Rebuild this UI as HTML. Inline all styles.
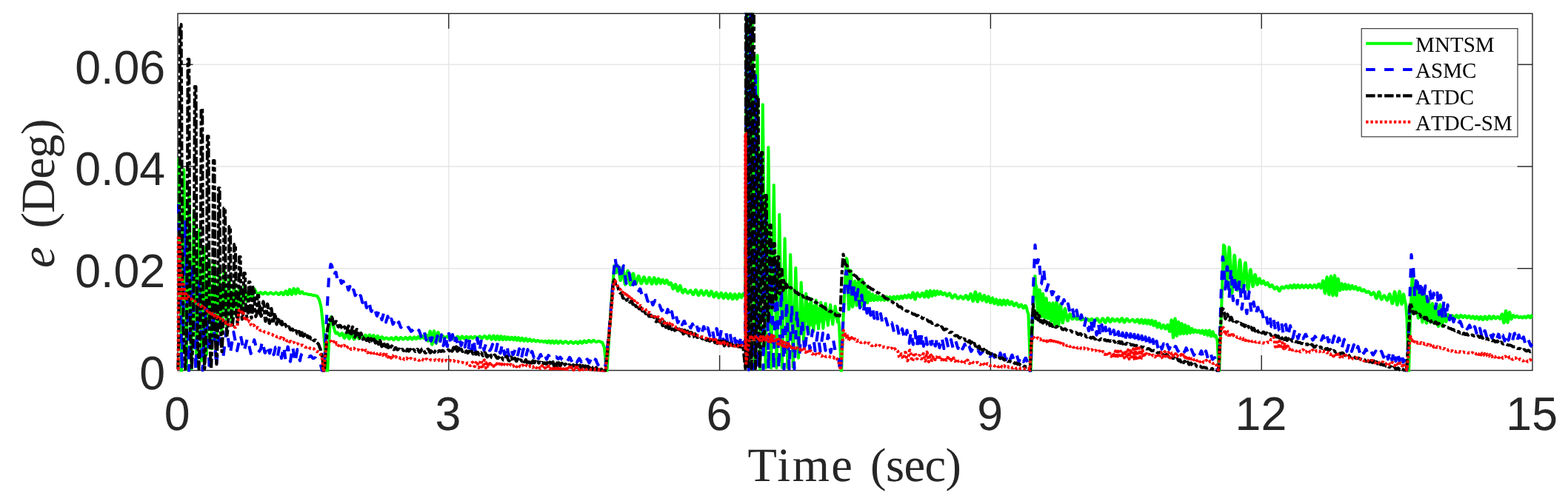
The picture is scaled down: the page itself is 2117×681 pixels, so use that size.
<!DOCTYPE html>
<html lang="en">
<head>
<meta charset="utf-8">
<title>Tracking error e (Deg) versus Time (sec)</title>
<style>
html,body{margin:0;padding:0;background:#fff;}
body{width:2117px;height:681px;overflow:hidden;}
svg{display:block;}
text{text-rendering:geometricPrecision;}
.tick{font-family:"Liberation Sans",sans-serif;font-size:63.6px;fill:#262626;}
.lab{font-family:"Liberation Serif",serif;font-size:64.5px;fill:#262626;}
.leg{font-family:"Liberation Serif",serif;font-size:29.05px;fill:#000;font-kerning:none;}
.curves path{fill:none;stroke-width:4.1;stroke-linejoin:round;stroke-linecap:butt;}
</style>
</head>
<body>
<svg width="2117" height="681" viewBox="0 0 2117 681">
<defs><clipPath id="box"><rect x="238.0" y="17.6" width="1831.7" height="485.0"/></clipPath></defs>
<rect x="0" y="0" width="2117" height="681" fill="#ffffff"/>
<g stroke="#e6e6e6" stroke-width="1.4" fill="none">
<line x1="605.80" y1="500.5" x2="605.80" y2="18.3"/>
<line x1="971.60" y1="500.5" x2="971.60" y2="18.3"/>
<line x1="1337.40" y1="500.5" x2="1337.40" y2="18.3"/>
<line x1="1703.20" y1="500.5" x2="1703.20" y2="18.3"/>
<line x1="240.0" y1="362.73" x2="2069.0" y2="362.73"/>
<line x1="240.0" y1="224.96" x2="2069.0" y2="224.96"/>
<line x1="240.0" y1="87.19" x2="2069.0" y2="87.19"/>
</g>
<g stroke="#262626" stroke-width="1.4" fill="none">
<rect x="240.0" y="18.3" width="1829.0" height="482.2"/>
<line x1="605.80" y1="500.5" x2="605.80" y2="480.0"/>
<line x1="605.80" y1="18.3" x2="605.80" y2="38.8"/>
<line x1="971.60" y1="500.5" x2="971.60" y2="480.0"/>
<line x1="971.60" y1="18.3" x2="971.60" y2="38.8"/>
<line x1="1337.40" y1="500.5" x2="1337.40" y2="480.0"/>
<line x1="1337.40" y1="18.3" x2="1337.40" y2="38.8"/>
<line x1="1703.20" y1="500.5" x2="1703.20" y2="480.0"/>
<line x1="1703.20" y1="18.3" x2="1703.20" y2="38.8"/>
<line x1="240.0" y1="362.73" x2="260.5" y2="362.73"/>
<line x1="2069.0" y1="362.73" x2="2048.5" y2="362.73"/>
<line x1="240.0" y1="224.96" x2="260.5" y2="224.96"/>
<line x1="2069.0" y1="224.96" x2="2048.5" y2="224.96"/>
<line x1="240.0" y1="87.19" x2="260.5" y2="87.19"/>
<line x1="2069.0" y1="87.19" x2="2048.5" y2="87.19"/>
</g>
<g class="curves" clip-path="url(#box)">
<path d="M1091.6 409.2L1094.9 438.9L1098.3 413.7L1101.7 436.5L1105.0 417.0L1108.2 434.1L1111.4 419.0L1114.6 431.0L1117.8 419.1L1121.1 427.7L1124.3 421.2L1127.6 427.3L1130.8 423.4L1134.1 425.3" stroke="#00ff00"/>
<path d="M241.5 212.9L244.9 501.8L248.3 229.3L251.7 499.3L255.1 255.3L258.5 498.1L261.9 284.1L265.3 495.2L268.7 310.4L272.1 487.4L275.5 334.2L278.9 479.2L282.3 350.5L285.7 471.3L289.1 355.2L292.5 461.0L295.9 359.8L299.3 451.3L302.7 364.1L306.1 440.6L309.5 377.6L312.9 436.7L316.3 380.3L319.7 426.5L323.1 389.0L326.5 420.0L329.9 387.4L333.3 407.2L336.7 389.5L340.1 406.1L343.5 390.2L346.0 395.2L346.5 395.5L347.0 396.0L347.5 396.4L348.0 396.8L348.5 397.0L349.0 396.9L349.5 396.6L350.0 396.2L350.5 395.7L351.0 395.3L351.5 395.1L352.0 395.1L352.5 395.4L353.0 395.9L353.5 396.5L354.0 397.0L354.5 397.3L355.0 397.4L355.5 397.2L356.0 396.7L356.5 396.2L357.0 395.6L357.5 395.2L358.0 395.0L358.5 395.0L359.0 395.4L359.5 395.9L360.0 396.4L360.5 397.0L361.0 397.3L361.5 397.5L362.0 397.4L362.5 397.2L363.0 396.8L363.5 396.3L364.0 395.9L364.5 395.5L365.0 395.4L365.5 395.4L366.0 395.6L366.5 395.9L367.0 396.3L367.5 396.7L368.0 397.0L368.5 397.3L369.0 397.4L369.5 397.4L370.0 397.3L370.5 396.9L371.0 396.5L371.5 396.1L372.0 395.7L372.5 395.4L373.0 395.4L373.5 395.6L374.0 396.0L374.5 396.5L375.0 397.1L375.5 397.6L376.0 397.9L376.5 398.0L377.0 397.7L377.5 397.2L378.0 396.5L378.5 395.8L379.0 395.3L379.5 395.1L380.0 395.2L380.5 395.6L381.0 396.4L381.5 397.2L382.0 397.9L382.5 398.3L383.0 398.1L383.5 397.4L384.0 396.2L384.5 394.9L385.0 393.8L385.5 393.2L386.0 393.3L386.5 394.1L387.0 395.5L387.5 396.9L388.0 398.0L388.5 398.2L389.0 397.5L389.5 396.0L390.0 394.0L390.5 392.2L391.0 391.2L391.5 391.4L392.0 392.6L392.5 394.5L393.0 396.4L393.5 397.7L394.0 398.0L394.5 397.0L395.0 395.1L395.5 392.8L396.0 390.9L396.5 389.9L397.0 390.1L397.5 391.4L398.0 393.4L398.5 395.4L399.0 396.9L399.5 397.2L400.0 396.3L400.5 394.5L401.0 392.2L401.5 390.7L402.0 390.1L402.5 390.5L403.0 391.8L403.5 393.4L404.0 395.0L404.5 396.1L405.0 396.5L405.5 396.3L406.0 395.7L406.5 394.9L407.0 394.4L407.5 394.2L408.0 394.3L408.5 394.8L409.0 395.5L409.5 396.1L410.0 396.6L410.5 396.9L411.0 397.0L411.5 397.0L412.0 396.9L412.5 396.8L413.0 396.7L413.5 396.8L414.0 396.9L414.5 397.1L415.0 397.3L415.5 397.6L416.0 397.8L416.5 398.0L417.0 398.1L417.5 398.1L418.0 398.0L418.5 398.0L419.0 398.0L419.5 398.0L420.0 398.1L420.5 398.3L421.0 398.6L421.5 398.8L422.0 399.0L422.5 399.1L423.0 399.1L423.5 399.1L424.0 399.1L424.5 399.2L425.0 399.2L425.5 399.3L426.0 399.4L426.5 399.6L427.0 399.8L427.5 399.9L428.0 400.0L428.3 400.1L428.5 400.4L429.0 401.3L429.5 402.2L430.0 403.1L430.5 404.1L431.0 405.0L431.5 406.9L432.0 408.8L432.5 410.8L433.0 412.7L433.5 414.6L434.0 419.2L434.5 423.8L435.0 428.4L435.5 433.0L436.0 437.6L436.5 442.2L436.7 444.0L437.0 448.1L437.5 454.8L438.0 461.6L438.5 468.4L439.0 475.2L439.5 481.9L439.8 486.0L440.0 487.7L440.5 492.0L441.0 496.4L441.5 500.7L442.0 505.0L442.5 495.0L443.0 485.0L443.5 475.0L444.0 465.0L444.5 456.5L445.0 448.0L445.5 439.5L446.0 431.0L446.5 430.0L447.0 429.0L447.5 428.0L448.0 430.3L448.5 432.5L449.0 434.5L449.5 436.7L450.0 439.1L450.5 441.1L451.0 443.2L451.5 445.2L452.0 447.1L452.5 448.6L453.0 449.7L453.5 450.6L454.0 450.0L454.5 449.5L455.0 449.3L455.5 449.4L456.0 449.8L456.5 450.4L457.0 451.2L457.5 452.1L458.0 452.9L458.5 453.4L459.0 453.5L459.5 453.2L460.0 452.5L460.5 451.5L461.0 450.7L461.5 450.2L462.0 450.3L462.5 451.0L463.0 452.3L463.5 453.8L464.0 455.4L464.5 456.5L465.0 456.9L465.5 456.5L466.0 455.4L466.5 453.9L467.0 452.2L467.5 450.8L468.0 450.1L468.5 450.2L469.0 451.1L469.5 452.7L470.0 454.5L470.5 456.2L471.0 457.4L471.5 457.9L472.0 457.4L472.5 456.3L473.0 454.6L473.5 452.8L474.0 451.3L474.5 450.4L475.0 450.2L475.5 451.0L476.0 452.4L476.5 454.2L477.0 456.1L477.5 457.6L478.0 458.4L478.5 458.2L479.0 457.3L479.5 455.8L480.0 454.1L480.5 452.5L481.0 451.5L481.5 451.2L482.0 451.7L482.5 452.8L483.0 454.3L483.5 455.9L484.0 457.0L484.5 457.6L485.0 457.5L485.5 456.7L486.0 455.5L486.5 454.2L487.0 453.2L487.5 452.7L488.0 452.8L488.5 453.5L489.0 454.6L489.5 455.8L490.0 456.8L490.5 457.4L491.0 457.4L491.5 456.8L492.0 455.6L492.5 454.2L493.0 453.1L493.5 452.7L494.0 453.0L494.5 454.2L495.0 455.8L495.5 457.4L496.0 458.4L496.5 458.5L497.0 457.7L497.5 456.1L498.0 454.3L498.5 452.9L499.0 452.4L499.5 453.1L500.0 454.8L500.5 456.8L501.0 458.5L501.5 459.2L502.0 458.8L502.5 457.4L503.0 455.6L503.5 454.0L504.0 453.1L504.5 453.1L505.0 454.1L505.5 455.8L506.0 457.5L506.5 458.7L507.0 459.2L507.5 458.7L508.0 457.6L508.5 456.0L509.0 454.7L509.5 453.8L510.0 453.8L510.5 454.5L511.0 455.8L511.5 457.3L512.0 458.4L512.5 459.0L513.0 458.8L513.5 458.1L514.0 457.1L514.5 456.1L515.0 455.3L515.5 455.1L516.0 455.3L516.5 455.9L517.0 456.7L517.5 457.5L518.0 458.0L518.5 458.3L519.0 458.2L519.5 457.8L520.0 457.4L520.5 456.9L521.0 456.6L521.5 456.5L522.0 456.6L522.5 456.7L523.0 457.0L523.5 457.4L524.0 457.9L524.5 458.3L525.0 458.5L525.5 458.5L526.0 458.2L526.5 457.7L527.0 457.1L527.5 456.6L528.0 456.2L528.5 456.2L529.0 456.5L529.5 457.1L530.0 457.8L530.5 458.6L531.0 459.1L531.5 459.3L532.0 459.1L532.5 458.5L533.0 457.6L533.5 456.6L534.0 455.9L534.5 455.6L535.0 455.7L535.5 456.2L536.0 457.0L536.5 457.8L537.0 458.6L537.5 459.0L538.0 459.1L538.5 458.7L539.0 458.1L539.5 457.4L540.0 456.6L540.5 456.1L541.0 455.9L541.5 456.0L542.0 456.4L542.5 457.0L543.0 457.6L543.5 458.1L544.0 458.4L544.5 458.5L545.0 458.3L545.5 457.8L546.0 457.2L546.5 456.6L547.0 456.1L547.5 455.8L548.0 455.9L548.5 456.4L549.0 457.0L549.5 457.8L550.0 458.3L550.5 458.6L551.0 458.5L551.5 458.1L552.0 457.3L552.5 456.5L553.0 455.8L553.5 455.5L554.0 455.6L554.5 456.2L555.0 457.0L555.5 457.8L556.0 458.4L556.5 458.6L557.0 458.4L557.5 457.7L558.0 456.8L558.4 456.2L558.5 456.0L559.0 455.5L559.5 455.4L560.0 455.8L560.5 456.5L561.0 457.2L561.5 457.8L562.0 458.0L562.5 457.7L563.0 457.0L563.5 456.2L564.0 455.4L564.5 454.9L565.0 455.0L565.5 455.4L566.0 456.1L566.5 456.8L567.0 457.3L567.5 457.3L568.0 456.9L568.5 456.0L569.0 455.0L569.5 454.2L570.0 453.9L570.5 454.2L571.0 454.9L571.5 455.9L572.0 456.8L572.5 457.2L573.0 457.0L573.5 456.1L574.0 454.9L574.5 453.7L575.0 452.9L575.5 452.5L576.0 453.1L576.5 454.8L577.0 457.3L577.5 459.6L578.0 460.8L578.5 460.2L579.0 457.5L579.5 453.7L580.0 449.8L580.5 447.5L581.0 448.0L581.5 451.1L582.0 456.1L582.5 461.4L583.0 465.1L583.5 465.5L584.0 462.8L584.5 458.1L585.0 452.9L585.5 448.8L586.0 447.1L586.5 448.3L587.0 451.9L587.5 456.6L588.0 461.0L588.5 463.6L589.0 463.8L589.5 461.7L590.0 457.9L590.5 453.7L591.0 450.4L591.5 448.9L592.0 449.5L592.5 452.1L593.0 455.2L593.5 458.0L594.0 459.7L594.5 459.8L595.0 458.7L595.5 457.1L596.0 455.5L596.5 454.3L597.0 453.7L597.5 453.7L598.0 454.1L598.5 454.5L599.0 455.0L599.5 455.5L600.0 456.0L600.5 456.3L601.0 456.4L601.5 456.2L602.0 455.8L602.5 455.4L603.0 454.9L603.5 454.6L604.0 454.5L604.5 454.7L605.0 455.2L605.5 455.8L606.0 456.4L606.5 457.0L607.0 457.4L607.5 457.5L608.0 457.4L608.5 457.0L609.0 456.5L609.5 455.9L610.0 455.5L610.5 455.2L611.0 455.2L611.5 455.4L612.0 455.8L612.5 456.4L613.0 457.0L613.5 457.6L614.0 458.0L614.5 458.1L615.0 457.8L615.5 457.3L616.0 456.5L616.5 455.7L617.0 455.0L617.5 454.7L618.0 454.7L618.5 455.1L619.0 455.9L619.5 456.8L620.0 457.6L620.5 458.2L621.0 458.3L621.5 457.9L622.0 457.1L622.5 456.1L623.0 455.2L623.5 454.6L624.0 454.5L624.5 454.8L625.0 455.5L625.5 456.4L626.0 457.1L626.5 457.6L627.0 457.7L627.5 457.4L628.0 456.7L628.5 455.9L629.0 455.2L629.5 454.8L630.0 454.8L630.5 455.2L631.0 455.8L631.5 456.5L632.0 457.0L632.5 457.2L633.0 457.0L633.5 456.6L634.0 456.0L634.5 455.4L635.0 455.0L635.5 454.8L636.0 455.1L636.5 455.5L637.0 456.1L637.5 456.6L638.0 456.9L638.5 457.0L639.0 456.7L639.5 456.2L640.0 455.6L640.5 455.1L641.0 454.8L641.5 454.8L642.0 455.0L642.5 455.4L643.0 455.9L643.5 456.4L644.0 456.8L644.5 456.8L645.0 456.6L645.5 456.2L646.0 455.6L646.5 455.1L647.0 454.6L647.5 454.4L648.0 454.5L648.5 454.8L649.0 455.4L649.5 456.0L650.0 456.5L650.5 456.9L651.0 457.0L651.5 456.7L652.0 456.2L652.5 455.6L653.0 454.9L653.5 454.3L654.0 454.0L654.5 454.0L655.0 454.3L655.5 454.9L656.0 455.7L656.5 456.6L657.0 457.3L657.5 457.7L658.0 457.6L658.5 457.0L659.0 456.1L659.5 455.1L660.0 454.1L660.5 453.6L661.0 453.7L661.5 454.3L662.0 455.5L662.5 456.8L663.0 458.0L663.5 458.6L664.0 458.5L664.5 457.6L665.0 456.3L665.5 454.8L666.0 453.8L666.5 453.5L667.0 454.0L667.5 455.3L668.0 456.8L668.5 458.2L669.0 458.9L669.5 458.8L670.0 457.7L670.5 456.2L671.0 454.7L671.5 453.9L672.0 454.0L672.5 455.0L673.0 456.6L673.5 458.1L674.0 459.1L674.5 459.0L675.0 458.0L675.5 456.4L676.0 454.9L676.5 454.2L677.0 454.5L677.5 455.7L678.0 457.3L678.5 458.6L679.0 459.1L679.5 458.6L680.0 457.4L680.5 456.0L681.0 455.0L681.5 454.8L682.0 455.5L682.5 456.8L683.0 458.1L683.5 458.9L684.0 458.9L684.5 458.1L685.0 456.9L685.5 455.8L686.0 455.4L686.5 455.7L687.0 456.6L687.5 457.8L688.0 458.7L688.5 459.0L689.0 458.6L689.5 457.6L690.0 456.5L690.5 455.7L691.0 455.7L691.5 456.4L692.0 457.6L692.5 458.7L693.0 459.3L693.5 459.2L694.0 458.2L694.5 457.0L695.0 456.0L695.5 455.7L696.0 456.3L696.5 457.5L697.0 458.8L697.5 459.7L698.0 459.8L698.5 459.0L699.0 457.8L699.5 456.6L700.0 456.1L700.5 456.5L701.0 457.5L701.5 458.9L702.0 459.9L702.5 460.3L703.0 459.9L703.5 458.9L704.0 457.7L704.5 456.8L705.0 456.7L705.5 457.3L706.0 458.4L706.5 459.7L707.0 460.5L707.5 460.8L708.0 460.2L708.5 459.2L709.0 458.1L709.5 457.4L710.0 457.3L710.5 457.8L711.0 458.8L711.5 459.9L712.0 460.7L712.5 461.0L713.0 460.7L713.5 460.0L714.0 459.1L714.5 458.5L715.0 458.2L715.5 458.4L716.0 459.0L716.5 459.8L717.0 460.5L717.5 461.0L718.0 461.1L718.5 460.8L719.0 460.3L719.5 459.7L720.0 459.3L720.5 459.1L721.0 459.3L721.5 459.7L722.0 460.3L722.5 460.8L723.0 461.2L723.5 461.4L724.0 461.2L724.5 460.8L725.0 460.4L725.5 460.0L726.0 459.9L726.5 460.1L727.0 460.5L727.5 460.9L728.0 461.4L728.5 461.6L729.0 461.6L729.5 461.4L730.0 461.1L730.5 460.8L731.0 460.7L731.5 460.7L732.0 460.9L732.5 461.3L733.0 461.8L733.5 462.2L734.0 462.3L734.5 462.1L735.0 461.6L735.5 461.1L736.0 460.7L736.5 460.8L737.0 461.2L737.5 461.9L738.0 462.7L738.5 463.1L739.0 463.0L739.5 462.4L740.0 461.5L740.5 460.7L741.0 460.4L741.5 460.7L742.0 461.7L742.5 462.7L743.0 463.5L743.5 463.6L744.0 463.0L744.5 462.0L745.0 461.0L745.5 460.5L746.0 460.5L746.5 461.1L747.0 462.1L747.5 463.0L748.0 463.6L748.5 463.7L749.0 463.2L749.5 462.3L750.0 461.4L750.5 460.8L751.0 460.5L751.5 460.8L752.0 461.5L752.5 462.4L753.0 463.3L753.5 463.8L754.0 463.8L754.5 463.4L755.0 462.8L755.5 462.0L756.0 461.3L756.5 460.9L757.0 460.8L757.5 461.1L758.0 461.7L758.5 462.4L759.0 463.1L759.5 463.6L760.0 463.8L760.5 463.8L761.0 463.4L761.5 462.9L762.0 462.3L762.5 461.7L763.0 461.3L763.5 461.2L764.0 461.2L764.5 461.5L765.0 462.0L765.5 462.5L766.0 463.1L766.5 463.5L767.0 463.8L767.5 463.9L768.0 463.6L768.5 463.2L769.0 462.7L769.5 462.2L770.0 461.7L770.5 461.5L771.0 461.5L771.5 461.8L772.0 462.2L772.5 462.8L773.0 463.3L773.5 463.7L774.0 463.9L774.5 463.8L775.0 463.5L775.5 463.0L776.0 462.4L776.5 462.0L777.0 461.7L777.5 461.7L778.0 462.0L778.5 462.5L779.0 463.2L779.5 463.8L780.0 464.1L780.5 464.1L781.0 463.7L781.5 463.0L782.0 462.2L782.5 461.5L783.0 461.1L783.5 461.1L784.0 461.5L784.5 462.2L785.0 462.9L785.5 463.5L786.0 463.7L786.5 463.4L787.0 462.8L787.5 462.0L788.0 461.2L788.5 460.6L789.0 460.5L789.5 460.7L790.0 461.3L790.5 462.0L791.0 462.6L791.5 463.0L792.0 463.0L792.5 462.6L793.0 462.0L793.5 461.2L794.0 460.6L794.5 460.1L795.0 460.0L795.5 460.2L796.0 460.6L796.5 461.2L797.0 461.7L797.5 462.1L798.0 462.2L798.5 462.1L799.0 461.7L799.5 461.1L800.0 460.5L800.5 460.1L801.0 459.9L801.5 459.9L802.0 460.1L802.5 460.5L803.0 460.9L803.5 461.4L804.0 461.7L804.5 462.0L805.0 462.1L805.5 462.0L806.0 461.8L806.5 461.6L807.0 461.3L807.5 461.1L808.0 461.0L808.5 460.9L809.0 461.0L809.5 461.2L810.0 461.4L810.5 461.7L811.0 462.0L811.5 462.3L812.0 462.4L812.5 462.5L813.0 462.5L813.5 463.6L814.0 464.7L814.5 465.9L815.0 467.2L815.5 468.6L816.0 470.0L816.5 475.5L817.0 480.9L817.5 486.4L818.0 491.9L818.5 497.3L819.0 502.8L819.2 505.0L819.5 500.2L820.0 492.1L820.5 484.1L821.0 476.1L821.5 468.0L822.0 460.0L822.5 452.5L823.0 445.0L823.5 437.5L824.0 430.0L824.5 422.5L825.0 415.0L825.5 407.5L825.6 406.0L826.0 401.1L826.5 394.9L827.0 388.7L827.5 382.5L828.0 376.3L828.5 370.1L829.0 363.9L829.4 359.0L829.5 359.1L830.0 360.1L830.5 361.8L831.0 364.2L831.5 366.7L832.0 368.5L832.5 367.2L833.0 365.0L833.5 362.4L834.0 360.4L834.5 359.6L835.0 360.6L835.5 363.4L836.0 367.5L836.5 372.2L837.0 376.2L837.5 378.8L838.0 379.0L838.5 377.0L839.0 373.2L839.5 368.6L840.0 364.3L840.5 361.5L841.0 361.0L841.5 363.5L842.0 367.9L842.5 373.3L843.0 378.5L843.5 382.5L844.0 384.6L844.5 384.3L845.0 381.9L845.5 378.1L846.0 373.7L846.5 369.7L847.0 366.9L847.5 365.8L848.0 366.7L848.4 368.6L848.5 369.2L849.0 372.9L849.5 377.0L850.0 380.8L850.5 383.6L851.0 385.0L851.5 384.8L852.0 383.2L852.5 380.4L853.0 377.1L853.5 373.8L854.0 371.2L854.5 369.7L855.0 369.5L855.5 370.6L856.0 372.9L856.5 375.7L857.0 378.7L857.5 381.3L858.0 383.1L858.5 383.8L859.0 383.3L859.5 381.8L860.0 379.7L860.5 377.3L861.0 375.1L861.5 373.5L862.0 372.8L862.5 373.0L863.0 374.1L863.5 375.9L864.0 378.0L864.5 380.1L865.0 381.9L865.5 383.0L866.0 383.3L866.5 382.7L867.0 381.3L867.5 379.4L868.0 377.4L868.5 375.7L869.0 374.5L869.5 374.2L870.0 374.6L870.5 375.9L871.0 377.6L871.5 379.5L872.0 381.3L872.5 382.5L873.0 383.1L873.5 382.9L874.0 382.0L874.5 380.5L875.0 378.7L875.5 377.0L876.0 375.6L876.5 374.9L877.0 375.1L877.5 376.1L878.0 377.8L878.5 379.8L879.0 381.7L879.5 383.1L880.0 383.7L880.5 383.3L881.0 381.9L881.5 380.0L882.0 377.9L882.5 376.1L883.0 375.1L883.5 375.3L884.0 376.4L884.5 378.4L885.0 380.7L885.5 382.7L886.0 383.7L886.5 383.7L887.0 382.6L887.5 380.8L888.0 378.8L888.5 377.2L889.0 376.4L889.5 376.7L890.0 377.8L890.5 379.5L891.0 381.2L891.5 382.5L891.6 382.7L892.0 383.0L892.5 382.5L893.0 381.3L893.5 379.8L894.0 378.5L894.5 377.8L895.0 377.9L895.5 378.8L896.0 380.2L896.5 381.6L897.0 382.7L897.5 383.0L898.0 382.5L898.5 381.4L899.0 380.1L899.5 379.0L900.0 378.4L900.5 378.7L901.0 379.6L901.5 380.9L902.0 382.2L902.5 383.7L903.0 384.5L903.5 384.5L904.0 384.0L904.5 383.1L905.0 382.3L905.5 382.0L906.0 382.3L906.5 383.4L907.0 385.1L907.5 387.1L908.0 389.1L908.5 390.2L909.0 390.5L909.5 389.9L910.0 388.6L910.5 387.0L911.0 385.4L911.5 384.3L912.0 384.1L912.5 384.9L913.0 386.5L913.5 388.6L914.0 390.7L914.5 392.5L915.0 393.4L915.5 393.3L916.0 392.2L916.5 390.5L917.0 388.5L917.5 386.8L918.0 385.8L918.5 386.0L919.0 387.1L919.5 388.9L920.0 391.1L920.5 393.1L921.0 394.7L921.5 395.5L922.0 395.6L922.5 395.0L923.0 393.9L923.5 392.7L924.0 391.7L924.5 391.0L925.0 390.9L925.5 391.4L926.0 392.3L926.5 393.3L927.0 394.3L927.5 395.2L928.0 395.9L928.5 396.1L929.0 396.0L929.5 395.7L930.0 395.1L930.5 394.3L931.0 393.5L931.5 392.8L932.0 392.4L932.5 392.4L933.0 392.9L933.5 393.8L934.0 395.0L934.5 396.3L935.0 397.4L935.5 398.1L936.0 398.2L936.5 397.8L937.0 396.8L937.5 395.4L937.6 395.1L938.0 394.0L938.5 392.7L939.0 391.8L939.5 391.6L940.0 392.1L940.5 393.2L941.0 394.8L941.5 396.4L942.0 397.8L942.5 398.8L943.0 399.1L943.5 398.7L944.0 397.8L944.5 396.5L945.0 395.1L945.5 393.8L946.0 392.8L946.5 392.5L947.0 392.7L947.5 393.5L948.0 394.7L948.5 396.1L949.0 397.3L949.5 398.2L950.0 398.7L950.5 398.5L951.0 397.9L951.5 396.9L952.0 395.6L952.5 394.4L953.0 393.4L953.5 392.9L954.0 393.0L954.5 393.7L955.0 394.9L955.5 396.5L956.0 398.0L956.5 399.2L957.0 399.8L957.5 399.7L958.0 398.9L958.5 397.6L959.0 396.1L959.5 394.8L960.0 393.8L960.5 393.5L961.0 394.0L961.5 395.2L962.0 396.8L962.5 398.6L963.0 400.2L963.5 401.1L964.0 401.4L964.5 400.8L965.0 399.7L965.5 398.2L966.0 396.7L966.5 395.6L967.0 395.1L967.5 395.4L967.8 395.9L968.0 396.3L968.5 397.7L969.0 399.4L969.5 400.9L970.0 401.9L970.5 402.3L971.0 401.8L971.5 400.7L972.0 399.1L972.5 397.5L973.0 396.3L973.5 395.7L974.0 395.9L974.5 396.9L975.0 398.4L975.5 400.2L976.0 401.8L976.5 402.8L977.0 402.9L977.5 402.3L978.0 401.0L978.5 399.3L979.0 397.7L979.5 396.6L980.0 396.3L980.5 396.8L981.0 398.1L981.5 399.8L982.0 401.6L982.5 402.9L983.0 403.5L983.5 403.3L984.0 402.2L984.5 400.6L985.0 398.9L985.5 397.5L986.0 396.8L986.5 397.1L987.0 398.2L987.5 399.9L988.0 401.7L988.5 403.3L989.0 404.2L989.5 404.1L990.0 403.1L990.5 401.5L991.0 399.6L991.5 398.1L992.0 397.3L992.5 397.5L993.0 398.6L993.5 400.2L994.0 402.0L994.5 403.5L995.0 404.1L995.5 403.8L996.0 402.6L996.5 400.8L997.0 399.0L997.5 397.6L998.0 396.9L998.5 397.2L999.0 398.2L999.5 399.6L1000.0 401.0L1000.5 401.9L1001.0 402.2L1001.5 401.6L1002.0 400.5L1002.5 399.1L1003.0 397.8L1003.5 396.9L1004.0 397.2L1004.5 397.9L1005.0 398.6L1005.5 399.1L1006.0 399.3L1006.3 399.3L1008.3 -59.9L1011.8 498.2L1015.2 -60.4L1018.9 497.8L1022.5 74.8L1026.2 498.4L1029.8 141.3L1033.6 496.9L1037.4 199.1L1041.1 497.3L1044.8 250.1L1048.5 497.2L1052.3 289.8L1055.9 496.8L1059.6 322.4L1063.4 497.3L1067.2 344.0L1070.8 495.9L1074.3 362.0L1078.0 483.6L1081.7 381.6L1085.0 459.2L1088.2 396.9L1091.6 451.1L1094.9 403.6L1098.3 447.0L1101.7 405.6L1105.0 444.3L1108.2 408.8L1111.4 443.6L1114.6 410.0L1117.8 439.6L1121.1 411.8L1124.3 438.2L1127.6 413.8L1130.8 435.2L1131.5 427.8L1132.0 432.8L1132.5 436.4L1133.0 440.2L1133.5 450.3L1134.0 461.0L1134.5 472.0L1135.0 483.2L1135.5 494.2L1136.0 505.0L1136.5 490.0L1137.0 475.0L1137.5 460.0L1138.0 445.0L1138.5 430.0L1139.0 420.6L1139.5 411.2L1140.0 401.7L1140.5 392.3L1141.0 382.9L1141.5 373.5L1142.0 364.1L1142.5 354.7L1142.8 349.0L1143.0 351.0L1143.5 350.6L1144.0 353.6L1144.5 366.7L1145.0 390.5L1145.5 408.3L1146.0 418.1L1146.5 416.5L1147.0 404.7L1147.5 387.7L1148.0 372.5L1148.5 365.4L1149.0 369.0L1149.5 380.7L1150.0 395.5L1150.5 408.1L1151.0 414.7L1151.5 414.0L1152.0 407.3L1152.5 397.6L1153.0 388.5L1153.5 382.7L1154.0 379.8L1154.5 382.1L1155.0 389.1L1155.5 398.7L1156.0 407.7L1156.5 412.8L1157.0 411.9L1157.5 405.0L1158.0 394.4L1158.5 383.9L1159.0 377.4L1159.5 377.5L1160.0 384.4L1160.5 395.8L1161.0 407.3L1161.5 414.5L1162.0 414.5L1162.5 407.3L1163.0 395.6L1163.5 384.3L1164.0 377.6L1164.5 378.6L1165.0 387.4L1165.5 399.3L1166.0 409.3L1166.5 413.7L1167.0 411.2L1167.5 403.4L1168.0 394.1L1168.5 387.5L1169.0 386.1L1169.5 390.3L1170.0 397.8L1170.5 405.1L1171.0 409.2L1171.5 408.6L1172.0 404.2L1172.5 398.7L1173.0 394.8L1173.5 394.3L1174.0 396.7L1174.5 400.5L1175.0 404.2L1175.5 406.1L1176.0 405.7L1176.5 403.2L1177.0 400.0L1177.5 397.7L1178.0 397.4L1178.5 399.2L1179.0 402.1L1179.5 404.7L1180.0 406.0L1180.5 405.4L1181.0 403.3L1181.5 401.0L1182.0 399.4L1182.5 399.3L1183.0 400.7L1183.5 402.8L1184.0 404.7L1184.5 405.7L1185.0 405.4L1185.5 404.0L1186.0 402.2L1186.5 400.8L1187.0 400.4L1187.5 401.1L1188.0 402.7L1188.5 404.4L1189.0 405.5L1189.5 405.6L1190.0 404.7L1190.5 403.0L1191.0 401.4L1191.5 400.6L1192.0 400.8L1192.5 401.9L1193.0 403.6L1193.5 405.0L1194.0 405.7L1194.5 405.4L1195.0 404.2L1195.5 402.6L1196.0 401.3L1196.5 400.7L1197.0 401.2L1197.5 402.4L1198.0 403.9L1198.5 405.2L1199.0 405.6L1199.5 405.1L1200.0 404.0L1200.5 402.6L1200.6 402.4L1201.0 401.5L1201.5 401.1L1202.0 401.4L1202.5 402.5L1203.0 403.8L1203.5 404.7L1204.0 405.1L1204.5 404.6L1205.0 403.5L1205.5 402.1L1206.0 401.1L1206.5 400.7L1207.0 401.1L1207.5 402.1L1208.0 403.3L1208.5 404.2L1209.0 404.5L1209.5 404.0L1210.0 402.9L1210.5 401.6L1211.0 400.7L1211.5 400.3L1212.0 400.7L1212.5 401.7L1213.0 402.8L1213.5 403.6L1214.0 403.9L1214.5 403.4L1215.0 402.3L1215.5 401.1L1216.0 400.2L1216.5 399.8L1217.0 400.2L1217.5 401.0L1218.0 402.1L1218.5 402.9L1219.0 403.1L1219.5 402.6L1220.0 401.6L1220.5 400.4L1221.0 399.5L1221.5 399.1L1222.0 399.4L1222.5 400.2L1223.0 401.2L1223.5 402.0L1224.0 402.4L1224.5 402.1L1225.0 401.3L1225.5 400.2L1226.0 399.2L1226.5 398.5L1227.0 398.3L1227.5 398.8L1228.0 399.6L1228.5 400.7L1229.0 401.8L1229.5 402.5L1230.0 402.5L1230.5 401.5L1231.0 399.9L1231.5 397.9L1232.0 396.2L1232.5 395.3L1233.0 395.6L1233.5 397.2L1234.0 399.6L1234.5 402.1L1235.0 404.1L1235.5 404.6L1236.0 403.8L1236.5 402.0L1237.0 399.8L1237.5 397.7L1238.0 396.3L1238.5 395.8L1239.0 396.1L1239.5 397.1L1240.0 398.3L1240.5 399.5L1241.0 400.4L1241.5 400.8L1242.0 400.9L1242.5 400.8L1243.0 400.1L1243.5 399.1L1244.0 397.8L1244.5 396.6L1245.0 395.8L1245.5 395.7L1246.0 396.3L1246.5 397.6L1247.0 399.2L1247.5 400.6L1248.0 401.5L1248.5 401.4L1249.0 400.2L1249.5 398.2L1250.0 395.9L1250.5 394.0L1251.0 393.3L1251.5 393.9L1252.0 395.8L1252.5 398.4L1253.0 400.7L1253.5 401.7L1254.0 401.1L1254.4 399.5L1254.5 399.0L1255.0 396.3L1255.5 393.9L1256.0 392.7L1256.5 393.2L1257.0 395.0L1257.5 397.4L1258.0 399.5L1258.5 400.2L1259.0 399.4L1259.5 397.4L1260.0 395.0L1260.5 393.3L1261.0 393.1L1261.5 394.3L1262.0 396.3L1262.5 398.2L1263.0 399.0L1263.5 398.3L1264.0 396.6L1264.5 394.6L1265.0 393.4L1265.5 393.3L1266.0 394.3L1266.5 395.8L1267.0 397.2L1267.5 397.8L1267.8 397.7L1268.0 397.5L1268.5 396.6L1269.0 395.3L1269.5 394.4L1270.0 394.0L1270.5 394.5L1271.0 395.4L1271.5 396.6L1272.0 397.6L1272.5 398.2L1273.0 398.2L1273.5 397.7L1274.0 397.0L1274.5 396.4L1275.0 395.8L1275.5 395.7L1276.0 395.9L1276.5 396.6L1277.0 397.6L1277.5 398.7L1278.0 399.5L1278.5 399.9L1279.0 399.9L1279.5 399.4L1280.0 398.6L1280.5 397.7L1281.0 396.9L1281.5 396.4L1282.0 396.3L1282.5 396.7L1283.0 397.5L1283.5 398.7L1284.0 399.9L1284.5 401.1L1285.0 402.1L1285.5 402.7L1286.0 402.6L1286.5 402.2L1287.0 401.4L1287.5 400.4L1288.0 399.5L1288.5 398.7L1289.0 398.2L1289.5 398.2L1290.0 398.5L1290.5 399.3L1291.0 400.2L1291.5 401.3L1292.0 402.3L1292.5 403.1L1293.0 403.5L1293.5 403.6L1294.0 403.4L1294.5 402.9L1294.7 402.6L1295.0 402.2L1295.5 401.4L1296.0 400.8L1296.5 400.4L1297.0 400.2L1297.5 400.3L1298.0 400.8L1298.5 401.5L1299.0 402.3L1299.5 403.1L1300.0 403.7L1300.5 403.9L1301.0 403.7L1301.5 403.1L1302.0 402.1L1302.5 401.0L1303.0 400.0L1303.5 399.3L1304.0 399.0L1304.5 399.3L1305.0 400.2L1305.5 401.4L1306.0 402.8L1306.5 403.9L1307.0 404.6L1307.5 404.6L1308.0 403.9L1308.5 402.6L1309.0 400.9L1309.5 399.1L1310.0 397.7L1310.5 397.0L1311.0 397.4L1311.5 398.7L1312.0 400.9L1312.5 403.4L1313.0 405.6L1313.5 406.9L1314.0 406.8L1314.5 405.4L1315.0 402.7L1315.5 399.5L1316.0 396.6L1316.5 394.6L1317.0 394.3L1317.5 395.6L1318.0 398.4L1318.5 402.0L1319.0 405.2L1319.5 407.3L1320.0 407.7L1320.5 406.5L1321.0 404.0L1321.5 401.1L1322.0 398.5L1322.5 397.0L1323.0 396.9L1323.5 398.0L1324.0 400.0L1324.5 402.2L1325.0 404.0L1325.5 405.5L1326.0 406.0L1326.5 405.5L1327.0 404.2L1327.5 402.3L1328.0 400.4L1328.5 399.2L1329.0 399.0L1329.5 399.9L1330.0 401.9L1330.5 404.3L1331.0 406.5L1331.5 407.8L1332.0 407.9L1332.5 406.8L1333.0 404.9L1333.5 402.8L1334.0 401.1L1334.5 400.5L1335.0 401.1L1335.5 402.9L1336.0 405.3L1336.5 407.6L1337.0 409.0L1337.5 409.2L1338.0 408.2L1338.5 406.3L1339.0 404.3L1339.5 402.9L1340.0 402.5L1340.5 403.4L1341.0 405.3L1341.5 407.6L1342.0 409.5L1342.5 410.4L1343.0 410.1L1343.5 408.7L1344.0 406.8L1344.5 405.1L1345.0 404.4L1345.5 404.9L1346.0 406.5L1346.5 408.6L1347.0 410.6L1347.5 411.6L1348.0 411.4L1348.4 410.4L1348.5 410.1L1349.0 408.1L1349.5 406.3L1350.0 405.4L1350.5 405.9L1351.0 407.6L1351.5 409.7L1352.0 411.4L1352.5 412.0L1353.0 411.3L1353.5 409.5L1354.0 407.5L1354.5 406.0L1355.0 405.5L1355.5 406.2L1356.0 407.8L1356.5 409.7L1357.0 411.2L1357.5 411.7L1358.0 411.2L1358.5 409.9L1359.0 408.2L1359.5 406.7L1360.0 405.9L1360.5 406.0L1361.0 407.0L1361.5 408.4L1361.9 409.6L1362.0 409.9L1362.5 411.1L1363.0 411.6L1363.5 411.4L1364.0 410.5L1364.5 409.3L1365.0 408.2L1365.5 407.5L1366.0 407.5L1366.5 408.1L1367.0 409.2L1367.5 410.5L1368.0 411.8L1368.5 412.8L1369.0 413.2L1369.5 413.0L1370.0 412.4L1370.5 411.5L1371.0 410.6L1371.5 409.8L1372.0 409.5L1372.5 409.7L1373.0 410.3L1373.5 411.3L1374.0 412.4L1374.5 413.5L1375.0 414.4L1375.3 414.7L1375.5 414.8L1376.0 414.8L1376.5 414.3L1377.0 413.5L1377.5 412.6L1378.0 411.9L1378.5 411.5L1379.0 411.7L1379.5 412.3L1380.0 413.4L1380.5 414.6L1381.0 415.6L1381.5 416.2L1382.0 416.3L1382.5 415.8L1383.0 414.9L1383.5 414.0L1384.0 413.2L1384.5 413.0L1385.0 413.5L1385.5 414.4L1386.0 415.7L1386.5 418.3L1387.0 420.3L1387.5 421.8L1388.0 423.2L1388.5 425.0L1389.0 438.8L1389.5 452.6L1390.0 466.4L1390.5 480.2L1391.0 494.0L1391.4 505.0L1391.5 502.5L1392.0 490.0L1392.5 477.5L1393.0 465.0L1393.5 452.5L1394.0 440.0L1394.5 430.4L1395.0 420.9L1395.5 411.3L1396.0 401.7L1396.5 392.1L1397.0 382.6L1397.5 373.0L1398.0 383.7L1398.5 386.2L1399.0 386.2L1399.5 388.6L1400.0 398.6L1400.5 411.9L1401.0 422.4L1401.5 425.6L1402.0 420.3L1402.5 409.2L1403.0 397.8L1403.5 391.5L1404.0 393.5L1404.5 402.8L1405.0 415.2L1405.5 425.1L1406.0 428.0L1406.5 423.0L1407.0 412.7L1407.5 402.1L1408.0 396.7L1408.5 399.1L1409.0 408.2L1409.5 419.5L1410.0 428.0L1410.5 429.7L1411.0 424.4L1411.5 415.0L1412.0 406.3L1412.5 402.8L1413.0 406.1L1413.5 414.5L1414.0 424.1L1414.5 430.3L1415.0 430.4L1415.5 424.9L1416.0 416.9L1416.5 410.6L1417.0 409.3L1417.5 413.5L1418.0 421.0L1418.5 429.2L1419.0 434.1L1419.5 433.4L1420.0 427.5L1420.5 418.9L1421.0 411.7L1421.5 409.3L1422.0 413.1L1422.5 421.4L1423.0 430.9L1423.5 437.6L1424.0 438.7L1424.5 433.7L1425.0 424.8L1425.5 415.2L1426.0 408.8L1426.5 407.9L1427.0 412.7L1427.5 421.6L1428.0 431.3L1428.5 438.6L1429.0 440.6L1429.5 437.4L1430.0 430.4L1430.5 422.1L1431.0 415.0L1431.5 411.2L1432.0 411.5L1432.5 415.4L1433.0 421.5L1433.5 428.1L1433.7 430.4L1434.0 433.4L1434.5 436.3L1435.0 436.3L1435.5 433.7L1436.0 429.4L1436.5 424.6L1437.0 420.3L1437.5 417.7L1438.0 417.0L1438.5 418.2L1439.0 421.0L1439.5 424.7L1440.0 428.5L1440.5 431.5L1441.0 433.3L1441.5 433.6L1442.0 432.7L1442.5 430.8L1443.0 428.4L1443.5 426.3L1444.0 424.8L1444.5 424.2L1445.0 424.6L1445.5 425.7L1446.0 427.3L1446.5 428.9L1447.0 430.3L1447.5 431.1L1448.0 431.3L1448.5 431.0L1449.0 430.2L1449.5 429.3L1450.0 428.5L1450.5 428.1L1451.0 428.0L1451.5 428.3L1452.0 429.0L1452.5 429.9L1453.0 430.7L1453.5 431.3L1454.0 431.6L1454.5 431.4L1455.0 430.9L1455.5 430.3L1456.0 429.8L1456.5 429.6L1457.0 429.7L1457.5 430.1L1458.0 430.8L1458.5 431.5L1459.0 432.0L1459.5 432.3L1460.0 432.2L1460.5 431.9L1460.6 431.8L1461.0 431.4L1461.5 430.9L1462.0 430.7L1462.5 430.7L1463.0 431.1L1463.5 431.6L1464.0 432.2L1464.5 432.6L1465.0 432.8L1465.5 432.6L1466.0 432.2L1466.5 431.6L1467.0 431.1L1467.5 430.8L1468.0 430.8L1468.5 431.1L1469.0 431.6L1469.5 432.3L1470.0 432.9L1470.5 433.3L1471.0 433.3L1471.5 433.1L1472.0 432.6L1472.5 432.0L1473.0 431.4L1473.5 430.9L1474.0 430.7L1474.5 430.9L1475.0 431.4L1475.5 432.1L1476.0 432.9L1476.5 433.6L1477.0 434.2L1477.5 434.3L1478.0 434.2L1478.5 433.6L1479.0 432.8L1479.5 431.9L1480.0 431.1L1480.5 430.6L1481.0 430.3L1481.5 430.5L1482.0 431.0L1482.5 431.8L1483.0 432.9L1483.5 433.9L1484.0 434.7L1484.5 435.3L1485.0 435.5L1485.5 435.2L1486.0 434.6L1486.5 433.6L1487.0 432.6L1487.5 431.6L1488.0 430.7L1488.5 430.2L1489.0 430.3L1489.5 430.8L1490.0 431.7L1490.5 432.9L1491.0 434.1L1491.5 435.2L1492.0 435.8L1492.5 435.9L1493.0 435.3L1493.5 434.2L1494.0 432.8L1494.5 431.3L1495.0 430.2L1495.5 429.6L1496.0 429.7L1496.5 430.5L1497.0 431.6L1497.5 433.0L1498.0 434.2L1498.5 435.0L1499.0 435.2L1499.5 434.8L1500.0 433.9L1500.5 432.7L1501.0 431.6L1501.5 430.8L1502.0 430.5L1502.5 430.7L1503.0 431.3L1503.5 432.2L1504.0 433.0L1504.5 433.6L1505.0 433.9L1505.5 433.7L1506.0 433.5L1506.5 432.9L1507.0 432.2L1507.5 431.5L1508.0 431.1L1508.5 431.0L1509.0 431.3L1509.5 432.0L1510.0 433.0L1510.5 433.9L1511.0 434.7L1511.5 434.9L1512.0 434.7L1512.5 433.9L1513.0 432.8L1513.5 431.6L1514.0 430.6L1514.5 430.0L1515.0 430.1L1515.5 430.7L1516.0 431.8L1516.5 433.2L1517.0 434.5L1517.5 435.3L1518.0 435.6L1518.5 435.4L1519.0 434.6L1519.5 433.5L1520.0 432.4L1520.5 431.5L1521.0 430.9L1521.5 430.7L1522.0 430.9L1522.5 431.5L1523.0 432.3L1523.5 433.1L1524.0 433.8L1524.5 434.3L1525.0 434.5L1525.5 434.4L1526.0 434.1L1526.5 433.7L1527.0 433.1L1527.5 432.7L1527.8 432.4L1528.0 432.2L1528.5 431.9L1529.0 431.8L1529.5 431.8L1530.0 432.2L1530.5 432.8L1531.0 433.6L1531.5 434.4L1532.0 435.0L1532.5 435.3L1533.0 435.1L1533.5 434.6L1534.0 433.7L1534.5 432.7L1535.0 431.9L1535.5 431.5L1536.0 431.7L1536.5 432.5L1537.0 433.7L1537.5 435.0L1538.0 436.1L1538.5 436.6L1539.0 436.2L1539.5 435.1L1540.0 433.7L1540.5 432.4L1541.0 431.7L1541.5 431.9L1542.0 432.9L1542.5 434.5L1543.0 436.0L1543.5 437.0L1544.0 436.9L1544.5 435.9L1545.0 434.4L1545.5 432.9L1546.0 432.1L1546.5 432.5L1547.0 433.8L1547.5 435.6L1548.0 437.1L1548.5 437.5L1549.0 436.7L1549.5 435.0L1550.0 433.4L1550.5 432.5L1551.0 432.9L1551.5 434.3L1552.0 436.2L1552.5 437.7L1553.0 438.1L1553.5 437.2L1554.0 435.6L1554.5 433.8L1554.7 433.3L1555.0 432.8L1555.5 433.1L1556.0 434.6L1556.5 436.7L1557.0 438.8L1557.5 439.9L1558.0 439.8L1558.5 438.4L1559.0 436.4L1559.5 434.7L1560.0 434.0L1560.5 434.7L1561.0 436.7L1561.5 439.2L1562.0 441.3L1562.5 442.3L1563.0 442.0L1563.5 440.7L1564.0 438.9L1564.5 437.3L1565.0 436.6L1565.5 437.0L1566.0 438.3L1566.5 440.2L1567.0 442.0L1567.5 443.3L1568.0 443.8L1568.5 443.3L1569.0 442.1L1569.5 440.8L1570.0 439.6L1570.5 439.1L1571.0 439.2L1571.5 440.0L1572.0 441.1L1572.5 442.4L1573.0 443.7L1573.5 444.5L1574.0 444.5L1574.5 443.7L1575.0 442.2L1575.5 440.5L1576.0 439.2L1576.5 438.8L1577.0 439.5L1577.5 441.3L1578.0 443.7L1578.5 446.2L1579.0 447.9L1579.5 447.9L1580.0 445.5L1580.5 441.1L1581.0 436.0L1581.5 432.4L1582.0 432.6L1582.5 436.9L1583.0 444.3L1583.5 451.8L1584.0 456.3L1584.5 454.6L1585.0 448.3L1585.5 440.0L1586.0 433.1L1586.5 430.4L1587.0 432.9L1587.5 439.5L1588.0 447.2L1588.5 452.7L1589.0 453.8L1589.5 450.1L1590.0 443.8L1590.5 437.8L1591.0 434.8L1591.5 435.9L1592.0 440.3L1592.5 445.8L1593.0 450.2L1593.5 451.3L1594.0 448.8L1594.5 444.1L1595.0 439.4L1595.5 437.1L1596.0 438.2L1596.5 442.1L1597.0 446.9L1597.5 450.4L1598.0 451.0L1598.5 448.7L1599.0 444.6L1599.5 440.8L1600.0 439.0L1600.5 440.0L1601.0 443.3L1601.5 447.3L1602.0 450.3L1602.5 450.9L1603.0 449.1L1603.5 445.8L1604.0 442.5L1604.5 440.9L1605.0 441.7L1605.5 444.2L1606.0 447.2L1606.5 449.4L1607.0 450.0L1607.5 449.0L1608.0 447.1L1608.5 445.1L1609.0 443.9L1609.5 444.0L1610.0 445.2L1610.5 447.0L1611.0 448.5L1611.5 449.3L1612.0 449.0L1612.5 448.0L1613.0 446.8L1613.5 446.0L1614.0 445.8L1614.5 446.3L1615.0 447.2L1615.5 448.0L1616.0 448.7L1616.5 449.0L1617.0 448.8L1617.5 448.1L1618.0 447.2L1618.5 446.6L1619.0 446.6L1619.5 447.2L1620.0 448.4L1620.5 449.6L1621.0 450.3L1621.5 450.3L1622.0 449.4L1622.5 448.1L1623.0 447.0L1623.5 446.5L1624.0 447.0L1624.5 448.4L1625.0 450.1L1625.5 451.4L1626.0 451.8L1626.5 451.0L1627.0 449.4L1627.5 447.7L1628.0 446.6L1628.5 446.8L1629.0 448.2L1629.5 450.3L1630.0 452.3L1630.5 453.2L1631.0 452.6L1631.5 450.8L1632.0 448.5L1632.5 446.8L1633.0 446.5L1633.5 447.9L1634.0 450.4L1634.5 453.0L1635.0 454.5L1635.5 454.2L1636.0 452.4L1636.5 450.1L1637.0 448.4L1637.5 448.1L1638.0 449.4L1638.5 451.5L1639.0 453.6L1639.5 454.7L1640.0 454.8L1640.5 454.1L1641.0 453.0L1641.5 453.5L1642.0 454.8L1642.5 456.6L1643.0 458.4L1643.5 460.0L1644.0 469.0L1644.5 478.0L1645.0 487.0L1645.5 496.0L1646.0 505.0L1646.5 490.8L1647.0 476.7L1647.5 462.5L1648.0 448.3L1648.5 434.2L1649.0 420.0L1649.5 405.2L1650.0 390.3L1650.5 375.5L1651.0 360.7L1651.5 345.8L1652.0 331.0L1652.5 333.5L1653.0 332.2L1653.5 333.0L1654.0 338.2L1654.5 347.1L1655.0 357.9L1655.5 368.5L1656.0 376.4L1656.5 379.7L1657.0 377.8L1657.5 370.8L1658.0 360.5L1658.5 349.1L1659.0 339.4L1659.5 333.9L1660.0 335.2L1660.5 342.4L1661.0 354.1L1661.5 367.8L1662.0 380.9L1662.5 390.9L1663.0 396.1L1663.5 395.6L1664.0 389.9L1664.5 380.3L1665.0 368.7L1665.5 357.6L1666.0 349.1L1666.5 344.7L1667.0 345.2L1667.5 350.3L1668.0 358.8L1668.5 369.1L1669.0 379.1L1669.5 387.0L1670.0 391.6L1670.5 392.2L1671.0 389.4L1671.5 383.2L1672.0 374.9L1672.5 366.0L1673.0 358.2L1673.5 352.9L1674.0 351.1L1674.5 353.1L1675.0 358.6L1675.5 366.5L1676.0 375.5L1676.5 383.9L1677.0 390.3L1677.5 393.6L1678.0 393.2L1678.5 389.4L1679.0 382.9L1679.5 374.9L1680.0 366.7L1680.5 360.0L1681.0 355.8L1681.5 354.8L1682.0 357.6L1682.5 363.3L1683.0 370.7L1683.5 378.4L1684.0 385.2L1684.5 389.7L1685.0 391.3L1685.5 389.7L1686.0 385.5L1686.5 379.5L1687.0 373.2L1687.5 367.9L1688.0 364.6L1688.5 364.1L1689.0 366.2L1689.5 370.6L1690.0 376.1L1690.5 381.3L1691.0 385.3L1691.5 387.1L1692.0 386.4L1692.5 383.7L1693.0 379.6L1693.5 375.6L1693.7 374.2L1694.0 372.5L1694.5 371.0L1695.0 371.6L1695.5 373.9L1696.0 377.3L1696.5 380.8L1697.0 383.5L1697.5 384.7L1698.0 384.2L1698.5 382.3L1699.0 379.9L1699.5 377.6L1700.0 376.3L1700.5 376.2L1701.0 377.3L1701.5 379.2L1702.0 381.2L1702.5 382.7L1703.0 383.4L1703.5 383.2L1704.0 382.3L1704.5 381.1L1705.0 380.1L1705.5 379.5L1706.0 379.6L1706.5 380.4L1707.0 381.6L1707.5 383.0L1708.0 384.1L1708.5 384.8L1709.0 384.8L1709.5 384.3L1710.0 383.4L1710.5 382.6L1711.0 382.1L1711.5 382.1L1712.0 382.7L1712.5 383.8L1713.0 385.1L1713.5 386.3L1714.0 387.2L1714.5 387.6L1715.0 387.5L1715.5 386.9L1716.0 386.1L1716.5 385.4L1717.0 385.0L1717.5 385.0L1718.0 385.6L1718.5 386.5L1719.0 387.6L1719.5 388.8L1720.0 389.7L1720.5 390.3L1720.6 390.4L1721.0 390.5L1721.5 390.2L1722.0 389.6L1722.5 388.9L1723.0 388.2L1723.5 387.7L1724.0 387.6L1724.5 388.0L1725.0 388.8L1725.5 389.9L1726.0 391.1L1726.5 392.4L1727.0 393.3L1727.5 393.2L1728.0 392.6L1728.5 391.6L1729.0 390.4L1729.5 389.1L1730.0 388.1L1730.5 387.6L1731.0 387.5L1731.5 387.8L1732.0 388.4L1732.5 389.0L1733.0 389.5L1733.5 389.6L1734.0 389.4L1734.5 389.0L1735.0 388.3L1735.5 387.6L1736.0 386.9L1736.5 386.5L1737.0 386.4L1737.5 386.8L1738.0 387.5L1738.5 388.3L1739.0 389.0L1739.5 389.3L1740.0 389.0L1740.5 388.3L1741.0 387.2L1741.5 386.2L1742.0 385.6L1742.5 385.5L1743.0 386.2L1743.5 387.2L1744.0 388.4L1744.5 389.2L1745.0 389.2L1745.5 388.5L1746.0 387.3L1746.5 385.9L1747.0 385.0L1747.5 384.8L1748.0 385.6L1748.5 386.9L1749.0 388.2L1749.5 389.0L1750.0 389.0L1750.5 388.3L1751.0 387.1L1751.5 385.9L1752.0 385.1L1752.5 385.1L1753.0 385.7L1753.5 386.8L1754.0 387.9L1754.5 388.7L1755.0 388.8L1755.5 388.4L1756.0 387.4L1756.5 386.4L1757.0 385.6L1757.5 385.3L1758.0 385.6L1758.5 386.3L1759.0 387.2L1759.5 388.1L1760.0 388.6L1760.5 388.6L1761.0 388.1L1761.5 387.2L1762.0 386.2L1762.5 385.5L1763.0 385.2L1763.5 385.5L1764.0 386.2L1764.5 387.2L1765.0 388.1L1765.5 388.7L1766.0 388.9L1766.5 388.4L1767.0 387.6L1767.5 386.5L1768.0 385.6L1768.5 385.1L1769.0 385.1L1769.5 385.6L1770.0 386.5L1770.5 387.6L1771.0 388.4L1771.5 388.9L1772.0 388.8L1772.5 388.2L1773.0 387.3L1773.5 386.3L1774.0 385.6L1774.5 385.1L1775.0 385.1L1775.5 385.7L1776.0 386.6L1776.5 387.7L1777.0 388.5L1777.5 388.9L1778.0 388.5L1778.5 387.6L1779.0 386.3L1779.5 385.0L1780.0 384.0L1780.5 383.7L1781.0 384.1L1781.5 385.3L1782.0 386.7L1782.5 388.2L1783.0 389.0L1783.5 389.4L1784.0 388.7L1784.5 386.7L1785.0 383.8L1785.5 381.0L1786.0 379.3L1786.5 379.5L1787.0 382.2L1787.5 386.7L1788.0 391.7L1788.5 395.4L1789.0 396.4L1789.5 394.0L1790.0 388.7L1790.5 382.1L1791.0 376.8L1791.5 374.3L1792.0 375.4L1792.5 380.1L1793.0 386.8L1793.5 393.3L1794.0 397.6L1794.5 398.0L1795.0 394.3L1795.5 387.7L1796.0 380.3L1796.5 374.8L1797.0 373.2L1797.5 376.2L1798.0 382.8L1798.5 390.7L1799.0 397.0L1799.5 399.3L1800.0 396.7L1800.5 389.8L1801.0 381.4L1801.5 374.6L1802.0 372.2L1802.5 375.2L1803.0 382.6L1803.5 391.4L1804.0 398.2L1804.5 399.4L1805.0 395.2L1805.5 387.8L1806.0 380.5L1806.5 376.6L1807.0 377.4L1807.5 381.7L1808.0 387.2L1808.5 391.2L1809.0 392.5L1809.5 391.2L1810.0 388.4L1810.5 385.7L1811.0 383.6L1811.5 383.2L1812.0 384.6L1812.5 387.2L1813.0 389.7L1813.5 391.1L1814.0 390.6L1814.5 388.6L1815.0 386.1L1815.5 384.3L1816.0 384.0L1816.5 385.3L1817.0 387.5L1817.5 389.7L1818.0 390.9L1818.5 390.6L1819.0 389.1L1819.5 387.1L1820.0 385.5L1820.5 384.9L1821.0 385.6L1821.5 387.2L1822.0 389.1L1822.5 390.4L1823.0 390.7L1823.5 390.0L1824.0 388.6L1824.5 387.1L1825.0 386.1L1825.5 385.9L1826.0 386.7L1826.5 388.0L1827.0 389.4L1827.5 390.4L1828.0 390.6L1828.5 390.2L1829.0 389.2L1829.5 388.2L1830.0 387.4L1830.5 387.2L1831.0 387.7L1831.5 388.8L1832.0 390.2L1832.5 391.4L1833.0 392.0L1833.5 392.0L1834.0 391.4L1834.5 390.5L1835.0 389.5L1835.5 388.9L1836.0 389.0L1836.5 389.6L1837.0 390.6L1837.5 391.8L1838.0 392.7L1838.5 393.3L1839.0 393.3L1839.5 393.0L1840.0 392.4L1840.5 391.8L1841.0 391.3L1841.5 391.3L1841.6 391.3L1842.0 391.6L1842.5 392.2L1843.0 393.0L1843.5 393.8L1844.0 394.6L1844.5 395.0L1845.0 395.1L1845.5 395.0L1846.0 394.6L1846.5 394.3L1847.0 394.0L1847.5 393.8L1848.0 393.9L1848.5 394.3L1849.0 395.0L1849.5 395.9L1850.0 396.8L1850.5 397.7L1851.0 398.3L1851.5 398.4L1852.0 398.2L1852.5 397.6L1853.0 396.8L1853.5 395.9L1854.0 395.3L1854.5 395.1L1855.0 395.5L1855.5 396.1L1856.0 397.4L1856.5 399.0L1857.0 400.7L1857.5 402.3L1858.0 403.1L1858.5 403.2L1859.0 402.5L1859.5 401.0L1860.0 399.1L1860.5 397.0L1861.0 395.3L1861.5 394.4L1862.0 394.4L1862.5 395.4L1863.0 397.3L1863.5 399.7L1864.0 402.0L1864.5 403.7L1865.0 404.6L1865.5 404.7L1866.0 404.1L1866.5 403.0L1867.0 401.7L1867.5 400.5L1868.0 399.7L1868.5 399.4L1869.0 399.3L1869.5 399.7L1870.0 400.5L1870.5 401.4L1871.0 402.6L1871.5 403.9L1872.0 405.0L1872.5 405.6L1873.0 405.7L1873.5 405.0L1874.0 403.6L1874.5 401.8L1875.0 399.9L1875.5 398.2L1876.0 397.3L1876.5 397.3L1877.0 398.4L1877.5 400.5L1878.0 403.3L1878.5 406.2L1879.0 408.7L1879.5 410.2L1880.0 410.2L1880.5 408.6L1881.0 405.7L1881.5 402.1L1882.0 398.3L1882.5 395.4L1883.0 394.2L1883.5 394.8L1884.0 397.2L1884.5 401.0L1885.0 405.3L1885.5 409.1L1886.0 411.6L1886.5 412.1L1887.0 410.5L1887.5 407.1L1888.0 402.6L1888.5 398.1L1889.0 394.9L1889.5 393.5L1890.0 394.6L1890.5 397.9L1891.0 402.5L1891.5 406.9L1892.0 410.1L1892.5 411.2L1893.0 410.0L1893.5 407.1L1894.0 403.4L1894.5 399.8L1895.0 397.4L1895.5 398.9L1896.0 401.8L1896.5 405.0L1897.0 407.8L1897.5 409.8L1898.0 411.0L1898.5 417.3L1899.0 423.5L1899.5 430.0L1900.0 445.0L1900.5 460.0L1901.0 475.0L1901.5 490.0L1902.0 505.0L1902.5 486.2L1903.0 467.5L1903.5 448.8L1904.0 430.0L1904.5 419.2L1905.0 408.3L1905.5 397.5L1906.0 386.7L1906.5 375.8L1907.0 365.0L1907.5 380.2L1908.0 404.8L1908.5 414.7L1909.0 421.5L1909.5 423.0L1910.0 418.8L1910.5 410.4L1911.0 400.6L1911.5 392.7L1912.0 389.4L1912.5 391.9L1913.0 399.7L1913.5 410.6L1914.0 421.3L1914.5 428.4L1915.0 429.8L1915.5 425.1L1916.0 415.9L1916.5 405.1L1917.0 396.4L1917.5 392.8L1918.0 395.6L1918.5 404.1L1919.0 415.7L1919.5 426.9L1920.0 434.2L1920.5 435.4L1921.0 430.1L1921.5 420.2L1922.0 408.8L1922.5 399.8L1923.0 395.9L1923.5 398.6L1924.0 407.3L1924.5 418.7L1925.0 429.3L1925.5 435.9L1926.0 436.7L1926.5 431.7L1927.0 422.8L1927.5 413.1L1928.0 405.8L1928.5 403.2L1929.0 406.1L1929.5 413.3L1930.0 422.6L1930.5 430.9L1931.0 435.6L1931.5 435.6L1932.0 431.1L1932.5 423.7L1933.0 416.3L1933.5 411.1L1934.0 410.0L1934.5 413.2L1935.0 419.2L1935.5 426.9L1936.0 433.7L1936.5 437.3L1937.0 436.3L1937.5 430.9L1938.0 423.0L1938.5 415.3L1939.0 410.7L1939.5 410.9L1940.0 416.0L1940.5 424.4L1941.0 433.3L1941.5 439.6L1942.0 441.0L1942.5 437.1L1943.0 429.3L1943.5 420.5L1944.0 413.7L1944.5 411.6L1945.0 415.0L1945.5 422.6L1946.0 431.7L1946.5 438.4L1947.0 440.8L1947.5 438.5L1948.0 432.9L1948.5 426.1L1949.0 420.7L1949.5 418.2L1950.0 419.1L1950.5 422.9L1951.0 427.9L1951.5 432.3L1952.0 434.7L1952.5 434.7L1953.0 432.8L1953.5 429.9L1954.0 427.1L1954.5 425.4L1955.0 425.0L1955.5 425.8L1956.0 427.3L1956.5 429.0L1957.0 430.3L1957.5 431.1L1958.0 431.2L1958.5 430.6L1959.0 429.4L1959.5 428.1L1960.0 427.0L1960.5 426.4L1961.0 426.4L1961.5 427.1L1962.0 428.1L1962.5 429.2L1963.0 429.9L1963.5 430.2L1964.0 429.9L1964.5 429.1L1965.0 428.1L1965.5 427.0L1966.0 426.3L1966.5 426.0L1967.0 426.2L1967.5 426.9L1968.0 427.8L1968.5 428.7L1969.0 429.4L1969.5 429.5L1970.0 429.1L1970.5 428.4L1971.0 427.4L1971.5 426.6L1972.0 426.0L1972.5 425.9L1973.0 426.3L1973.5 427.0L1974.0 427.8L1974.5 428.5L1975.0 429.0L1975.5 429.0L1976.0 428.5L1976.5 427.8L1977.0 427.1L1977.5 426.5L1978.0 426.4L1978.5 426.7L1979.0 427.3L1979.5 428.2L1980.0 429.0L1980.5 429.5L1981.0 429.5L1981.5 429.1L1982.0 428.4L1982.5 427.6L1983.0 427.0L1983.5 426.9L1984.0 427.3L1984.5 428.1L1985.0 429.0L1985.5 429.8L1986.0 430.2L1986.5 430.0L1987.0 429.4L1987.4 428.7L1987.5 428.5L1988.0 427.8L1988.5 427.4L1989.0 427.5L1989.5 428.2L1990.0 429.1L1990.5 430.1L1991.0 430.7L1991.5 430.8L1992.0 430.3L1992.5 429.3L1993.0 428.4L1993.5 427.7L1994.0 427.6L1994.5 428.1L1995.0 429.1L1995.5 430.2L1996.0 431.1L1996.5 431.6L1997.0 431.4L1997.5 430.6L1998.0 429.5L1998.5 428.4L1999.0 427.8L1999.5 427.8L2000.0 428.5L2000.5 429.6L2001.0 430.9L2001.5 431.8L2002.0 432.1L2002.5 431.8L2003.0 430.8L2003.5 429.6L2004.0 428.4L2004.5 427.7L2005.0 427.5L2005.5 428.0L2006.0 429.0L2006.5 430.1L2007.0 431.1L2007.5 431.6L2008.0 431.6L2008.5 430.9L2009.0 429.8L2009.5 428.6L2010.0 427.6L2010.5 427.1L2011.0 427.2L2011.5 427.8L2012.0 428.8L2012.5 429.9L2013.0 430.7L2013.5 431.0L2014.0 430.7L2014.5 430.1L2015.0 429.2L2015.5 428.2L2016.0 427.5L2016.5 427.3L2017.0 427.5L2017.5 428.2L2018.0 429.1L2018.5 429.9L2019.0 430.4L2019.5 430.4L2020.0 430.1L2020.5 429.4L2021.0 428.7L2021.5 428.2L2022.0 427.9L2022.5 428.0L2023.0 428.3L2023.5 428.9L2024.0 429.6L2024.5 430.4L2025.0 430.9L2025.5 430.9L2026.0 429.9L2026.5 428.3L2027.0 426.3L2027.5 424.8L2028.0 424.5L2028.5 425.8L2029.0 428.7L2029.5 432.5L2030.0 435.7L2030.5 436.3L2031.0 434.3L2031.5 430.2L2032.0 425.4L2032.5 421.5L2033.0 420.0L2033.5 421.4L2034.0 425.6L2034.5 430.5L2035.0 434.4L2035.5 435.9L2036.0 434.6L2036.5 431.2L2037.0 426.9L2037.5 423.3L2038.0 421.6L2038.5 422.6L2039.0 425.3L2039.5 428.3L2040.0 430.5L2040.5 431.3L2041.0 430.7L2041.5 429.2L2042.0 427.5L2042.5 426.2L2043.0 425.8L2043.5 426.1L2044.0 426.7L2044.5 427.5L2045.0 428.2L2045.5 428.7L2046.0 428.7L2046.5 428.3L2047.0 427.8L2047.5 427.2L2048.0 426.9L2048.5 427.0L2049.0 427.5L2049.5 428.2L2050.0 428.8L2050.5 429.2L2051.0 429.2L2051.5 428.8L2052.0 428.3L2052.5 427.9L2053.0 427.8L2053.5 427.9L2054.0 428.4L2054.5 429.0L2054.6 429.1L2055.0 429.4L2055.5 429.5L2056.0 429.3L2056.5 428.9L2057.0 428.3L2057.5 427.8L2058.0 427.5L2058.5 427.6L2059.0 428.1L2059.5 428.6L2060.0 429.1L2060.5 429.4L2061.0 429.2L2061.5 428.6L2062.0 427.9L2062.5 427.1L2063.0 426.7L2063.5 426.6L2064.0 427.0L2064.5 427.7L2065.0 428.5L2065.5 429.1L2066.0 429.3L2066.5 429.1L2067.0 428.3L2067.5 427.4L2068.0 426.4L2068.5 425.8L2069.0 425.5" stroke="#00ff00"/>
<path d="M241.0 276.0L245.7 499.1L250.3 297.6L255.0 501.2L259.6 357.0L264.2 500.5L268.9 381.2L273.6 500.5L278.2 406.8L282.9 501.6L287.5 421.9L292.2 494.9L296.8 436.4L301.5 480.7L306.1 443.9L310.8 477.7L315.4 448.5L320.1 473.9L324.7 452.6L329.4 474.9L334.0 457.2L338.7 477.8L343.3 459.2L348.0 477.3L352.0 471.7L352.5 469.1L353.0 466.6L353.5 464.2L354.0 461.9L354.5 460.6L355.0 463.6L355.5 466.4L356.0 469.1L356.5 471.7L357.0 474.2L357.5 476.5L358.0 476.8L358.5 474.7L359.0 472.7L359.5 470.8L360.0 469.1L360.5 467.4L361.0 466.2L361.5 468.3L362.0 470.3L362.5 472.2L363.0 473.9L363.5 475.7L364.0 477.3L364.5 475.8L365.0 474.2L365.5 472.5L366.0 470.7L366.5 468.8L367.0 468.2L367.5 470.2L368.0 472.4L368.5 474.7L369.0 477.0L369.5 479.3L370.0 478.0L370.5 475.8L371.0 473.6L371.5 471.4L372.0 469.1L372.5 469.4L373.0 472.0L373.5 474.6L374.0 477.4L374.5 480.3L375.0 480.8L375.5 478.2L376.0 475.5L376.5 472.7L377.0 469.8L377.5 468.3L378.0 471.3L378.5 474.3L379.0 477.5L379.5 480.8L380.0 484.2L380.5 482.1L381.0 479.0L381.5 475.9L382.0 472.7L382.5 469.4L383.0 468.0L383.5 471.4L384.0 474.9L384.5 478.5L385.0 482.2L385.5 485.8L386.0 485.7L386.5 482.3L387.0 478.9L387.5 475.5L388.0 472.0L388.5 468.5L389.0 469.0L389.5 472.6L390.0 476.2L390.5 479.8L391.0 483.4L391.5 487.1L392.0 488.5L392.5 485.2L393.0 481.8L393.5 478.4L394.0 475.1L394.5 471.7L395.0 468.2L395.5 470.3L396.0 473.8L396.5 477.4L396.6 478.1L397.0 480.9L397.5 484.2L398.0 487.4L398.5 489.9L399.0 486.6L399.5 483.4L400.0 480.4L400.5 477.5L401.0 474.8L401.5 472.2L402.0 472.9L402.5 475.8L403.0 478.6L403.5 481.3L404.0 483.8L404.5 486.1L405.0 487.3L405.5 484.5L406.0 482.3L406.5 480.5L407.0 479.1L407.5 478.1L408.0 477.5L408.5 479.0L409.0 480.2L409.5 480.9L410.0 481.3L410.5 481.7L411.0 482.0L411.5 481.7L412.0 481.4L412.5 481.1L413.0 480.8L413.5 480.4L414.0 480.1L414.5 480.5L415.0 480.9L415.5 481.3L416.0 481.7L416.5 482.1L417.0 482.2L417.5 481.9L418.0 481.5L418.5 481.3L419.0 481.1L419.5 480.9L420.0 481.1L420.5 481.7L421.0 482.3L421.5 482.9L422.0 483.5L422.5 484.1L423.0 484.2L423.5 484.0L424.0 483.8L424.5 483.6L425.0 483.4L425.5 483.5L426.0 483.8L426.5 484.7L427.0 485.6L427.5 486.6L428.0 487.7L428.5 488.8L429.0 490.0L429.5 490.3L430.0 490.2L430.5 490.1L431.0 490.0L431.5 489.8L431.8 489.6L432.0 490.0L432.5 491.0L433.0 493.0L433.5 495.1L434.0 497.0L434.5 498.8L435.0 500.4L435.5 501.9L436.0 503.3L436.5 504.5L436.7 505.0" stroke="#0000ff" stroke-dasharray="12.6 12.4"/>
<path d="M436.7 512.9L436.7 505.0L437.0 500.8L437.5 493.9L438.0 486.9L438.5 480.0L439.0 470.0L439.5 460.0L440.0 450.0L440.5 440.0L441.0 430.0L441.5 420.0L442.0 411.0L442.5 402.0L443.0 393.0L443.5 384.0L444.0 375.0L444.5 371.4L445.0 367.8L445.5 364.2L446.0 360.6L446.5 357.0L447.0 357.7L447.5 357.9L448.0 359.2L448.5 361.0L449.0 363.4L449.5 366.4L450.0 370.0L450.5 372.9L451.0 372.0L451.5 370.8L452.0 369.7L452.5 368.7L453.0 367.7L453.5 367.7L454.0 370.2L454.5 372.6L455.0 375.0L455.5 377.2L456.0 379.3L456.5 378.6L457.0 377.3L457.5 376.2L458.0 375.1L458.5 374.2L459.0 375.6L459.5 377.6L460.0 379.5L460.5 381.3L461.0 382.9L461.5 382.2L462.0 381.5L462.5 380.8L463.0 380.1L463.5 380.0L464.0 381.7L464.5 383.5L465.0 385.3L465.5 387.1L466.0 387.3L466.5 386.3L467.0 385.4L467.5 384.4L468.0 383.3L468.5 385.1L469.0 387.0L469.5 389.0L470.0 391.0L470.5 391.9L471.0 390.8L471.5 389.6L472.0 388.3L472.5 387.0L473.0 388.1L473.5 390.3L474.0 392.4L474.5 394.4L475.0 396.3L475.5 395.1L476.0 393.9L476.5 392.7L477.0 391.6L477.5 391.8L478.0 393.7L478.5 395.6L478.7 396.4L479.0 397.5L479.5 399.3L480.0 399.0L480.5 398.1L481.0 397.2L481.5 396.3L482.0 395.6L482.5 397.3L483.0 399.0L483.5 400.7L484.0 402.3L484.5 403.2L485.0 402.4L485.5 401.6L486.0 400.5L486.5 399.4L487.0 399.8L487.5 401.7L488.0 403.7L488.5 405.9L489.0 408.1L489.5 408.9L490.0 407.6L490.5 406.2L491.0 404.7L491.5 403.0L492.0 401.5L492.5 403.9L493.0 406.3L493.4 408.4L493.5 408.9L494.0 411.6L494.5 414.5L495.0 415.9L495.5 414.0L496.0 412.2L496.5 410.4L497.0 408.7L497.5 407.1L498.0 406.3L498.5 408.8L499.0 411.3L499.5 413.7L500.0 416.0L500.5 418.3L501.0 420.4L501.5 420.9L502.0 419.6L502.5 418.4L503.0 417.3L503.5 416.2L504.0 415.2L504.5 414.2L505.0 413.5L505.5 415.4L506.0 417.3L506.5 418.9L507.0 420.6L507.5 422.4L508.0 424.2L508.5 426.1L509.0 426.9L509.5 425.7L510.0 424.5L510.5 423.2L511.0 421.9L511.5 420.5L512.0 419.1L512.5 419.2L513.0 421.4L513.5 423.6L514.0 425.8L514.5 428.2L515.0 430.5L515.5 432.2L516.0 430.5L516.5 428.8L517.0 427.0L517.5 425.2L518.0 423.4L518.5 423.4L519.0 425.9L519.5 428.4L520.0 430.8L520.5 433.1L521.0 435.4L521.5 433.8L522.0 432.1L522.5 430.6L522.7 429.9L523.0 429.0L523.5 427.4L524.0 429.0L524.5 431.1L525.0 433.1L525.5 435.1L526.0 436.9L526.5 435.3L527.0 433.8L527.5 432.4L528.0 431.1L528.5 431.0L529.0 432.8L529.5 434.6L530.0 436.3L530.5 438.1L531.0 437.7L531.5 436.4L532.0 435.1L532.5 433.9L533.0 432.7L533.5 433.8L534.0 435.4L534.5 437.0L535.0 438.7L535.5 440.2L536.0 440.1L536.5 438.9L537.0 437.8L537.5 436.8L538.0 435.7L538.5 435.2L539.0 436.7L539.5 438.2L540.0 439.6L540.5 440.9L541.0 442.2L541.5 442.5L542.0 441.7L542.5 440.9L543.0 440.1L543.5 439.4L543.7 439.2L544.0 438.8L544.5 438.7L545.0 439.8L545.5 440.8L546.0 441.8L546.5 442.7L547.0 443.5L547.5 444.4L548.0 444.5L548.5 444.0L549.0 443.6L549.5 443.3L550.0 443.0L550.5 442.7L551.0 442.4L551.5 442.3L552.0 443.0L552.5 443.8L553.0 444.6L553.5 445.3L554.0 446.2L554.5 447.0L555.0 447.8L555.5 447.5L556.0 447.1L556.5 446.7L557.0 446.3L557.5 445.8L558.0 445.3L558.5 444.8L559.0 445.5L559.5 446.4L560.0 447.3L560.5 448.2L561.0 449.2L561.5 450.2L562.0 451.3L562.5 451.1L563.0 450.5L563.5 449.8L564.0 449.1L564.5 448.2L565.0 447.2L565.5 446.2L566.0 447.1L566.5 448.4L567.0 449.8L567.5 451.4L568.0 453.0L568.5 454.8L569.0 456.4L569.5 455.2L570.0 453.9L570.5 452.5L571.0 450.9L571.5 449.2L572.0 447.4L572.5 447.1L573.0 449.3L573.5 451.4L574.0 453.5L574.5 455.5L575.0 457.5L575.5 459.5L576.0 458.4L576.5 456.7L577.0 455.1L577.5 453.5L578.0 452.0L578.5 450.5L579.0 450.9L579.5 452.9L580.0 454.8L580.5 456.7L581.0 458.6L581.5 460.3L582.0 460.8L582.5 459.4L583.0 458.0L583.5 456.6L584.0 455.2L584.5 453.7L585.0 453.6L585.5 455.4L586.0 457.4L586.5 459.4L587.0 461.6L587.5 463.8L588.0 463.7L588.5 461.9L589.0 460.1L589.5 458.2L590.0 456.1L590.5 453.8L591.0 455.7L591.5 458.0L592.0 460.3L592.5 462.6L593.0 464.9L593.5 465.4L594.0 463.0L594.5 460.6L595.0 458.0L595.5 455.2L596.0 452.3L596.5 454.9L597.0 457.7L597.5 460.7L598.0 463.8L598.5 467.1L599.0 466.0L599.5 462.7L600.0 459.2L600.5 455.5L601.0 451.6L601.5 451.7L602.0 455.4L602.5 459.3L603.0 463.4L603.5 467.7L604.0 468.2L604.5 463.9L605.0 459.5L605.5 455.0L606.0 450.8L606.5 450.9L607.0 455.2L607.5 459.3L608.0 463.2L608.5 466.8L609.0 465.6L609.5 461.8L610.0 458.3L610.5 455.1L611.0 452.0L611.5 454.5L612.0 457.8L612.5 460.8L613.0 463.6L613.5 465.4L614.0 462.9L614.5 460.6L615.0 458.6L615.5 456.8L616.0 457.3L616.5 459.3L617.0 461.4L617.5 463.5L618.0 465.7L618.5 464.2L619.0 462.4L619.5 460.6L620.0 458.8L620.5 458.2L621.0 460.3L621.5 462.5L622.0 464.7L622.5 466.9L623.0 466.3L623.5 464.5L624.0 462.6L624.5 460.7L625.0 458.9L625.5 461.1L626.0 463.4L626.5 465.6L627.0 467.9L627.5 468.9L628.0 467.0L628.5 464.8L629.0 462.5L629.5 459.9L630.0 460.7L630.5 463.5L631.0 466.5L631.5 469.8L632.0 473.2L632.5 470.6L633.0 467.4L633.5 464.1L634.0 460.6L634.5 458.4L635.0 461.8L635.5 465.3L636.0 469.0L636.5 472.9L637.0 473.5L637.5 469.8L638.0 465.8L638.5 461.9L639.0 457.9L639.5 458.7L640.0 462.6L640.5 466.4L641.0 470.3L641.5 474.1L642.0 473.7L642.5 470.0L643.0 466.3L643.5 462.6L644.0 458.9L644.5 456.9L645.0 460.5L645.5 464.0L646.0 467.6L646.5 471.1L647.0 474.6L647.5 474.1L648.0 470.7L648.5 467.4L649.0 464.0L649.5 460.9L650.0 458.0L650.5 458.4L651.0 461.4L651.5 464.2L652.0 466.7L652.5 469.0L653.0 471.1L653.5 473.3L654.0 471.5L654.5 469.6L655.0 467.9L655.5 466.5L656.0 465.2L656.5 464.0L657.0 463.1L657.5 464.2L658.0 465.8L658.5 467.3L659.0 468.7L659.5 469.9L660.0 470.9L660.5 472.2L661.0 473.6L661.5 473.5L662.0 472.8L662.5 472.0L663.0 471.0L663.5 469.9L664.0 468.5L664.5 466.8L665.0 465.1L665.5 466.4L666.0 467.9L666.5 469.5L667.0 471.2L667.5 473.0L668.0 475.0L668.5 477.0L669.0 476.2L669.5 474.1L670.0 472.0L670.5 469.7L671.0 467.3L671.5 465.0L672.0 462.6L672.5 464.6L673.0 466.9L673.5 469.2L674.0 471.5L674.5 474.1L675.0 476.7L675.5 477.1L676.0 474.8L676.5 472.4L677.0 470.0L677.5 467.6L678.0 465.1L678.5 464.2L679.0 467.0L679.5 469.9L680.0 472.8L680.5 475.8L681.0 478.8L681.5 479.4L682.0 476.7L682.5 473.9L683.0 471.2L683.5 468.7L684.0 466.3L684.5 467.6L685.0 470.5L685.5 473.2L686.0 475.8L686.5 478.2L687.0 480.5L687.5 478.3L688.0 476.2L688.5 474.2L689.0 472.4L689.5 470.7L690.0 470.3L690.5 472.4L691.0 474.3L691.5 476.2L692.0 477.8L692.5 479.4L693.0 479.0L693.5 477.8L694.0 476.5L694.5 475.1L695.0 473.5L695.5 471.7L696.0 473.2L696.5 475.0L697.0 476.9L697.5 478.9L698.0 480.9L698.5 481.9L699.0 480.0L699.5 478.0L700.0 475.8L700.5 473.6L701.0 471.3L701.5 471.9L702.0 474.2L702.5 476.6L703.0 479.1L703.5 481.7L704.0 484.2L704.5 481.6L705.0 479.2L705.5 476.8L706.0 474.4L706.5 472.1L707.0 471.7L707.5 474.1L708.0 476.4L708.5 478.7L709.0 480.9L709.5 483.0L710.0 482.1L710.5 480.0L711.0 477.9L711.5 475.9L712.0 474.0L712.5 472.2L713.0 474.2L713.5 476.2L714.0 478.1L714.5 480.0L715.0 481.8L715.5 482.5L716.0 480.8L716.5 479.2L717.0 477.7L717.5 476.2L718.0 474.8L718.5 475.2L719.0 477.0L719.5 478.7L720.0 480.4L720.5 481.9L721.0 483.4L721.5 482.9L722.0 481.7L722.5 480.5L723.0 479.5L723.5 478.5L724.0 477.5L724.5 478.8L725.0 480.1L725.5 481.4L726.0 482.6L726.4 483.5L726.5 483.8L727.0 484.7L727.5 483.7L728.0 482.6L728.5 481.6L729.0 480.5L729.5 479.4L730.0 479.0L730.5 480.2L731.0 481.4L731.5 482.6L732.0 483.8L732.5 485.1L733.0 484.6L733.5 483.4L734.0 482.1L734.5 480.9L735.0 479.6L735.5 478.9L736.0 480.3L736.5 481.6L737.0 483.0L737.5 484.3L738.0 485.5L738.5 484.5L739.0 483.3L739.5 482.2L740.0 481.1L740.5 480.2L741.0 480.5L741.5 481.5L742.0 482.5L742.5 483.3L743.0 484.1L743.5 484.3L744.0 483.5L744.5 482.8L745.0 482.2L745.5 481.6L746.0 481.5L746.5 482.1L747.0 482.7L747.4 483.0L747.5 483.1L748.0 483.6L748.5 483.9L749.0 483.6L749.5 483.3L750.0 482.9L750.5 482.5L751.0 482.2L751.5 482.7L752.0 483.2L752.5 483.8L753.0 484.4L753.5 485.0L754.0 484.9L754.5 484.4L755.0 484.0L755.5 483.5L756.0 482.9L756.5 482.6L757.0 483.3L757.5 483.9L758.0 484.6L758.5 485.3L759.0 486.1L759.5 486.4L760.0 485.9L760.5 485.3L761.0 484.6L761.5 484.0L762.0 483.3L762.5 482.8L763.0 483.6L763.5 484.5L764.0 485.3L764.5 486.2L765.0 487.2L765.5 488.2L766.0 488.0L766.5 487.3L767.0 486.4L767.5 485.6L768.0 484.7L768.4 484.0L768.5 483.8L769.0 482.8L769.5 483.2L770.0 484.2L770.5 485.2L771.0 486.3L771.5 487.3L772.0 488.3L772.5 489.2L773.0 488.9L773.5 487.9L774.0 487.0L774.5 486.0L775.0 485.1L775.5 484.2L776.0 483.4L776.5 484.4L777.0 485.3L777.5 486.3L778.0 487.2L778.5 488.1L779.0 489.0L779.5 488.5L780.0 487.7L780.5 486.8L781.0 486.0L781.5 485.2L782.0 484.4L782.5 484.9L783.0 485.8L783.5 486.7L784.0 487.5L784.5 488.4L785.0 489.1L785.5 488.2L786.0 487.4L786.5 486.5L787.0 485.7L787.5 484.8L788.0 485.2L788.5 486.1L789.0 487.0L789.4 487.8L789.5 488.0L790.0 489.0L790.5 489.0L791.0 488.2L791.5 487.3L792.0 486.5L792.5 485.5L793.0 485.4L793.5 486.4L794.0 487.4L794.5 488.5L795.0 489.6L795.5 490.3L796.0 489.4L796.5 488.4L797.0 487.4L797.5 486.4L798.0 485.4L798.5 485.9L799.0 487.0L799.5 488.1L800.0 489.3L800.5 490.5L801.0 491.8L801.5 490.9L802.0 489.9L802.5 488.8L803.0 487.7L803.5 486.6L804.0 485.5L804.5 486.1L805.0 487.3L805.5 488.7L806.0 490.0L806.5 491.2L807.0 492.2L807.5 493.0L808.0 492.3L808.5 491.7L809.0 491.3L809.5 490.9L810.0 490.7L810.5 490.6L811.0 490.7L811.5 492.5L812.0 494.4L812.5 496.2L813.0 497.9L813.5 499.5L814.0 501.1L814.5 502.6L815.0 503.9L815.4 505.0L815.5 504.4" stroke="#0000ff" stroke-dasharray="12.6 12.4"/>
<path d="M815.5 520.2L815.5 504.4L816.0 501.5L816.5 498.7L817.0 495.8L817.5 492.9L818.0 490.0L818.5 485.0L819.0 480.0L819.5 475.0L820.0 470.0L820.5 465.0L821.0 460.0L821.5 455.0L822.0 450.0L822.5 445.0L823.0 440.0L823.5 433.5L824.0 427.0L824.5 420.5L825.0 414.0L825.5 407.5L826.0 401.0L826.5 394.5L827.0 388.0L827.5 381.5L828.0 375.0L828.5 369.8L829.0 364.6L829.5 359.4L830.0 354.2L830.5 349.0L830.6 348.0L831.0 351.8L831.5 355.5L832.0 358.0L832.5 359.4L833.0 359.5L833.5 356.9L834.0 354.2L834.5 352.1L835.0 355.5L835.5 359.0L836.0 362.6L836.5 366.3L837.0 370.1L837.5 373.9L838.0 377.6L838.5 376.8L839.0 373.9L839.5 371.0L840.0 368.1L840.5 365.3L841.0 362.7L841.5 360.2L842.0 359.2L842.5 363.0L843.0 366.6L843.5 370.1L844.0 373.5L844.5 376.7L845.0 379.9L845.5 383.0L846.0 381.8L846.5 379.6L847.0 377.4L847.5 375.4L848.0 373.4L848.5 371.3L849.0 369.3L849.5 368.8L850.0 371.8L850.5 375.0L851.0 378.1L851.5 381.0L852.0 383.9L852.5 386.6L853.0 389.3L853.5 388.4L854.0 386.7L854.5 385.2L855.0 383.8L855.5 382.5L856.0 381.3L856.5 380.3L857.0 380.4L857.5 383.0L858.0 385.4L858.5 387.7L859.0 390.0L859.5 392.1L860.0 394.1L860.5 396.0L861.0 395.7L861.5 394.8L862.0 394.0L862.5 393.1L863.0 392.2L863.5 391.3L864.0 390.3L864.5 390.7L865.0 392.4L865.5 394.2L866.0 395.9L866.5 397.7L867.0 399.5L867.5 401.2L868.0 402.0L868.5 401.1L869.0 400.1L869.5 399.1L870.0 398.1L870.5 397.2L871.0 396.2L871.5 396.3L872.0 398.1L872.5 399.9L873.0 401.7L873.5 403.5L873.8 404.6L874.0 405.3L874.5 407.0L875.0 407.2L875.5 406.2L876.0 405.1L876.5 404.0L877.0 402.9L877.5 401.7L878.0 400.5L878.5 402.0L879.0 403.9L879.5 405.8L880.0 407.7L880.5 409.5L881.0 411.3L881.5 412.0L882.0 410.8L882.5 409.7L883.0 408.6L883.5 407.7L884.0 406.8L884.5 406.0L885.0 407.7L885.5 409.3L886.0 410.9L886.5 412.4L887.0 413.8L887.5 415.2L888.0 414.7L888.5 414.1L889.0 413.5L889.5 413.0L890.0 412.6L890.5 412.3L891.0 413.6L891.5 414.8L892.0 416.1L892.5 417.4L893.0 418.8L893.5 419.9L894.0 419.4L894.5 418.7L895.0 417.9L895.5 417.0L896.0 416.0L896.5 416.5L897.0 418.1L897.5 419.9L898.0 421.7L898.5 423.7L899.0 425.3L899.5 424.1L900.0 422.7L900.5 421.2L901.0 419.6L901.5 417.9L902.0 419.3L902.5 421.7L903.0 424.2L903.5 426.6L904.0 429.0L904.5 429.3L905.0 427.5L905.5 425.8L906.0 424.1L906.5 422.3L907.0 421.2L907.5 423.6L908.0 426.0L908.5 428.4L909.0 430.7L909.5 433.0L910.0 432.4L910.5 430.7L911.0 429.1L911.5 427.5L912.0 425.9L912.5 425.1L913.0 427.3L913.5 429.6L914.0 431.7L914.5 433.8L915.0 435.8L915.5 435.6L916.0 434.2L916.5 432.9L917.0 431.6L917.5 430.4L918.0 429.2L918.5 431.0L919.0 432.8L919.5 434.5L920.0 436.2L920.5 437.8L921.0 438.9L921.5 437.9L922.0 436.9L922.5 435.9L923.0 434.9L923.5 434.0L924.0 433.9L924.5 435.2L925.0 436.5L925.5 437.8L926.0 439.2L926.5 440.5L927.0 440.7L927.5 439.7L928.0 438.7L928.5 437.8L929.0 436.7L929.5 435.7L930.0 436.7L930.5 438.2L931.0 439.6L931.5 441.0L932.0 442.5L932.5 443.1L933.0 442.1L933.5 441.0L934.0 439.9L934.5 438.8L935.0 437.7L935.5 439.0L936.0 440.5L936.5 442.0L937.0 443.7L937.4 445.0L937.5 445.3L938.0 445.0L938.5 443.7L939.0 442.3L939.5 440.9L940.0 439.4L940.5 439.5L941.0 441.2L941.5 443.0L942.0 444.9L942.5 446.8L943.0 447.1L943.5 445.5L944.0 443.8L944.5 442.0L945.0 440.2L945.5 440.3L946.0 442.4L946.5 444.6L947.0 446.7L947.5 448.8L948.0 448.5L948.5 446.7L949.0 444.9L949.5 443.1L950.0 441.3L950.5 441.6L951.0 443.6L951.5 445.6L952.0 447.6L952.5 449.5L952.6 449.9L953.0 450.5L953.5 448.9L954.0 447.3L954.5 445.8L955.0 444.4L955.5 442.9L956.0 444.4L956.5 446.3L957.0 448.1L957.5 450.1L958.0 452.2L958.5 453.6L959.0 452.2L959.5 450.5L960.0 448.8L960.5 446.8L961.0 444.8L961.5 444.1L962.0 446.4L962.5 448.9L963.0 451.5L963.5 454.3L964.0 457.2L964.5 459.2L965.0 457.0L965.5 454.6L966.0 452.1L966.5 449.5L967.0 446.8L967.5 443.9L967.8 444.2L968.0 445.3L968.5 448.5L969.0 451.6L969.5 454.7L970.0 457.8L970.5 460.8L971.0 462.4L971.5 459.4L972.0 456.5L972.5 453.6L973.0 450.7L973.5 447.9L974.0 445.1L974.5 448.2L975.0 451.3L975.5 454.4L976.0 457.4L976.5 460.4L977.0 463.2L977.5 460.3L978.0 457.5L978.5 454.7L979.0 451.9L979.5 449.2L980.0 447.9L980.5 450.9L981.0 453.8L981.5 456.6L982.0 459.4L982.5 462.0L983.0 461.3L983.5 458.7L984.0 456.2L984.5 453.8L985.0 451.6L985.5 450.4L986.0 453.0L986.5 455.6L987.0 458.0L987.5 460.3L988.0 462.5L988.5 460.5L989.0 458.4L989.5 456.4L990.0 454.5L990.5 452.4L991.0 453.9L991.5 456.1L992.0 458.4L992.5 460.7L993.0 463.1L993.5 462.2L994.0 460.0L994.5 457.8L995.0 455.4L995.5 453.0L996.0 453.7L996.5 456.3L997.0 459.0L997.5 461.7L998.0 464.6L998.5 464.6L999.0 462.0L999.5 459.4L1000.0 456.6L1000.5 453.8L1001.0 453.3L1001.5 456.9L1002.0 460.0L1002.5 462.5L1003.0 464.5L1003.5 465.1L1004.0 463.6L1004.5 462.3L1005.0 461.5L1005.5 461.3L1006.0 461.7L1006.2 462.0L1006.2 462.0L1008.0 -40.0L1010.9 499.7L1013.8 -40.0L1016.9 498.4L1020.0 102.0L1023.5 498.1L1027.0 207.0L1030.5 498.7L1034.0 282.0L1037.5 498.6L1041.0 332.0L1044.5 499.1L1048.0 352.0L1051.5 498.6L1055.0 392.0L1058.5 498.6L1062.0 407.0L1065.5 498.2L1069.0 412.0L1072.5 498.5L1076.0 419.1L1079.5 478.5L1083.0 431.3L1086.5 476.3L1090.0 441.9L1093.5 472.9L1097.0 446.4L1100.5 474.2L1104.0 449.7L1107.5 474.6L1111.0 450.1L1114.5 473.6L1118.0 452.6L1121.5 476.6L1125.0 459.2L1128.5 478.5L1132.0 482.5L1132.5 486.7L1133.0 491.0L1133.5 495.0L1134.0 498.6L1134.5 501.9L1135.0 505.0" stroke="#0000ff" stroke-dasharray="12.6 12.4"/>
<path d="M1135.0 522.0L1135.0 505.0L1135.5 494.2L1136.0 483.3L1136.5 472.5L1137.0 461.7L1137.5 450.8L1138.0 440.0L1138.5 429.2L1139.0 418.3L1139.5 407.5L1140.0 396.7L1140.5 385.8L1141.0 375.0L1141.5 372.0L1142.0 369.0L1142.5 366.0L1143.0 368.3L1143.5 371.9L1144.0 380.5L1144.5 386.4L1145.0 392.3L1145.5 398.4L1146.0 400.2L1146.5 394.8L1147.0 389.4L1147.5 384.2L1148.0 379.2L1148.5 376.4L1149.0 382.7L1149.5 388.9L1150.0 394.9L1150.5 400.7L1151.0 405.6L1151.5 400.8L1152.0 396.3L1152.5 391.9L1153.0 387.8L1153.5 384.4L1154.0 389.9L1154.5 395.1L1155.0 400.4L1155.5 405.7L1156.0 410.4L1156.5 406.4L1157.0 402.3L1157.5 398.2L1158.0 394.0L1158.5 391.1L1159.0 396.5L1159.5 401.9L1160.0 407.3L1160.5 412.7L1161.0 416.1L1161.5 411.9L1162.0 407.8L1162.5 403.8L1163.0 399.9L1163.5 398.7L1164.0 403.8L1164.5 409.0L1165.0 414.1L1165.5 419.0L1166.0 419.7L1166.5 415.7L1167.0 411.9L1167.5 408.3L1168.0 404.9L1168.5 406.5L1169.0 411.0L1169.5 415.3L1170.0 419.3L1170.5 423.2L1171.0 421.4L1171.5 418.4L1172.0 415.7L1172.5 413.1L1173.0 410.9L1173.5 414.3L1174.0 417.7L1174.5 421.0L1175.0 424.3L1175.5 426.0L1176.0 423.5L1176.5 421.1L1177.0 418.6L1177.5 416.2L1178.0 416.1L1178.5 419.3L1179.0 422.5L1179.5 425.7L1180.0 428.9L1180.5 430.1L1181.0 427.7L1181.5 425.4L1182.0 423.0L1182.5 420.6L1183.0 418.3L1183.5 421.4L1184.0 424.5L1184.5 427.6L1185.0 430.6L1185.5 433.7L1186.0 435.1L1186.5 432.9L1187.0 430.7L1187.5 428.6L1188.0 426.6L1188.5 424.7L1189.0 423.8L1189.5 426.6L1190.0 429.2L1190.5 431.7L1191.0 434.1L1191.5 436.5L1192.0 438.7L1192.5 438.7L1193.0 437.2L1193.5 435.8L1194.0 434.4L1194.5 433.1L1195.0 431.9L1195.5 430.7L1196.0 430.4L1196.5 432.3L1197.0 434.2L1197.5 436.0L1198.0 437.7L1198.5 439.5L1199.0 441.2L1199.5 443.0L1200.0 444.2L1200.5 443.2L1201.0 442.1L1201.5 441.0L1201.6 440.8L1202.0 440.0L1202.5 438.8L1203.0 437.7L1203.5 436.4L1204.0 436.2L1204.5 438.1L1205.0 440.0L1205.5 442.0L1206.0 444.1L1206.5 446.3L1207.0 448.5L1207.5 450.7L1208.0 450.0L1208.5 448.6L1209.0 447.0L1209.5 445.4L1210.0 443.8L1210.5 442.2L1211.0 440.6L1211.5 441.2L1212.0 443.6L1212.5 445.9L1213.0 448.4L1213.5 450.8L1214.0 453.2L1214.5 455.5L1215.0 455.5L1215.5 453.6L1216.0 451.7L1216.5 449.9L1217.0 448.0L1217.5 446.2L1218.0 444.3L1218.5 445.9L1219.0 448.3L1219.5 450.7L1220.0 453.1L1220.5 455.6L1221.0 458.1L1221.5 459.5L1222.0 457.4L1222.5 455.3L1223.0 453.1L1223.5 450.7L1224.0 448.2L1224.5 446.3L1225.0 449.3L1225.5 452.3L1226.0 455.5L1226.5 458.9L1227.0 462.4L1227.5 463.8L1228.0 460.7L1228.5 457.5L1229.0 454.4L1229.5 451.2L1230.0 448.0L1230.5 449.8L1231.0 453.3L1231.5 456.9L1232.0 460.7L1232.5 464.7L1233.0 465.5L1233.5 461.8L1234.0 457.8L1234.5 453.6L1235.0 449.2L1235.5 447.8L1236.0 452.4L1236.5 457.3L1237.0 462.3L1237.5 467.6L1238.0 468.4L1238.5 463.4L1239.0 458.2L1239.5 452.8L1240.0 447.2L1240.5 449.6L1241.0 455.5L1241.5 461.5L1242.0 467.6L1242.5 471.7L1243.0 465.8L1243.5 460.2L1244.0 455.2L1244.5 450.5L1245.0 450.8L1245.5 455.7L1246.0 460.1L1246.5 464.2L1247.0 467.9L1247.5 465.8L1248.0 462.1L1248.5 458.7L1249.0 455.7L1249.5 453.0L1250.0 455.6L1250.5 458.5L1251.0 461.2L1251.5 463.5L1252.0 465.6L1252.5 463.6L1253.0 461.5L1253.5 459.7L1254.0 457.8L1254.4 456.3L1254.5 455.9L1255.0 457.1L1255.5 459.1L1256.0 461.1L1256.5 463.3L1257.0 465.5L1257.5 465.5L1258.0 463.5L1258.5 461.4L1259.0 459.2L1259.5 457.0L1260.0 455.3L1260.5 457.6L1261.0 459.9L1261.5 462.3L1262.0 464.9L1262.5 467.4L1263.0 467.5L1263.5 465.1L1264.0 462.7L1264.5 460.2L1265.0 457.7L1265.5 455.2L1266.0 456.7L1266.5 459.3L1267.0 461.9L1267.5 464.6L1267.8 466.2L1268.0 467.2L1268.5 469.9L1269.0 467.9L1269.5 465.4L1270.0 463.0L1270.5 460.5L1271.0 458.1L1271.5 455.7L1272.0 458.1L1272.5 460.7L1273.0 463.3L1273.5 465.9L1274.0 468.4L1274.5 471.0L1275.0 469.0L1275.5 466.7L1276.0 464.4L1276.5 462.1L1277.0 459.9L1277.5 457.7L1278.0 459.1L1278.5 461.5L1279.0 463.8L1279.5 466.1L1280.0 468.4L1280.5 470.6L1281.0 470.6L1281.5 468.6L1282.0 466.5L1282.5 464.5L1283.0 462.5L1283.5 460.5L1284.0 459.0L1284.5 461.1L1285.0 463.2L1285.5 465.2L1286.0 467.3L1286.5 469.3L1287.0 471.2L1287.5 470.6L1288.0 468.7L1288.5 466.9L1289.0 465.1L1289.5 463.4L1290.0 461.8L1290.5 461.2L1291.0 463.0L1291.5 464.7L1292.0 466.4L1292.5 468.0L1293.0 469.5L1293.5 470.9L1294.0 469.4L1294.5 468.0L1294.7 467.4L1295.0 466.7L1295.5 465.5L1296.0 464.4L1296.5 463.4L1297.0 464.6L1297.5 465.9L1298.0 467.3L1298.5 468.7L1299.0 470.1L1299.5 471.5L1300.0 470.8L1300.5 469.6L1301.0 468.5L1301.5 467.4L1302.0 466.2L1302.5 465.0L1303.0 466.4L1303.5 467.9L1304.0 469.4L1304.5 470.9L1305.0 472.4L1305.5 473.4L1306.0 472.2L1306.5 471.0L1307.0 469.8L1307.5 468.5L1308.0 467.2L1308.5 467.4L1309.0 469.0L1309.5 470.6L1310.0 472.1L1310.5 473.5L1311.0 474.9L1311.5 474.5L1312.0 473.5L1312.5 472.5L1313.0 471.6L1313.5 470.8L1314.0 470.0L1314.5 470.9L1315.0 472.1L1315.5 473.3L1316.0 474.4L1316.5 475.5L1317.0 476.5L1317.5 476.2L1318.0 475.6L1318.5 475.0L1319.0 474.4L1319.5 473.8L1320.0 473.3L1320.5 473.5L1321.0 474.5L1321.5 475.4L1321.6 475.6L1322.0 476.2L1322.5 477.0L1323.0 477.8L1323.5 478.5L1324.0 478.0L1324.5 477.6L1325.0 477.1L1325.5 476.6L1326.0 476.2L1326.5 475.8L1327.0 475.8L1327.5 476.6L1328.0 477.3L1328.5 478.0L1329.0 478.7L1329.5 479.4L1330.0 480.0L1330.5 480.2L1331.0 479.8L1331.5 479.4L1332.0 479.0L1332.5 478.6L1333.0 478.2L1333.5 477.8L1334.0 478.3L1334.5 479.1L1335.0 479.8L1335.5 480.4L1336.0 481.1L1336.5 481.7L1337.0 481.7L1337.5 481.2L1338.0 480.6L1338.5 479.9L1339.0 479.3L1339.5 478.6L1340.0 478.7L1340.5 479.4L1341.0 480.2L1341.5 481.0L1342.0 481.9L1342.5 482.8L1343.0 482.4L1343.5 481.5L1344.0 480.6L1344.5 479.6L1345.0 478.5L1345.5 478.1L1346.0 479.2L1346.5 480.5L1347.0 481.8L1347.5 483.2L1348.0 484.5L1348.4 483.4L1348.5 483.2L1349.0 481.8L1349.5 480.3L1350.0 478.6L1350.5 476.9L1351.0 478.6L1351.5 480.5L1352.0 482.5L1352.5 484.5L1353.0 486.2L1353.5 484.3L1354.0 482.4L1354.5 480.6L1355.0 478.9L1355.5 477.4L1356.0 479.2L1356.5 481.1L1357.0 482.8L1357.5 484.6L1358.0 486.2L1358.5 485.0L1359.0 483.5L1359.5 482.0L1360.0 480.5L1360.5 479.1L1361.0 479.4L1361.5 480.9L1362.0 482.3L1362.5 483.7L1363.0 485.0L1363.5 486.3L1364.0 485.1L1364.5 483.9L1365.0 482.7L1365.5 481.4L1366.0 480.0L1366.5 479.6L1367.0 480.9L1367.5 482.4L1368.0 483.8L1368.5 485.3L1369.0 486.8L1369.5 487.2L1370.0 485.8L1370.5 484.5L1371.0 483.0L1371.5 481.5L1372.0 480.0L1372.5 479.3L1373.0 480.8L1373.5 482.4L1374.0 484.0L1374.5 485.6L1375.0 487.2L1375.5 488.8L1376.0 487.6L1376.5 486.2L1377.0 484.8L1377.5 483.5L1378.0 482.3L1378.5 481.1L1379.0 481.7L1379.5 483.1L1380.0 484.6L1380.5 485.9L1381.0 487.3L1381.5 488.5L1382.0 488.7L1382.5 487.6L1383.0 486.6L1383.5 485.6L1384.0 484.7L1384.5 483.8L1385.0 483.7L1385.5 484.9L1386.0 486.0L1386.5 487.8L1387.0 489.5L1387.5 490.9L1388.0 491.6L1388.5 491.8L1389.0 492.2L1389.5 495.1L1390.0 498.3L1390.5 501.5L1391.0 505.0" stroke="#0000ff" stroke-dasharray="12.6 12.4"/>
<path d="M1391.0 512.2L1391.0 505.0L1391.5 493.3L1392.0 481.7L1392.5 470.0L1393.0 454.0L1393.5 438.0L1394.0 422.0L1394.5 406.0L1395.0 390.0L1395.5 378.2L1396.0 366.4L1396.5 354.6L1397.0 342.8L1397.5 331.0L1398.0 335.8L1398.5 342.1L1399.0 350.0L1399.5 354.7L1400.0 355.3L1400.5 355.2L1401.0 354.3L1401.5 352.8L1402.0 350.0L1402.5 347.9L1403.0 353.2L1403.5 358.8L1404.0 364.7L1404.5 370.8L1405.0 377.1L1405.5 383.7L1406.0 383.7L1406.5 380.5L1407.0 377.1L1407.5 372.8L1408.0 369.0L1408.5 365.6L1409.0 362.6L1409.5 367.3L1410.0 372.4L1410.5 377.2L1411.0 381.6L1411.5 385.7L1412.0 389.4L1412.5 392.8L1413.0 392.2L1413.5 389.9L1414.0 388.0L1414.5 386.4L1415.0 385.1L1415.5 383.7L1416.0 382.5L1416.5 381.6L1417.0 384.0L1417.5 386.3L1418.0 388.4L1418.5 390.3L1419.0 392.3L1419.5 394.2L1420.0 396.3L1420.5 398.3L1421.0 397.5L1421.5 396.5L1422.0 395.4L1422.5 394.2L1423.0 393.0L1423.5 391.8L1424.0 390.5L1424.5 391.2L1425.0 393.5L1425.5 395.9L1426.0 398.3L1426.5 400.7L1427.0 403.2L1427.5 405.7L1428.0 405.2L1428.5 403.7L1429.0 402.1L1429.5 400.6L1430.0 399.2L1430.5 397.8L1431.0 398.1L1431.5 400.6L1432.0 403.1L1432.5 405.4L1433.0 407.7L1433.5 409.8L1433.7 410.6L1434.0 410.6L1434.5 409.4L1435.0 408.2L1435.5 407.1L1436.0 406.0L1436.5 404.9L1437.0 406.3L1437.5 408.6L1438.0 410.8L1438.5 413.0L1439.0 415.1L1439.5 416.2L1440.0 415.1L1440.5 414.1L1441.0 413.0L1441.5 411.8L1442.0 410.5L1442.5 412.7L1443.0 415.0L1443.5 417.5L1444.0 420.0L1444.5 422.6L1445.0 423.1L1445.5 421.8L1446.0 420.3L1446.5 418.7L1447.0 417.0L1447.5 415.1L1448.0 417.0L1448.5 419.7L1449.0 422.5L1449.5 425.4L1450.0 428.4L1450.5 431.6L1451.0 429.7L1451.5 427.5L1452.0 425.4L1452.5 423.3L1453.0 421.2L1453.5 419.1L1454.0 421.4L1454.5 424.4L1455.0 427.3L1455.5 430.1L1456.0 433.0L1456.5 435.8L1457.0 436.3L1457.5 434.4L1458.0 432.5L1458.5 430.7L1459.0 428.9L1459.5 427.1L1460.0 425.4L1460.5 427.2L1460.6 427.7L1461.0 429.7L1461.5 432.1L1462.0 434.5L1462.5 437.0L1463.0 439.5L1463.5 442.2L1464.0 440.7L1464.5 438.7L1465.0 436.6L1465.5 434.4L1466.0 432.1L1466.5 429.7L1467.0 429.3L1467.5 432.3L1468.0 435.4L1468.5 438.7L1469.0 442.0L1469.5 445.5L1470.0 447.0L1470.5 444.1L1471.0 441.1L1471.5 438.0L1472.0 434.7L1472.5 431.4L1473.0 432.4L1473.5 436.4L1474.0 440.5L1474.5 444.5L1475.0 448.6L1475.5 451.1L1476.0 447.4L1476.5 443.6L1477.0 439.9L1477.5 436.2L1478.0 432.5L1478.5 436.7L1479.0 440.9L1479.5 445.0L1480.0 449.2L1480.5 452.8L1481.0 449.0L1481.5 445.2L1482.0 441.4L1482.5 437.6L1483.0 436.3L1483.5 440.5L1484.0 444.6L1484.5 448.6L1485.0 452.4L1485.5 451.3L1486.0 447.9L1486.5 444.7L1487.0 441.6L1487.5 438.8L1488.0 441.6L1488.5 444.8L1489.0 448.0L1489.5 451.1L1490.0 454.1L1490.5 451.4L1491.0 448.9L1491.5 446.4L1492.0 444.0L1492.5 441.8L1493.0 444.2L1493.5 446.9L1494.0 449.5L1494.5 452.1L1495.0 454.5L1495.5 453.9L1496.0 451.9L1496.5 449.8L1497.0 447.7L1497.5 445.5L1498.0 444.5L1498.5 447.0L1499.0 449.5L1499.5 452.1L1500.0 454.7L1500.5 457.4L1501.0 457.4L1501.5 455.1L1502.0 452.9L1502.5 450.6L1503.0 448.4L1503.5 446.1L1504.0 446.9L1504.5 449.4L1505.0 451.9L1505.5 454.4L1506.0 457.0L1506.5 459.5L1507.0 459.8L1507.5 457.6L1508.0 455.3L1508.5 453.1L1509.0 450.9L1509.5 448.7L1510.0 448.2L1510.5 450.7L1511.0 453.3L1511.5 455.8L1512.0 458.3L1512.5 460.9L1513.0 461.2L1513.5 459.0L1514.0 456.8L1514.5 454.4L1515.0 452.0L1515.5 449.6L1516.0 450.6L1516.5 453.2L1517.0 455.7L1517.5 458.3L1518.0 460.9L1518.5 462.8L1519.0 460.3L1519.5 457.7L1520.0 455.2L1520.5 452.7L1521.0 450.2L1521.5 451.4L1522.0 454.0L1522.5 456.6L1523.0 459.3L1523.5 461.9L1524.0 462.3L1524.5 459.7L1525.0 457.2L1525.5 454.6L1526.0 452.1L1526.5 451.0L1527.0 453.6L1527.5 456.3L1527.8 457.8L1528.0 458.9L1528.5 461.6L1529.0 463.1L1529.5 460.7L1530.0 458.2L1530.5 455.8L1531.0 453.3L1531.5 451.8L1532.0 454.5L1532.5 457.1L1533.0 459.7L1533.5 462.4L1534.0 464.3L1534.5 461.8L1535.0 459.4L1535.5 457.0L1536.0 454.5L1536.5 452.7L1537.0 455.4L1537.5 458.0L1538.0 460.6L1538.5 463.2L1539.0 465.4L1539.5 463.0L1540.0 460.5L1540.5 458.1L1541.0 455.7L1541.5 453.7L1542.0 456.4L1542.5 459.1L1543.0 461.7L1543.5 464.4L1544.0 466.7L1544.5 464.4L1545.0 462.0L1545.5 459.7L1546.0 457.3L1546.5 455.2L1547.0 457.8L1547.5 460.5L1548.0 463.1L1548.5 465.8L1549.0 468.3L1549.5 465.9L1550.0 463.6L1550.5 461.2L1551.0 458.9L1551.5 456.7L1552.0 459.3L1552.5 462.0L1553.0 464.6L1553.5 467.3L1554.0 469.7L1554.5 467.3L1554.7 466.4L1555.0 465.0L1555.5 462.6L1556.0 460.2L1556.5 458.5L1557.0 461.1L1557.5 463.8L1558.0 466.4L1558.5 469.0L1559.0 470.6L1559.5 468.3L1560.0 466.0L1560.5 463.7L1561.0 461.4L1561.5 460.8L1562.0 463.4L1562.5 465.9L1563.0 468.3L1563.5 470.6L1564.0 470.7L1564.5 468.7L1565.0 466.8L1565.5 465.0L1566.0 463.2L1566.5 464.0L1567.0 466.1L1567.5 468.1L1568.0 470.0L1568.5 471.7L1569.0 470.5L1569.5 468.8L1570.0 467.2L1570.5 465.7L1571.0 464.5L1571.5 466.2L1572.0 467.7L1572.5 469.2L1573.0 470.7L1573.5 471.3L1574.0 470.0L1574.5 468.6L1575.0 467.3L1575.5 466.0L1576.0 465.5L1576.5 466.9L1577.0 468.2L1577.5 469.6L1578.0 470.9L1578.5 472.0L1579.0 470.8L1579.5 469.6L1580.0 468.4L1580.5 467.2L1581.0 466.1L1581.5 466.3L1581.6 466.6L1582.0 467.6L1582.5 468.9L1583.0 470.2L1583.5 471.5L1584.0 472.7L1584.5 472.3L1585.0 471.4L1585.5 470.5L1586.0 469.6L1586.5 468.7L1587.0 467.9L1587.5 468.2L1588.0 469.3L1588.5 470.4L1589.0 471.5L1589.5 472.5L1590.0 473.6L1590.5 474.6L1591.0 474.1L1591.5 473.4L1592.0 472.7L1592.5 472.0L1593.0 471.4L1593.5 470.7L1594.0 470.1L1594.5 470.3L1595.0 471.1L1595.5 472.1L1596.0 473.1L1596.5 474.1L1597.0 475.2L1597.5 476.4L1598.0 477.4L1598.5 476.5L1599.0 475.6L1599.5 474.6L1600.0 473.6L1600.5 472.5L1601.0 471.4L1601.5 470.2L1602.0 471.0L1602.5 472.4L1603.0 473.8L1603.5 475.2L1604.0 476.7L1604.5 478.3L1605.0 479.9L1605.5 479.2L1606.0 477.8L1606.5 476.6L1607.0 475.4L1607.5 474.3L1608.0 473.3L1608.5 472.3L1609.0 473.0L1609.5 474.3L1610.0 475.5L1610.5 476.7L1611.0 477.9L1611.5 479.0L1612.0 480.1L1612.5 479.2L1613.0 478.2L1613.5 477.3L1614.0 476.4L1614.5 475.6L1615.0 474.9L1615.5 474.7L1616.0 475.7L1616.5 476.6L1617.0 477.6L1617.5 478.6L1618.0 479.8L1618.5 481.1L1619.0 480.8L1619.5 479.8L1620.0 478.7L1620.5 477.6L1621.0 476.3L1621.5 474.9L1622.0 474.2L1622.5 475.7L1623.0 477.3L1623.5 479.0L1624.0 480.8L1624.5 482.6L1625.0 484.5L1625.5 483.0L1626.0 481.4L1626.5 479.6L1627.0 477.8L1627.5 476.0L1628.0 474.3L1628.5 475.5L1629.0 477.4L1629.5 479.4L1630.0 481.2L1630.5 483.0L1631.0 484.8L1631.5 484.4L1632.0 482.7L1632.5 481.2L1633.0 479.7L1633.5 478.2L1634.0 476.8L1634.5 477.3L1635.0 478.9L1635.5 480.9L1636.0 482.6L1636.5 484.2L1637.0 485.6L1637.5 485.5L1638.0 484.8L1638.5 484.2L1639.0 483.7L1639.5 483.4L1640.0 483.2L1640.5 484.1L1641.0 485.3L1641.5 488.5L1642.0 491.5L1642.5 494.4L1643.0 497.1L1643.5 499.2L1644.0 501.5L1644.5 504.0L1644.7 505.0" stroke="#0000ff" stroke-dasharray="12.6 12.4"/>
<path d="M1644.7 528.2L1644.7 505.0L1645.0 499.2L1645.5 489.4L1646.0 479.7L1646.5 470.0L1647.0 452.5L1647.5 435.0L1648.0 417.5L1648.5 400.0L1649.0 388.0L1649.5 375.9L1650.0 363.9L1650.5 351.8L1650.7 347.0L1651.0 348.8L1651.5 350.9L1652.0 355.8L1652.5 362.8L1653.0 372.3L1653.4 381.8L1653.5 383.2L1654.0 390.6L1654.5 388.0L1655.0 382.0L1655.5 375.6L1656.0 368.8L1656.5 361.6L1657.0 360.3L1657.5 368.5L1658.0 377.2L1658.5 386.2L1659.0 395.6L1659.5 403.5L1660.0 395.4L1660.5 386.9L1661.0 378.6L1661.5 370.6L1662.0 362.8L1662.5 368.7L1663.0 377.7L1663.5 386.5L1664.0 395.1L1664.5 403.4L1665.0 406.3L1665.5 399.1L1666.0 392.2L1666.5 385.4L1667.0 378.9L1667.5 372.5L1668.0 376.2L1668.5 383.7L1669.0 390.9L1669.5 397.8L1670.0 404.5L1670.5 410.9L1671.0 406.4L1671.5 401.0L1672.0 395.5L1672.5 389.8L1673.0 384.0L1673.5 378.1L1674.0 383.1L1674.5 389.8L1675.0 396.7L1675.5 403.6L1676.0 410.7L1676.5 417.8L1677.0 416.7L1677.5 410.8L1678.0 404.7L1678.5 398.7L1679.0 392.5L1679.5 386.2L1680.0 382.0L1680.5 389.1L1681.0 396.2L1681.5 403.2L1682.0 410.2L1682.5 416.8L1683.0 423.0L1683.5 423.6L1684.0 417.7L1684.5 412.2L1685.0 407.2L1685.5 402.5L1686.0 398.3L1686.5 394.4L1687.0 399.7L1687.5 405.1L1688.0 410.1L1688.5 414.8L1689.0 419.0L1689.5 423.0L1690.0 421.4L1690.5 418.0L1691.0 415.0L1691.5 412.4L1692.0 410.0L1692.5 408.0L1693.0 410.2L1693.5 413.4L1693.7 414.7L1694.0 416.5L1694.5 419.4L1695.0 422.2L1695.5 424.9L1696.0 423.1L1696.5 421.0L1697.0 419.1L1697.5 417.2L1698.0 415.5L1698.5 415.3L1699.0 418.0L1699.5 420.6L1700.0 423.1L1700.5 425.6L1701.0 427.9L1701.5 426.4L1702.0 424.8L1702.5 423.3L1703.0 421.8L1703.5 420.5L1704.0 421.7L1704.5 423.8L1705.0 426.1L1705.5 428.3L1706.0 430.6L1706.5 431.1L1707.0 429.6L1707.5 428.1L1708.0 426.4L1708.5 424.6L1709.0 424.1L1709.5 426.5L1710.0 429.1L1710.5 431.9L1711.0 434.7L1711.5 437.2L1712.0 435.2L1712.5 433.1L1713.0 430.8L1713.5 428.4L1714.0 425.8L1714.5 428.2L1715.0 431.5L1715.5 434.8L1716.0 438.1L1716.5 441.4L1717.0 441.0L1717.5 438.4L1718.0 436.0L1718.5 433.6L1719.0 431.2L1719.5 430.9L1720.0 434.1L1720.5 437.2L1720.6 437.8L1721.0 440.2L1721.5 443.0L1722.0 445.3L1722.5 442.9L1723.0 440.6L1723.5 438.4L1724.0 436.2L1724.5 434.2L1725.0 436.0L1725.5 438.7L1726.0 441.2L1726.5 443.8L1727.0 446.4L1727.5 446.8L1728.0 444.8L1728.5 442.7L1729.0 440.5L1729.5 438.2L1730.0 435.9L1730.5 438.6L1731.0 441.4L1731.5 444.2L1732.0 447.1L1732.5 450.1L1733.0 451.4L1733.5 449.1L1734.0 446.6L1734.5 444.1L1735.0 441.4L1735.5 438.8L1736.0 438.5L1736.5 441.4L1737.0 444.4L1737.5 447.4L1738.0 450.3L1738.5 453.2L1739.0 454.5L1739.5 452.0L1740.0 449.5L1740.5 447.1L1741.0 444.7L1741.5 442.4L1742.0 440.1L1742.5 442.1L1743.0 444.8L1743.5 447.4L1744.0 450.0L1744.5 452.5L1745.0 455.0L1745.5 456.9L1746.0 454.8L1746.5 452.7L1747.0 450.6L1747.5 448.6L1748.0 446.7L1748.5 444.8L1749.0 443.3L1749.5 445.7L1750.0 447.9L1750.5 450.0L1751.0 452.1L1751.5 454.0L1752.0 455.9L1752.5 457.6L1753.0 456.0L1753.5 454.4L1754.0 452.9L1754.5 451.5L1755.0 450.2L1755.5 449.0L1756.0 447.9L1756.5 449.6L1757.0 451.2L1757.5 452.7L1758.0 454.2L1758.5 455.5L1759.0 456.8L1759.5 457.6L1760.0 456.6L1760.5 455.6L1761.0 454.6L1761.5 453.6L1762.0 452.7L1762.5 451.7L1763.0 451.7L1763.5 452.9L1764.0 454.1L1764.5 455.2L1765.0 456.3L1765.5 457.4L1766.0 458.5L1766.5 458.0L1767.0 457.1L1767.5 456.2L1768.0 455.3L1768.5 454.4L1769.0 453.6L1769.5 453.2L1770.0 454.3L1770.5 455.4L1771.0 456.4L1771.5 457.5L1772.0 458.5L1772.5 459.5L1773.0 458.8L1773.5 458.0L1774.0 457.2L1774.5 456.3L1775.0 455.4L1775.5 454.5L1776.0 455.1L1776.5 456.0L1777.0 456.9L1777.5 457.8L1778.0 458.7L1778.5 459.4L1779.0 458.5L1779.5 457.6L1780.0 456.8L1780.5 455.9L1781.0 455.0L1781.5 455.0L1782.0 455.9L1782.5 456.9L1783.0 457.9L1783.5 459.0L1784.0 459.7L1784.5 458.6L1785.0 457.4L1785.5 456.2L1786.0 454.9L1786.5 453.7L1787.0 455.0L1787.5 456.4L1787.8 457.3L1788.0 457.9L1788.5 459.6L1789.0 461.0L1789.5 459.4L1790.0 457.7L1790.5 455.9L1791.0 453.9L1791.5 453.1L1792.0 455.2L1792.5 457.4L1793.0 459.7L1793.5 461.9L1794.0 461.7L1794.5 459.6L1795.0 457.6L1795.5 455.5L1796.0 453.5L1796.5 453.8L1797.0 455.9L1797.5 458.0L1798.0 460.1L1798.5 462.1L1799.0 462.8L1799.5 460.9L1800.0 459.1L1800.5 457.2L1801.0 455.4L1801.5 454.0L1802.0 455.4L1802.5 457.5L1803.0 459.4L1803.5 461.3L1804.0 463.4L1804.5 465.6L1805.0 464.7L1805.5 463.3L1806.0 461.7L1806.5 460.1L1807.0 458.4L1807.5 456.7L1808.0 457.1L1808.5 459.2L1809.0 461.5L1809.5 463.9L1810.0 466.3L1810.5 468.8L1811.0 471.4L1811.5 470.9L1812.0 469.2L1812.5 467.3L1813.0 465.5L1813.5 463.5L1814.0 461.5L1814.5 459.7L1814.7 458.9L1815.0 458.7L1815.5 461.2L1816.0 463.6L1816.5 466.0L1817.0 468.3L1817.5 470.5L1818.0 472.7L1818.5 474.8L1819.0 472.8L1819.5 470.9L1820.0 469.0L1820.5 467.1L1821.0 465.4L1821.5 463.7L1822.0 463.1L1822.5 465.3L1823.0 467.3L1823.5 469.3L1824.0 471.2L1824.5 473.1L1825.0 474.8L1825.5 473.2L1826.0 471.6L1826.5 470.0L1827.0 468.5L1827.5 467.0L1828.0 465.8L1828.5 467.7L1829.0 469.5L1829.5 471.4L1830.0 473.2L1830.5 474.9L1831.0 475.1L1831.5 473.6L1832.0 472.1L1832.5 470.6L1833.0 469.1L1833.5 468.1L1834.0 469.9L1834.5 471.6L1835.0 473.4L1835.5 475.1L1836.0 476.7L1836.5 475.4L1837.0 474.0L1837.5 472.7L1838.0 471.4L1838.5 470.2L1839.0 471.2L1839.5 472.7L1840.0 474.2L1840.5 475.6L1841.0 476.9L1841.5 477.4L1841.6 477.1L1842.0 476.3L1842.5 475.2L1843.0 474.1L1843.5 473.0L1844.0 471.9L1844.5 472.4L1845.0 473.6L1845.5 474.9L1846.0 476.1L1846.5 477.4L1847.0 478.7L1847.5 478.4L1848.0 477.3L1848.5 476.3L1849.0 475.4L1849.5 474.4L1850.0 473.5L1850.5 473.1L1851.0 474.2L1851.5 475.3L1852.0 476.3L1852.5 477.3L1853.0 478.3L1853.5 479.3L1854.0 479.6L1854.5 478.8L1855.0 478.0L1855.5 477.3L1856.0 476.6L1856.5 475.8L1857.0 475.1L1857.5 474.4L1858.0 475.0L1858.5 475.8L1859.0 476.7L1859.5 477.5L1860.0 478.5L1860.5 479.4L1861.0 480.4L1861.5 480.9L1862.0 480.0L1862.5 479.1L1863.0 478.1L1863.5 477.1L1864.0 476.1L1864.5 475.0L1865.0 474.7L1865.5 475.9L1866.0 477.1L1866.5 478.4L1867.0 479.8L1867.5 481.2L1868.0 482.7L1868.5 481.8L1869.0 480.4L1869.5 479.0L1870.0 477.6L1870.5 476.0L1871.0 474.3L1871.5 475.4L1872.0 477.2L1872.5 479.1L1873.0 481.2L1873.5 483.3L1874.0 485.3L1874.5 483.4L1875.0 481.3L1875.5 479.2L1876.0 476.9L1876.5 474.5L1877.0 474.9L1877.5 477.4L1878.0 480.1L1878.5 482.9L1879.0 485.9L1879.5 487.0L1880.0 484.2L1880.5 481.3L1881.0 478.5L1881.5 475.6L1882.0 474.2L1882.5 477.3L1883.0 480.3L1883.5 483.2L1884.0 486.1L1884.5 488.0L1885.0 485.2L1885.5 482.5L1886.0 480.0L1886.5 477.5L1887.0 475.4L1887.5 478.1L1888.0 480.8L1888.5 483.3L1889.0 485.8L1889.5 488.1L1890.0 485.8L1890.5 483.5L1891.0 481.3L1891.5 479.1L1892.0 476.8L1892.5 478.7L1892.6 479.2L1893.0 481.7L1893.5 484.6L1894.0 487.2L1894.5 489.5L1895.0 488.6L1895.5 487.4L1896.0 486.6L1896.5 488.2L1897.0 490.2L1897.5 493.8L1898.0 497.5L1898.5 500.7L1899.0 503.5L1899.3 505.0" stroke="#0000ff" stroke-dasharray="12.6 12.4"/>
<path d="M1899.3 525.2L1899.3 505.0L1899.5 500.9L1900.0 490.6L1900.5 480.3L1901.0 470.0L1901.5 456.0L1902.0 442.0L1902.5 428.0L1903.0 414.0L1903.5 400.0L1904.0 386.0L1904.5 372.0L1905.0 358.0L1905.5 344.0L1906.0 348.6L1906.5 351.1L1907.0 351.6L1907.5 352.5L1908.0 359.3L1908.5 367.8L1909.0 377.7L1909.5 388.9L1910.0 401.1L1910.5 395.3L1911.0 388.6L1911.5 382.6L1912.0 377.3L1912.5 372.5L1913.0 372.8L1913.5 378.9L1914.0 384.7L1914.5 390.3L1915.0 395.7L1915.5 400.9L1916.0 398.5L1916.5 394.3L1917.0 390.3L1917.5 386.6L1918.0 383.0L1918.5 379.8L1919.0 384.7L1919.5 389.4L1920.0 393.8L1920.5 398.0L1921.0 402.0L1921.5 405.1L1922.0 401.7L1922.5 398.4L1923.0 395.2L1923.5 392.1L1924.0 389.0L1924.5 386.2L1925.0 390.0L1925.5 393.8L1926.0 397.6L1926.5 401.3L1927.0 404.9L1927.5 407.8L1928.0 404.7L1928.5 401.6L1929.0 398.6L1929.5 395.6L1930.0 392.6L1930.5 392.7L1931.0 396.4L1931.5 400.1L1932.0 403.8L1932.5 407.4L1933.0 410.7L1933.5 407.6L1933.7 406.4L1934.0 404.7L1934.5 402.0L1935.0 399.3L1935.5 396.0L1936.0 398.3L1936.5 402.3L1937.0 406.8L1937.5 411.7L1938.0 417.0L1938.5 415.1L1939.0 410.8L1939.5 406.2L1940.0 401.1L1940.5 395.6L1941.0 400.7L1941.5 407.1L1942.0 413.8L1942.5 420.9L1943.0 425.4L1943.5 419.3L1944.0 412.8L1944.5 406.0L1945.0 398.9L1945.5 401.3L1946.0 409.3L1946.5 417.5L1947.0 425.3L1947.5 430.8L1948.0 424.0L1948.5 417.5L1949.0 411.5L1949.5 405.8L1950.0 406.5L1950.5 413.1L1951.0 419.3L1951.5 425.2L1952.0 430.8L1952.5 428.5L1953.0 423.8L1953.5 419.4L1954.0 415.4L1954.5 411.7L1955.0 415.2L1955.5 419.9L1956.0 424.3L1956.5 428.5L1957.0 432.3L1957.5 430.6L1958.0 427.6L1958.5 424.9L1959.0 422.5L1959.5 420.3L1960.0 421.3L1960.5 424.6L1961.0 427.6L1961.5 430.4L1962.0 433.0L1962.5 434.9L1963.0 433.2L1963.5 431.7L1964.0 430.4L1964.5 429.3L1965.0 428.4L1965.5 429.0L1966.0 431.0L1966.5 432.9L1967.0 434.6L1967.5 436.1L1968.0 437.5L1968.5 437.8L1968.6 437.7L1969.0 437.1L1969.5 436.3L1970.0 435.6L1970.5 434.8L1971.0 434.0L1971.5 434.3L1972.0 435.6L1972.5 436.8L1973.0 438.1L1973.5 439.4L1974.0 440.7L1974.5 441.3L1975.0 440.5L1975.5 439.7L1976.0 438.9L1976.5 438.1L1977.0 437.3L1977.5 436.5L1978.0 437.7L1978.5 439.0L1979.0 440.3L1979.5 441.6L1980.0 442.8L1980.5 444.1L1981.0 444.5L1981.5 443.7L1982.0 442.9L1982.5 442.1L1983.0 441.3L1983.5 440.3L1984.0 439.4L1984.5 440.1L1985.0 441.5L1985.5 443.0L1986.0 444.5L1986.5 446.0L1987.0 447.7L1987.5 449.4L1988.0 448.7L1988.5 447.6L1989.0 446.5L1989.5 445.3L1990.0 444.0L1990.5 442.6L1991.0 441.3L1991.5 442.4L1992.0 444.3L1992.5 446.1L1993.0 448.0L1993.5 450.0L1994.0 452.0L1994.5 454.0L1995.0 453.3L1995.5 451.8L1996.0 450.3L1996.5 448.7L1997.0 447.1L1997.5 445.4L1998.0 443.7L1998.5 445.5L1999.0 447.7L1999.5 449.9L2000.0 452.1L2000.5 454.4L2001.0 456.7L2001.5 458.1L2002.0 456.1L2002.5 454.1L2003.0 452.2L2003.5 450.3L2004.0 448.6L2004.5 446.9L2005.0 447.1L2005.5 449.0L2006.0 450.8L2006.5 452.6L2007.0 454.2L2007.5 455.8L2008.0 457.3L2008.5 455.8L2009.0 454.3L2009.5 452.9L2010.0 451.6L2010.5 450.3L2011.0 449.2L2011.5 449.5L2012.0 450.9L2012.5 452.1L2013.0 453.3L2013.5 454.6L2014.0 456.0L2014.5 456.8L2015.0 455.7L2015.5 454.5L2016.0 453.3L2016.5 452.1L2017.0 450.8L2017.5 450.0L2018.0 451.5L2018.5 453.1L2019.0 454.7L2019.5 456.4L2020.0 458.1L2020.5 459.1L2021.0 457.7L2021.5 456.2L2022.0 454.7L2022.5 453.2L2023.0 451.6L2023.5 451.8L2024.0 453.7L2024.5 455.5L2025.0 457.4L2025.5 459.3L2026.0 461.2L2026.5 459.8L2027.0 458.2L2027.5 456.6L2027.7 456.0L2028.0 454.8L2028.5 452.9L2029.0 452.8L2029.5 454.5L2030.0 456.1L2030.5 457.8L2031.0 459.5L2031.5 460.6L2032.0 458.7L2032.5 456.7L2033.0 454.8L2033.5 452.8L2034.0 450.8L2034.5 452.5L2035.0 454.2L2035.5 456.0L2036.0 457.8L2036.5 459.7L2037.0 458.6L2037.5 456.5L2038.0 454.4L2038.5 452.3L2039.0 450.1L2039.5 449.7L2040.0 451.6L2040.5 453.6L2041.0 455.6L2041.5 457.9L2042.0 460.3L2042.5 458.4L2043.0 456.5L2043.5 454.6L2044.0 452.7L2044.5 450.7L2045.0 450.4L2045.5 452.7L2046.0 455.1L2046.5 457.4L2047.0 459.7L2047.5 462.1L2048.0 461.8L2048.5 459.9L2049.0 458.0L2049.5 456.2L2050.0 454.3L2050.5 452.5L2051.0 453.5L2051.5 455.7L2052.0 457.9L2052.5 460.2L2053.0 462.4L2053.5 464.5L2054.0 464.4L2054.5 462.7L2054.6 462.3L2055.0 460.9L2055.5 459.1L2056.0 457.4L2056.5 455.8L2057.0 455.3L2057.5 457.3L2058.0 459.3L2058.5 461.2L2059.0 463.0L2059.5 464.8L2060.0 466.4L2060.5 465.7L2061.0 464.3L2061.5 463.0L2062.0 461.8L2062.5 460.7L2063.0 459.7L2063.5 458.8L2064.0 460.3L2064.5 461.8L2065.0 463.1L2065.5 464.4L2066.0 465.6L2066.5 466.7L2067.0 467.6L2067.5 466.8L2068.0 466.0L2068.5 465.2L2069.0 464.5" stroke="#0000ff" stroke-dasharray="12.6 12.4"/>
<path d="M240.3 498.6L241.6 446.9L241.9 395.1L242.2 343.4L242.4 291.7L242.5 239.9L242.7 188.2L242.8 136.5L242.9 84.7L243.0 33.0L244.6 33.0L244.8 84.7L245.1 136.5L245.3 188.2L245.6 239.9L246.0 291.7L246.3 343.4L246.8 395.1L247.6 446.9L250.3 498.6L250.3 498.6L251.9 452.1L252.3 405.6L252.6 359.1L252.8 312.6L253.0 266.0L253.2 219.5L253.3 173.0L253.5 126.5L253.6 80.0L255.2 80.0L255.3 126.5L255.5 173.0L255.7 219.5L255.8 266.0L256.1 312.6L256.3 359.1L256.6 405.6L257.1 452.1L258.8 498.6L258.8 498.6L260.8 456.2L261.3 413.8L261.6 371.4L261.9 329.0L262.2 286.6L262.4 244.2L262.6 201.8L262.7 159.4L262.9 117.0L264.5 117.0L264.7 159.4L264.8 201.8L265.0 244.2L265.2 286.6L265.4 329.0L265.7 371.4L266.1 413.8L266.6 456.2L268.5 498.6L268.5 498.6L270.0 459.5L270.4 420.4L270.6 381.2L270.9 342.1L271.0 303.0L271.2 263.9L271.4 224.7L271.5 185.6L271.6 146.5L273.2 146.5L273.3 185.6L273.4 224.7L273.6 263.9L273.7 303.0L273.9 342.1L274.1 381.2L274.4 420.4L274.8 459.5L276.2 498.6L276.2 498.6L278.0 463.6L278.4 428.7L278.8 393.7L279.0 358.8L279.2 323.8L279.4 288.9L279.6 253.9L279.8 219.0L279.9 184.0L281.5 184.0L281.6 219.0L281.8 253.9L281.9 288.9L282.1 323.8L282.3 358.8L282.6 393.7L282.9 428.7L283.3 463.6L285.0 498.6L285.0 498.6L286.4 467.3L286.8 436.0L287.0 404.7L287.2 373.4L287.4 342.2L287.5 310.9L287.7 279.6L287.8 248.3L287.9 217.0L289.5 217.0L289.6 247.6L289.7 278.1L289.9 308.7L290.0 339.3L290.2 369.9L290.4 400.4L290.6 431.0L291.0 461.6L292.4 492.1L292.4 492.1L293.6 465.7L294.0 439.2L294.2 412.8L294.4 386.3L294.5 359.8L294.7 333.4L294.8 306.9L294.9 280.5L295.0 254.0L296.6 254.0L296.7 278.6L296.8 303.2L297.0 327.8L297.1 352.4L297.3 377.0L297.5 401.5L297.7 426.1L298.1 450.7L299.5 475.3L299.5 475.3L300.8 453.7L301.2 432.1L301.4 410.5L301.6 389.0L301.8 367.4L301.9 345.8L302.1 324.2L302.2 302.6L302.3 281.0L303.9 281.0L304.0 300.3L304.1 319.6L304.2 338.9L304.4 358.2L304.6 377.5L304.7 396.8L305.0 416.1L305.3 435.4L306.6 454.7L306.6 454.7L308.0 438.2L308.3 421.7L308.6 405.1L308.7 388.6L308.9 372.1L309.1 355.6L309.2 339.0L309.3 322.5L309.4 306.0L311.0 306.0L311.1 321.1L311.2 336.2L311.3 351.4L311.5 366.5L311.6 381.6L311.8 396.7L312.0 411.8L312.4 427.0L313.6 442.1L313.6 442.1L314.9 429.6L315.3 417.2L315.5 404.7L315.7 392.3L315.8 379.8L316.0 367.4L316.1 354.9L316.2 342.5L316.3 330.0L317.9 330.0L318.0 341.8L318.1 353.7L318.2 365.5L318.4 377.4L318.5 389.2L318.7 401.1L318.9 412.9L319.2 424.8L320.5 436.6L320.5 436.6L321.7 426.7L322.0 416.7L322.2 406.8L322.4 396.8L322.5 386.8L322.7 376.9L322.8 366.9L322.9 357.0L323.0 347.0L324.6 347.0L324.7 356.4L324.8 365.8L324.9 375.2L325.0 384.5L325.1 393.9L325.3 403.3L325.5 412.7L325.8 422.1L326.9 431.5L326.9 431.5L328.0 424.5L328.3 417.6L328.5 410.7L328.7 403.7L328.8 396.8L328.9 389.8L329.0 382.9L329.1 375.9L329.2 369.0L330.8 369.0L330.9 375.7L331.0 382.4L331.1 389.1L331.3 395.8L331.4 402.5L331.6 409.2L331.8 415.9L332.1 422.6L333.4 429.3L333.4 429.3L334.6 423.9L334.9 418.6L335.1 413.2L335.3 407.8L335.4 402.5L335.6 397.1L335.7 391.7L335.8 386.4L335.9 381.0L337.5 381.0L337.6 386.4L337.7 391.8L337.8 397.3L337.9 402.7L338.0 408.1L338.1 413.5L338.3 419.0L338.6 424.4L339.5 429.8L339.5 429.8L340.5 425.2L340.8 420.5L341.0 415.9L341.1 411.2L341.2 406.6L341.3 401.9L341.4 397.3L341.5 392.6L341.6 388.0L343.2 388.0L343.3 392.4L343.4 396.9L343.5 401.3L343.6 405.7L343.7 410.2L343.9 414.6L344.1 419.0L344.3 423.4L345.4 427.9L345.4 427.9L346.5 424.7L346.7 421.5L346.9 418.2L347.1 415.0L347.2 411.8L347.3 408.6L347.4 405.4L347.5 402.2L347.6 399.0L349.2 399.0L349.3 401.9L349.4 404.8L349.5 407.7L349.6 410.6L349.7 413.4L349.9 416.3L350.1 419.2L350.3 422.1L351.4 425.0L351.0 414.1L351.5 420.2L352.0 425.0L352.5 427.4L353.0 426.9L353.5 423.6L354.0 418.5L354.5 413.0L355.0 408.8L355.5 407.4L356.0 409.3L356.5 414.0L357.0 420.7L357.5 427.5L358.0 432.5L358.5 434.2L359.0 432.1L359.5 426.7L360.0 419.7L360.5 413.6L361.0 410.5L361.5 411.6L362.0 416.8L362.5 424.5L363.0 431.9L363.5 436.5L364.0 437.0L364.5 433.3L365.0 427.0L365.5 420.7L366.0 416.9L366.5 416.9L367.0 420.7L367.5 426.8L368.0 432.9L368.5 436.7L369.0 437.0L369.5 433.9L370.0 429.1L370.5 424.8L371.0 422.8L371.5 423.9L372.0 427.8L372.5 432.8L373.0 436.9L373.5 438.3L374.0 436.9L374.5 433.7L375.0 430.3L375.5 428.6L376.0 429.1L376.5 431.6L377.0 435.1L377.5 438.1L378.0 439.5L378.5 439.2L379.0 437.5L379.5 435.5L380.0 434.3L380.5 434.2L381.0 435.5L381.5 437.5L382.0 439.5L382.5 440.8L383.0 441.0L383.5 440.3L384.0 439.3L384.5 438.4L385.0 438.2L385.5 438.7L386.0 439.9L386.5 441.3L387.0 442.5L387.5 443.2L388.0 443.1L388.5 442.6L388.8 442.2L389.0 441.9L389.5 441.4L390.0 441.5L390.5 442.2L391.0 443.3L391.5 444.5L392.0 445.4L392.5 445.8L393.0 445.6L393.5 445.1L394.0 444.7L394.5 444.5L395.0 444.7L395.5 445.4L396.0 446.5L396.5 447.6L397.0 448.5L397.5 448.7L398.0 448.3L398.5 447.5L398.6 447.4L399.0 446.8L399.5 446.7L400.0 447.3L400.5 448.7L401.0 450.2L401.5 451.1L402.0 451.1L402.5 450.1L403.0 448.7L403.5 447.8L404.0 448.1L404.5 449.6L405.0 451.7L405.5 453.2L406.0 453.3L406.5 452.0L407.0 450.2L407.5 449.3L408.0 449.9L408.4 451.3L408.5 451.7L409.0 453.6L409.5 454.5L410.0 454.1L410.5 452.7L411.0 451.6L411.5 451.6L412.0 452.8L412.5 454.4L413.0 455.4L413.5 455.3L414.0 454.3L414.5 453.5L415.0 453.6L415.5 454.5L416.0 455.8L416.5 456.4L417.0 456.2L417.5 455.5L418.0 455.1L418.5 455.4L419.0 456.4L419.5 457.6L420.0 458.2L420.5 458.1L421.0 457.5L421.5 457.0L422.0 457.3L422.5 458.2L423.0 459.4L423.5 460.3L424.0 460.5L424.5 460.2L425.0 459.5L425.5 459.2L426.0 459.5L426.5 460.4L427.0 461.6L427.5 462.6L428.0 463.0L428.5 463.6L429.0 463.9L429.5 464.2L430.0 464.9L430.5 466.1L431.0 467.5L431.5 469.0L432.0 470.4L432.5 471.5L432.8 472.1L433.0 473.1L433.5 475.4L434.0 477.8L434.5 480.2L435.0 482.8L435.5 485.5L435.6 486.0L436.0 489.6L436.5 494.1L437.0 498.7L437.5 503.2L437.7 505.0L438.0 500.8L438.5 493.9L439.0 486.9L439.5 480.0L440.0 473.0L440.5 466.0L441.0 459.0L441.5 452.0L442.0 445.0L442.5 442.7L443.0 440.5L443.5 438.2L444.0 435.9L444.5 433.7L445.0 431.4L445.5 432.7L446.0 433.4L446.5 432.9L447.0 431.6L447.5 429.8L448.0 428.5L448.5 429.3L449.0 431.4L449.5 434.3L450.0 437.2L450.5 439.5L451.0 440.5L451.4 440.4L451.5 440.2L452.0 438.8L452.5 436.9L453.0 435.2L453.5 434.2L454.0 434.2L454.5 435.2L455.0 436.9L455.5 438.9L456.0 440.5L456.5 441.5L457.0 441.8L457.5 441.3L458.0 440.6L458.5 439.9L459.0 439.6L459.5 439.8L460.0 440.4L460.5 441.3L461.0 442.2L461.5 443.2L462.0 444.1L462.5 444.7L463.0 444.6L463.5 443.9L464.0 443.0L464.5 441.9L465.0 441.5L465.5 442.0L466.0 443.4L466.5 445.6L467.0 447.7L467.5 449.2L468.0 449.5L468.5 448.4L469.0 446.2L469.5 443.5L470.0 441.4L470.5 440.5L471.0 441.5L471.5 444.1L472.0 447.7L472.5 451.1L473.0 453.2L473.5 453.5L474.0 451.8L474.5 448.8L475.0 445.5L475.5 442.8L476.0 441.7L476.5 442.4L477.0 444.9L477.5 448.5L478.0 452.0L478.5 454.6L478.7 455.2L479.0 455.6L479.5 454.7L480.0 452.4L480.5 449.3L481.0 446.6L481.5 445.0L482.0 445.0L482.5 446.7L483.0 449.6L483.5 453.0L484.0 455.8L484.5 457.4L485.0 457.4L485.5 455.9L486.0 453.7L486.5 451.5L487.0 450.1L487.5 450.1L488.0 451.5L488.5 453.8L489.0 456.2L489.5 457.9L490.0 458.6L490.5 458.0L491.0 456.7L491.5 455.4L492.0 454.6L492.5 454.8L493.0 455.9L493.5 457.4L494.0 458.9L494.5 459.9L495.0 460.1L495.5 459.5L496.0 458.2L496.5 457.3L497.0 457.0L497.5 457.8L498.0 459.3L498.5 460.8L499.0 461.5L499.5 461.1L500.0 459.7L500.5 458.2L501.0 457.5L501.5 458.1L502.0 459.8L502.5 461.6L503.0 462.5L503.5 462.0L504.0 460.3L504.5 458.6L505.0 458.1L505.5 459.1L506.0 461.2L506.5 463.0L507.0 463.5L507.5 462.5L508.0 460.5L508.5 458.9L509.0 458.6L509.5 459.8L510.0 461.9L510.5 464.1L511.0 465.1L511.5 464.5L512.0 462.8L512.5 461.0L513.0 460.2L513.5 460.8L514.0 462.8L514.5 465.3L515.0 467.4L515.5 468.3L516.0 467.6L516.5 465.8L517.0 463.9L517.5 462.8L518.0 463.0L518.5 464.4L519.0 466.7L519.5 469.0L520.0 470.6L520.5 471.1L520.8 470.9L521.0 470.4L521.5 468.8L522.0 467.1L522.5 465.7L523.0 465.3L523.5 465.8L524.0 467.1L524.5 468.9L525.0 470.6L525.5 471.9L526.0 472.4L526.5 472.0L527.0 471.1L527.5 469.7L528.0 468.3L528.5 467.4L529.0 467.3L529.5 467.9L530.0 469.0L530.5 470.5L531.0 471.7L531.5 472.5L532.0 472.5L532.5 471.9L533.0 471.0L533.5 470.1L534.0 469.7L534.5 469.8L535.0 470.5L535.5 471.4L536.0 472.2L536.5 472.6L537.0 472.5L537.5 472.2L538.0 471.8L538.5 471.6L539.0 471.6L539.5 471.9L540.0 472.6L540.5 473.2L541.0 473.4L541.5 473.2L542.0 472.6L542.5 472.0L543.0 471.8L543.5 472.1L544.0 472.9L544.5 473.6L545.0 473.9L545.5 473.3L546.0 472.4L546.5 471.8L547.0 471.9L547.5 472.8L548.0 473.8L548.5 474.3L549.0 473.7L549.5 472.5L550.0 471.8L550.5 471.9L551.0 472.9L551.5 474.0L552.0 474.5L552.5 474.1L553.0 473.1L553.5 472.2L554.0 471.9L554.5 472.4L555.0 473.3L555.5 474.2L556.0 474.6L556.5 474.4L557.0 473.6L557.5 472.7L558.0 472.2L558.5 472.2L559.0 472.7L559.5 473.5L560.0 474.3L560.5 474.9L561.0 474.9L561.5 474.5L562.0 473.7L562.5 472.8L563.0 472.1L563.5 471.8L564.0 472.1L564.5 472.8L565.0 473.9L565.5 474.9L566.0 475.7L566.5 476.1L567.0 476.0L567.5 475.5L568.0 474.6L568.5 473.6L569.0 472.5L569.5 471.7L570.0 471.2L570.5 471.0L570.8 471.2L571.0 471.3L571.5 472.0L572.0 473.0L572.5 474.1L573.0 475.2L573.5 476.2L574.0 476.8L574.5 476.9L575.0 476.6L575.5 475.8L576.0 474.7L576.5 473.5L577.0 472.4L577.5 471.7L578.0 471.6L578.5 472.0L579.0 473.0L579.5 474.3L580.0 475.5L580.5 476.4L581.0 476.7L581.5 476.4L582.0 475.4L582.5 474.1L583.0 473.0L583.5 472.3L584.0 472.3L584.5 473.0L585.0 474.1L585.5 475.2L586.0 476.0L586.5 476.1L587.0 475.6L587.5 474.7L588.0 473.7L588.5 473.1L589.0 473.2L589.5 473.7L590.0 474.6L590.5 475.3L591.0 475.5L591.5 475.2L592.0 474.6L592.5 474.0L593.0 473.7L593.5 473.7L594.0 474.0L594.5 474.5L595.0 474.9L595.5 474.9L596.0 474.6L596.5 474.0L597.0 473.6L597.5 473.6L598.0 473.8L598.5 474.2L599.0 474.6L599.5 474.6L600.0 474.3L600.5 473.9L601.0 473.6L601.5 473.5L602.0 473.6L602.5 473.9L603.0 474.1L603.5 474.0L604.0 473.6L604.5 473.1L605.0 472.7L605.5 472.6L606.0 473.1L606.5 473.8L607.0 474.2L607.5 473.8L608.0 472.5L608.5 471.3L609.0 471.0L609.5 471.9L610.0 473.5L610.5 474.6L611.0 474.1L611.5 472.1L612.0 470.1L612.5 469.5L613.0 470.9L613.5 473.4L614.0 474.9L614.5 474.1L615.0 471.3L615.5 468.8L616.0 468.5L616.5 470.8L617.0 473.5L617.5 474.7L618.0 473.8L618.5 471.6L619.0 470.1L619.5 470.3L620.0 472.1L620.5 474.1L621.0 474.9L621.5 474.1L622.0 472.7L622.5 471.7L623.0 472.0L623.5 473.3L624.0 474.6L624.5 475.0L625.0 474.6L625.5 473.8L626.0 473.5L626.5 473.6L627.0 474.3L627.5 475.3L628.0 475.8L628.5 475.6L629.0 474.8L629.5 474.2L630.0 474.2L630.5 475.1L631.0 476.3L631.5 477.0L632.0 476.7L632.5 475.7L633.0 474.7L633.5 474.5L634.0 475.4L634.5 476.8L635.0 477.7L635.5 477.5L636.0 476.4L636.5 475.1L637.0 474.7L637.5 475.5L638.0 477.0L638.5 478.1L639.0 478.3L639.5 477.4L640.0 476.1L640.5 475.3L641.0 475.5L641.5 476.5L642.0 477.8L642.5 478.7L643.0 478.7L643.5 477.9L644.0 476.8L644.5 476.0L645.0 476.0L645.5 476.7L646.0 477.8L646.5 478.8L647.0 479.3L647.5 479.1L648.0 478.3L648.5 477.4L649.0 476.6L649.5 476.4L650.0 476.9L650.5 477.9L651.0 479.2L651.5 480.2L652.0 480.6L652.5 480.2L653.0 479.3L653.5 478.0L654.0 477.0L654.5 476.4L655.0 476.6L655.5 477.5L656.0 478.9L656.5 480.5L657.0 481.7L657.5 482.4L658.0 482.4L658.5 481.7L659.0 480.5L659.5 479.1L660.0 478.0L660.5 477.3L661.0 477.3L661.5 477.9L662.0 479.0L662.5 480.3L663.0 481.6L663.5 482.6L664.0 483.2L664.5 483.3L665.0 483.0L665.5 482.3L666.0 481.4L666.5 480.5L667.0 479.9L667.5 479.5L668.0 479.6L668.5 480.0L669.0 480.7L669.5 481.5L670.0 482.4L670.5 483.2L671.0 483.8L671.5 484.2L672.0 484.3L672.5 484.1L673.0 483.6L673.5 482.9L674.0 482.1L674.5 481.4L675.0 480.9L675.5 480.6L676.0 480.7L676.5 481.2L677.0 481.9L677.5 482.9L678.0 484.0L678.5 485.0L679.0 485.8L679.5 486.4L680.0 486.6L680.5 486.5L681.0 486.0L681.5 485.2L682.0 484.1L682.5 483.0L683.0 482.1L683.5 481.5L684.0 481.4L684.5 481.8L685.0 482.7L685.5 484.0L686.0 485.4L686.5 486.7L687.0 487.5L687.5 487.6L688.0 487.0L688.5 485.8L689.0 484.4L689.5 483.2L690.0 482.5L690.5 482.8L691.0 483.9L691.5 485.5L692.0 487.2L692.5 488.1L693.0 488.1L693.5 487.1L694.0 485.6L694.5 484.3L695.0 483.8L695.5 484.4L696.0 485.7L696.5 487.1L697.0 488.0L697.5 487.9L698.0 487.0L698.5 485.8L699.0 485.1L699.5 485.3L700.0 486.2L700.5 487.2L701.0 487.8L701.5 487.6L702.0 486.9L702.5 486.3L703.0 486.2L703.5 486.5L704.0 487.4L704.5 488.1L705.0 488.1L705.5 487.4L706.0 486.5L706.5 486.1L707.0 486.7L707.5 488.0L708.0 489.0L708.5 488.8L709.0 487.7L709.5 486.4L710.0 486.1L710.5 487.2L711.0 488.9L711.5 489.9L712.0 489.3L712.5 487.6L713.0 486.1L713.5 486.3L714.0 488.2L714.5 490.1L715.0 490.5L715.5 489.1L716.0 487.3L716.5 486.6L717.0 487.6L717.5 489.4L718.0 490.5L718.5 490.0L719.0 488.5L719.5 487.5L720.0 487.8L720.5 489.1L721.0 490.3L721.5 490.3L722.0 489.3L722.5 488.4L723.0 488.3L723.5 489.2L724.0 490.1L724.5 490.4L725.0 489.8L725.5 489.1L726.0 488.9L726.5 489.4L727.0 490.2L727.5 490.6L728.0 490.4L728.5 489.7L729.0 489.3L729.5 489.6L730.0 490.3L730.5 490.9L731.0 490.9L731.5 490.4L732.0 489.8L732.5 489.8L733.0 490.3L733.5 491.0L734.0 491.3L734.5 491.1L735.0 490.5L735.5 490.2L736.0 490.4L736.5 490.9L737.0 491.7L737.5 492.0L738.0 491.5L738.5 490.5L739.0 489.9L739.5 490.1L740.0 491.3L740.5 492.6L741.0 493.0L741.5 492.1L742.0 490.5L742.5 489.4L743.0 489.7L743.5 491.3L744.0 493.2L744.5 494.0L745.0 493.1L745.5 491.0L746.0 489.2L746.5 488.9L747.0 490.5L747.5 493.0L748.0 494.6L748.5 494.4L749.0 492.6L749.5 490.4L750.0 489.3L750.5 489.7L751.0 491.5L751.5 493.5L752.0 494.5L752.5 494.2L753.0 492.8L753.5 491.0L754.0 490.0L754.5 490.2L755.0 491.4L755.5 493.0L756.0 494.2L756.5 494.4L757.0 493.7L757.5 492.4L758.0 491.2L758.5 490.7L759.0 491.1L759.5 492.1L760.0 493.3L760.5 494.2L761.0 494.5L761.5 494.1L762.0 493.3L762.5 492.4L763.0 491.8L763.5 491.8L764.0 492.2L764.5 493.0L765.0 493.8L765.5 494.4L766.0 494.6L766.5 494.4L767.0 494.0L767.5 493.4L768.0 493.0L768.5 492.8L769.0 492.9L769.5 493.3L770.0 493.8L770.5 494.5L771.0 495.0L771.5 495.3L772.0 495.1L772.5 494.6L773.0 493.8L773.5 493.2L774.0 492.9L774.5 493.2L775.0 494.1L775.5 495.2L776.0 496.1L776.5 496.4L777.0 496.0L777.5 494.9L778.0 493.7L778.5 493.0L779.0 493.2L779.5 494.3L780.0 495.8L780.5 497.0L781.0 497.3L781.5 496.5L782.0 495.1L782.5 493.8L783.0 493.4L783.5 494.2L784.0 495.8L784.5 497.2L785.0 497.8L785.5 497.1L786.0 495.6L786.5 494.2L787.0 494.0L787.5 495.0L788.0 496.7L788.5 498.0L789.0 498.0L789.5 496.8L790.0 495.2L790.5 494.4L791.0 495.1L791.5 496.7L792.0 498.2L792.5 498.5L793.0 497.4L793.5 495.8L794.0 494.8L794.5 495.3L795.0 496.9L795.5 498.5L796.0 499.0L796.5 498.1L797.0 496.5L797.5 495.3L798.0 495.4L798.5 496.9L799.0 498.6L799.5 499.5L800.0 498.9L800.5 497.4L801.0 496.0L801.5 495.8L802.0 496.9L802.5 498.7L803.0 499.8L803.5 499.7L804.0 498.5L804.5 497.1L805.0 496.5L805.5 497.2L806.0 498.6L806.5 499.9L807.0 500.3L807.5 499.6L808.0 498.4L808.5 497.5L809.0 497.6L809.5 498.6L810.0 499.9L810.5 500.6L811.0 500.4L811.5 499.6L812.0 498.7L812.5 499.1L813.0 500.2L813.5 501.6L814.0 502.7L814.5 503.4L815.0 503.8L815.5 504.3L816.0 505.0L816.5 503.2L817.0 501.4L817.5 499.5L818.0 497.7L818.5 492.3L819.0 487.0L819.5 481.6L820.0 476.2L820.5 470.9L821.0 465.5L821.5 460.1L822.0 454.7L822.5 449.4L823.0 444.0L823.5 437.7L824.0 431.4L824.5 425.1L825.0 418.8L825.5 412.5L826.0 406.2L826.5 399.9L827.0 393.6L827.5 387.3L828.0 381.0L828.5 379.9L829.0 378.9L829.4 378.0L829.5 378.2L830.0 379.6L830.5 381.5L831.0 383.8L831.5 386.1L832.0 387.7L832.5 387.6L833.0 387.3L833.5 387.3L834.0 387.8L834.5 388.9L835.0 390.5L835.5 392.3L836.0 393.9L836.5 395.2L837.0 395.8L837.5 396.0L838.0 395.9L838.5 395.9L839.0 396.4L839.5 397.5L840.0 399.2L840.5 401.0L840.8 402.1L841.0 402.5L841.5 403.0L842.0 402.9L842.5 402.2L843.0 401.5L843.5 401.2L844.0 401.5L844.5 402.5L845.0 403.8L845.5 405.0L846.0 405.7L846.5 405.7L847.0 405.1L847.5 404.3L848.0 403.9L848.5 404.2L849.0 405.3L849.5 406.8L850.0 408.1L850.5 408.6L851.0 408.3L851.5 407.5L852.0 406.6L852.5 406.4L853.0 407.2L853.5 408.6L854.0 410.3L854.5 411.3L855.0 411.4L855.5 410.6L856.0 409.5L856.5 409.0L857.0 409.6L857.5 411.2L858.0 413.0L858.5 414.3L859.0 414.4L859.5 413.6L860.0 412.6L860.5 412.0L861.0 412.4L861.5 413.7L862.0 415.5L862.5 416.8L863.0 417.3L863.5 416.9L864.0 416.0L864.5 415.2L865.0 415.2L865.5 416.1L866.0 417.6L866.5 419.1L867.0 420.1L867.5 420.3L868.0 419.8L868.5 419.0L869.0 418.5L869.5 418.8L870.0 419.8L870.5 421.3L871.0 422.8L871.5 423.7L872.0 423.9L872.5 423.3L873.0 422.5L873.5 422.0L874.0 422.1L874.5 423.0L875.0 424.5L875.5 426.1L876.0 427.2L876.5 427.6L877.0 427.3L877.5 426.5L878.0 425.7L878.5 425.5L879.0 426.1L879.5 427.2L880.0 428.8L880.5 430.3L881.0 431.2L881.5 431.2L882.0 430.3L882.5 429.1L883.0 428.1L883.5 428.0L884.0 429.0L884.5 430.8L885.0 432.9L885.5 434.4L886.0 434.7L886.5 433.8L887.0 432.1L887.5 430.6L888.0 430.0L888.5 431.0L889.0 433.2L889.5 435.8L890.0 437.7L890.5 438.0L891.0 436.8L891.5 434.7L891.6 434.3L892.0 432.9L892.5 432.4L893.0 433.6L893.5 436.0L894.0 438.6L894.5 440.2L895.0 440.1L895.5 438.5L896.0 436.3L896.5 434.8L897.0 434.9L897.5 436.7L898.0 439.3L898.5 441.6L899.0 442.4L899.5 441.5L900.0 439.4L900.5 437.5L901.0 436.9L901.5 438.0L902.0 440.5L902.5 442.9L903.0 444.2L903.5 443.7L904.0 442.0L904.3 440.9L904.5 440.2L905.0 439.3L905.5 440.0L906.0 442.0L906.5 444.2L907.0 445.4L907.5 445.2L908.0 443.8L908.5 442.2L909.0 441.4L909.5 442.0L910.0 443.7L910.5 445.5L911.0 446.6L911.5 446.4L912.0 445.2L912.5 443.8L913.0 443.2L913.5 443.8L914.0 445.5L914.5 447.4L915.0 448.4L915.5 448.0L916.0 446.5L916.5 444.9L917.0 444.4L917.5 445.5L918.0 447.6L918.5 449.5L919.0 450.1L919.5 449.0L920.0 447.0L920.5 445.4L921.0 445.5L921.5 447.3L922.0 449.8L922.5 451.4L923.0 451.2L923.5 449.2L924.0 447.1L924.5 446.1L925.0 447.0L925.5 449.3L926.0 451.6L926.5 452.8L927.0 452.2L927.5 450.4L928.0 448.4L928.5 447.4L929.0 447.9L929.5 449.7L929.7 450.6L930.0 451.9L930.5 453.6L931.0 454.1L931.5 453.2L932.0 451.4L932.5 449.7L933.0 448.8L933.5 449.0L934.0 450.3L934.5 452.3L935.0 454.1L935.5 455.1L936.0 455.2L936.5 454.4L937.0 453.2L937.5 451.9L938.0 451.2L938.5 451.1L939.0 451.6L939.5 452.6L940.0 453.8L940.5 454.9L941.0 455.7L941.5 456.0L942.0 455.9L942.4 455.6L942.5 455.5L943.0 455.0L943.5 454.6L944.0 454.3L944.5 454.2L945.0 454.4L945.5 454.7L946.0 455.3L946.5 455.9L947.0 456.6L947.5 457.3L948.0 457.7L948.5 457.9L949.0 457.9L949.5 457.6L950.0 457.3L950.5 457.1L951.0 457.1L951.5 457.4L952.0 458.0L952.5 458.7L953.0 459.3L953.5 459.7L954.0 459.9L954.5 459.7L955.0 459.4L955.5 459.1L956.0 459.1L956.5 459.4L957.0 460.0L957.5 460.6L958.0 461.0L958.5 461.0L959.0 460.4L959.5 459.8L960.0 459.4L960.5 459.8L961.0 460.8L961.5 461.8L962.0 462.2L962.5 461.7L963.0 460.6L963.5 459.8L964.0 460.0L964.5 461.4L965.0 462.8L965.5 463.2L966.0 462.2L966.5 460.6L967.0 460.0L967.5 461.1L967.8 462.3L968.0 463.1L968.5 464.2L969.0 463.5L969.5 461.5L970.0 460.3L970.5 461.0L971.0 463.3L971.5 465.1L972.0 464.8L972.5 462.7L973.0 460.7L973.5 461.0L974.0 463.3L974.5 465.8L975.0 466.1L975.5 463.9L976.0 461.4L976.5 461.0L977.0 463.3L977.5 466.3L978.0 467.3L978.5 465.2L979.0 462.4L979.5 461.6L980.0 463.6L980.5 466.3L981.0 467.4L981.5 466.0L982.0 463.7L982.5 462.8L983.0 464.1L983.5 466.2L984.0 467.3L984.5 466.4L985.0 464.7L985.5 464.0L986.0 464.8L986.5 466.3L987.0 467.2L987.5 466.7L988.0 465.6L988.5 465.2L989.0 465.7L989.5 466.6L990.0 467.3L990.5 467.1L991.0 466.3L991.5 465.8L992.0 466.1L992.5 467.0L993.0 467.8L993.3 468.0L993.5 467.8L994.0 467.1L994.5 466.3L995.0 466.3L995.5 467.1L996.0 468.1L996.5 468.5L997.0 468.0L997.5 467.1L998.0 466.6L998.5 467.0L999.0 468.1L999.5 469.0L1000.0 469.0L1000.5 468.2L1001.0 467.2L1001.5 466.8L1002.0 467.5L1002.5 469.0L1003.0 470.1L1003.4 470.1L1006.4 498.0L1006.7 438.2L1006.8 378.4L1006.9 318.7L1006.9 258.9L1006.9 199.1L1007.0 139.3L1007.0 79.6L1007.0 19.8L1007.1 -40.0L1008.1 -40.0L1008.2 19.8L1008.3 79.6L1008.4 139.3L1008.5 199.1L1008.6 258.9L1008.7 318.7L1008.9 378.4L1009.1 438.2L1010.0 498.0L1010.0 498.0L1010.7 438.2L1010.9 378.4L1011.0 318.7L1011.1 258.9L1011.2 199.1L1011.3 139.3L1011.4 79.6L1011.4 19.8L1011.5 -40.0L1013.1 -40.0L1013.2 19.8L1013.2 79.6L1013.3 139.3L1013.4 199.1L1013.5 258.9L1013.6 318.7L1013.7 378.4L1013.9 438.2L1014.6 498.0L1014.6 498.0L1015.4 438.2L1015.6 378.4L1015.7 318.7L1015.8 258.9L1015.9 199.1L1016.0 139.3L1016.1 79.6L1016.1 19.8L1016.2 -40.0L1017.8 -40.0L1017.9 19.8L1018.0 79.6L1018.1 139.3L1018.2 199.1L1018.3 258.9L1018.5 318.7L1018.7 378.4L1018.9 438.2L1020.0 498.0L1020.0 498.0L1021.1 457.1L1021.3 416.2L1021.5 375.3L1021.7 334.4L1021.8 293.6L1021.9 252.7L1022.0 211.8L1022.1 170.9L1022.2 130.0L1023.8 130.0L1023.9 170.8L1024.0 211.7L1024.1 252.5L1024.2 293.4L1024.3 334.2L1024.4 375.0L1024.6 415.9L1024.8 456.7L1025.8 497.6L1025.8 497.6L1026.8 465.2L1027.0 432.8L1027.2 400.4L1027.3 368.0L1027.4 335.6L1027.5 303.2L1027.6 270.8L1027.7 238.4L1027.8 206.0L1029.4 206.0L1029.5 235.3L1029.6 264.7L1029.6 294.0L1029.7 323.4L1029.9 352.7L1030.0 382.1L1030.1 411.4L1030.4 440.8L1031.3 470.1L1031.3 470.1L1032.2 447.2L1032.5 424.3L1032.6 401.4L1032.7 378.5L1032.9 355.6L1033.0 332.7L1033.0 309.8L1033.1 286.9L1033.2 264.0L1034.8 264.0L1034.9 282.9L1035.0 301.7L1035.1 320.6L1035.2 339.4L1035.3 358.3L1035.5 377.2L1035.7 396.0L1035.9 414.9L1037.0 433.8L1037.0 433.8L1038.1 419.3L1038.3 404.9L1038.5 390.5L1038.7 376.1L1038.8 361.7L1038.9 347.2L1039.0 332.8L1039.1 318.4L1039.2 304.0L1040.8 304.0L1040.9 316.5L1040.9 328.9L1041.0 341.4L1041.1 353.9L1041.2 366.4L1041.4 378.8L1041.5 391.3L1041.7 403.8L1042.6 416.3L1042.6 416.3L1043.5 406.6L1043.7 396.9L1043.8 387.2L1044.0 377.5L1044.1 367.8L1044.2 358.1L1044.3 348.4L1044.3 338.7L1044.4 329.0L1046.0 329.0L1046.1 337.4L1046.1 345.8L1046.2 354.2L1046.3 362.6L1046.4 371.0L1046.6 379.4L1046.7 387.8L1047.0 396.2L1047.8 404.6L1047.8 404.6L1048.7 398.2L1049.0 391.8L1049.1 385.4L1049.3 379.0L1049.4 372.6L1049.5 366.2L1049.6 359.8L1049.6 353.4L1049.7 347.0L1051.3 347.0L1051.4 352.6L1051.4 358.2L1051.5 363.8L1051.6 369.3L1051.6 374.9L1051.7 380.5L1051.9 386.1L1052.1 391.7L1052.8 397.2L1052.8 397.2L1053.4 393.6L1053.6 389.9L1053.8 386.2L1053.9 382.5L1053.9 378.8L1054.0 375.1L1054.1 371.4L1054.1 367.7L1054.2 364.0L1055.8 364.0L1055.9 367.2L1055.9 370.4L1056.0 373.6L1056.1 376.8L1056.2 379.9L1056.3 383.1L1056.4 386.3L1056.6 389.5L1057.3 392.7L1057.3 392.7L1058.0 391.2L1058.2 389.7L1058.3 388.1L1058.4 386.6L1058.5 385.1L1058.6 383.6L1058.7 382.0L1058.7 380.5L1058.8 379.0L1060.4 379.0L1060.5 380.1L1060.5 381.2L1060.6 382.3L1060.6 383.4L1060.7 384.4L1060.8 385.5L1061.0 386.6L1061.1 387.7L1061.8 388.8L1061.8 388.8L1062.5 388.4L1062.6 388.0L1062.8 387.5L1062.9 387.1L1063.0 386.7L1063.0 386.3L1063.1 385.8L1063.1 385.4L1063.2 385.0L1064.8 385.0L1064.9 385.1L1064.9 385.2L1065.0 385.3L1065.0 385.4L1065.1 385.6L1065.2 385.7L1065.4 385.8L1065.5 385.9L1066.2 386.0L1066.0 387.6L1066.5 388.6L1067.0 388.7L1067.5 388.6L1068.0 388.7L1068.5 389.5L1068.7 389.9L1069.0 390.3L1069.5 391.2L1070.0 392.2L1070.5 392.9L1071.0 393.0L1071.5 392.8L1072.0 392.5L1072.5 392.6L1073.0 393.1L1073.5 394.0L1074.0 394.9L1074.5 395.5L1075.0 395.6L1075.5 395.3L1076.0 395.1L1076.5 395.4L1077.0 396.1L1077.5 397.0L1078.0 397.8L1078.5 398.1L1079.0 397.9L1079.5 397.6L1080.0 397.7L1080.5 398.4L1080.8 399.0L1081.0 399.4L1081.5 400.1L1082.0 400.2L1082.5 399.7L1083.0 399.2L1083.5 399.2L1084.0 400.0L1084.5 401.0L1085.0 401.6L1085.5 401.3L1086.0 400.6L1086.5 400.3L1087.0 400.8L1087.5 401.9L1088.0 402.8L1088.5 402.7L1089.0 402.1L1089.5 401.6L1090.0 401.9L1090.5 402.9L1091.0 403.7L1091.5 403.9L1092.0 403.5L1092.5 403.1L1093.0 403.2L1093.5 403.8L1094.0 404.6L1094.5 405.0L1095.0 404.9L1095.5 404.6L1096.0 404.5L1096.5 405.0L1097.0 405.7L1097.5 406.3L1098.0 406.6L1098.5 406.6L1099.0 406.7L1099.5 406.9L1100.0 407.4L1100.5 408.0L1101.0 408.5L1101.5 408.7L1102.0 408.7L1102.5 408.8L1103.0 409.1L1103.5 409.6L1104.0 410.2L1104.5 410.7L1105.0 410.9L1105.5 410.8L1106.0 410.9L1106.5 411.2L1107.0 411.8L1107.5 412.5L1108.0 412.9L1108.5 413.1L1109.0 413.0L1109.5 413.1L1110.0 413.4L1110.5 414.0L1111.0 414.7L1111.5 415.2L1112.0 415.4L1112.5 415.3L1113.0 415.3L1113.5 415.5L1114.0 416.0L1114.5 416.8L1115.0 417.5L1115.5 417.9L1116.0 417.9L1116.5 417.7L1117.0 417.7L1117.5 417.9L1118.0 418.5L1118.5 419.3L1119.0 420.1L1119.5 420.6L1120.0 420.6L1120.5 420.5L1121.0 420.3L1121.5 420.4L1122.0 420.8L1122.5 421.5L1123.0 422.4L1123.5 423.1L1124.0 423.5L1124.5 423.6L1125.0 423.5L1125.5 423.3L1126.0 423.2L1126.5 423.4L1127.0 423.9L1127.5 424.7L1128.0 425.5L1128.5 426.1L1129.0 426.5L1129.5 426.6L1130.0 426.4L1130.5 426.1L1130.7 426.0L1131.0 425.9L1131.5 426.0L1132.0 426.2L1132.5 426.6L1133.0 426.9L1133.5 427.0L1134.0 423.8L1134.5 420.6L1134.6 420.0L1135.0 410.0L1135.5 397.5L1136.0 385.0L1136.5 372.5L1136.6 370.0L1137.0 364.4L1137.5 357.4L1138.0 350.5L1138.5 343.5L1139.0 345.7L1139.5 348.5L1140.0 351.5L1140.5 353.8L1141.0 355.6L1141.5 356.9L1142.0 357.8L1142.5 357.6L1143.0 358.0L1143.5 358.7L1144.0 359.9L1144.5 361.3L1145.0 362.8L1145.5 364.2L1146.0 365.3L1146.5 366.1L1146.9 366.6L1147.0 366.6L1147.5 366.7L1148.0 366.7L1148.5 366.7L1149.0 366.9L1149.5 367.3L1150.0 367.9L1150.5 368.6L1151.0 369.4L1151.5 370.1L1152.0 370.8L1152.5 371.3L1153.0 371.7L1153.5 371.9L1154.0 372.2L1154.5 372.4L1155.0 372.7L1155.5 373.0L1156.0 373.5L1156.5 374.1L1157.0 374.8L1157.5 375.5L1158.0 376.1L1158.5 376.6L1159.0 377.0L1159.5 377.2L1160.0 377.5L1160.3 377.6L1160.5 377.7L1161.0 378.0L1161.5 378.4L1162.0 379.0L1162.5 379.6L1163.0 380.2L1163.5 380.8L1164.0 381.1L1164.5 381.3L1165.0 381.4L1165.5 381.6L1166.0 381.9L1166.5 382.4L1167.0 383.1L1167.5 383.8L1168.0 384.4L1168.5 384.7L1169.0 384.9L1169.5 385.0L1170.0 385.2L1170.5 385.5L1171.0 386.1L1171.5 386.8L1172.0 387.5L1172.5 387.9L1173.0 388.2L1173.5 388.3L1173.7 388.3L1174.0 388.4L1174.5 388.6L1175.0 389.1L1175.5 389.7L1176.0 390.2L1176.5 390.6L1177.0 390.7L1177.5 390.6L1178.0 390.7L1178.5 391.0L1179.0 391.5L1179.5 392.1L1180.0 392.6L1180.5 393.0L1181.0 393.1L1181.5 393.1L1182.0 393.2L1182.5 393.4L1183.0 393.8L1183.5 394.3L1184.0 394.9L1184.5 395.4L1185.0 395.7L1185.5 395.8L1186.0 395.8L1186.5 395.9L1187.0 396.0L1187.2 396.2L1187.5 396.4L1188.0 397.0L1188.5 397.6L1189.0 398.2L1189.5 398.7L1190.0 399.0L1190.5 399.2L1191.0 399.2L1191.5 399.3L1192.0 399.4L1192.5 399.7L1193.0 400.2L1193.5 400.8L1194.0 401.5L1194.5 402.2L1195.0 402.7L1195.5 403.1L1196.0 403.3L1196.5 403.4L1197.0 403.4L1197.5 403.4L1198.0 403.5L1198.5 403.8L1199.0 404.2L1199.5 404.8L1200.0 405.4L1200.5 406.2L1200.6 406.3L1201.0 406.8L1201.5 407.3L1202.0 407.6L1202.5 407.7L1203.0 407.7L1203.5 407.6L1204.0 407.5L1204.5 407.6L1205.0 407.8L1205.5 408.2L1206.0 408.9L1206.5 409.6L1207.0 410.3L1207.5 410.9L1208.0 411.3L1208.5 411.4L1209.0 411.3L1209.5 411.1L1210.0 411.0L1210.5 411.1L1211.0 411.4L1211.5 412.0L1212.0 412.7L1212.5 413.4L1213.0 414.1L1213.5 414.5L1214.0 414.6L1214.5 414.6L1215.0 414.5L1215.5 414.4L1216.0 414.5L1216.5 414.8L1217.0 415.4L1217.5 416.1L1218.0 416.7L1218.5 417.3L1219.0 417.5L1219.5 417.6L1220.0 417.6L1220.5 417.5L1221.0 417.6L1221.5 417.9L1222.0 418.4L1222.5 419.0L1223.0 419.6L1223.5 420.1L1224.0 420.4L1224.5 420.5L1225.0 420.5L1225.5 420.5L1226.0 420.7L1226.5 421.0L1227.0 421.6L1227.5 422.1L1228.0 422.5L1228.5 422.8L1229.0 422.9L1229.5 422.8L1230.0 422.8L1230.5 422.9L1231.0 423.1L1231.5 423.5L1232.0 423.9L1232.5 424.4L1233.0 424.6L1233.5 424.7L1234.0 424.6L1234.5 424.6L1235.0 424.6L1235.5 424.9L1236.0 425.4L1236.5 425.9L1237.0 426.4L1237.5 426.6L1238.0 426.5L1238.5 426.3L1239.0 426.1L1239.5 426.3L1240.0 426.8L1240.5 427.5L1241.0 428.1L1241.5 428.4L1242.0 428.3L1242.5 428.1L1243.0 427.9L1243.5 428.1L1244.0 428.6L1244.5 429.4L1245.0 430.1L1245.5 430.4L1246.0 430.4L1246.5 430.2L1247.0 430.0L1247.5 430.1L1248.0 430.5L1248.5 431.2L1249.0 431.9L1249.5 432.4L1250.0 432.5L1250.5 432.4L1251.0 432.2L1251.5 432.2L1252.0 432.4L1252.5 432.9L1253.0 433.6L1253.5 434.2L1254.0 434.6L1254.4 434.7L1254.5 434.7L1255.0 434.6L1255.5 434.5L1256.0 434.4L1256.5 434.6L1257.0 435.2L1257.5 435.8L1258.0 436.5L1258.5 437.0L1259.0 437.1L1259.5 437.0L1260.0 436.8L1260.5 436.7L1261.0 436.8L1261.5 437.2L1262.0 437.9L1262.5 438.6L1263.0 439.2L1263.5 439.6L1264.0 439.6L1264.5 439.5L1265.0 439.2L1265.5 439.1L1266.0 439.2L1266.5 439.6L1267.0 440.3L1267.5 441.2L1267.8 441.7L1268.0 441.9L1268.5 442.4L1269.0 442.6L1269.5 442.4L1270.0 442.1L1270.5 441.7L1271.0 441.5L1271.5 441.7L1272.0 442.1L1272.5 442.9L1273.0 443.7L1273.5 444.6L1274.0 445.3L1274.5 445.7L1275.0 445.7L1275.5 445.5L1276.0 445.2L1276.5 444.8L1277.0 444.6L1277.5 444.6L1278.0 444.8L1278.5 445.3L1279.0 446.0L1279.5 446.8L1280.0 447.6L1280.5 448.3L1281.0 448.8L1281.2 449.0L1281.5 449.2L1282.0 449.3L1282.5 449.3L1283.0 449.1L1283.5 448.9L1284.0 448.8L1284.5 448.7L1285.0 448.7L1285.5 449.0L1286.0 449.3L1286.5 449.9L1287.0 450.6L1287.5 451.3L1288.0 452.1L1288.5 452.8L1289.0 453.3L1289.5 453.7L1290.0 453.8L1290.5 453.7L1291.0 453.6L1291.5 453.4L1292.0 453.4L1292.5 453.5L1293.0 453.9L1293.5 454.6L1294.0 455.3L1294.5 456.0L1294.7 456.2L1295.0 456.5L1295.5 456.7L1296.0 456.6L1296.5 456.4L1297.0 456.3L1297.5 456.2L1298.0 456.4L1298.5 456.9L1299.0 457.6L1299.5 458.2L1300.0 458.6L1300.5 458.5L1301.0 458.1L1301.5 457.7L1302.0 457.7L1302.5 458.2L1303.0 459.2L1303.5 460.1L1304.0 460.4L1304.5 460.0L1305.0 459.3L1305.5 458.9L1306.0 459.3L1306.5 460.5L1307.0 461.7L1307.5 462.0L1308.0 461.3L1308.5 460.4L1309.0 460.3L1309.5 461.3L1310.0 462.8L1310.5 463.8L1311.0 463.6L1311.5 462.7L1312.0 462.1L1312.5 462.5L1313.0 464.0L1313.5 465.4L1314.0 465.8L1314.5 465.1L1315.0 464.2L1315.5 464.0L1316.0 465.1L1316.5 466.7L1317.0 467.7L1317.5 467.5L1318.0 466.5L1318.5 465.8L1319.0 466.3L1319.5 467.8L1320.0 469.3L1320.5 469.7L1321.0 469.0L1321.5 467.9L1321.6 467.8L1322.0 467.7L1322.5 468.9L1323.0 470.6L1323.5 471.6L1324.0 471.4L1324.5 470.3L1325.0 469.6L1325.5 470.1L1326.0 471.7L1326.5 473.1L1327.0 473.5L1327.5 472.8L1328.0 471.9L1328.5 471.8L1329.0 472.8L1329.5 474.4L1330.0 475.3L1330.5 475.1L1331.0 474.3L1331.5 473.8L1332.0 474.2L1332.5 475.4L1333.0 476.6L1333.5 477.1L1334.0 476.9L1334.5 476.4L1335.0 476.1L1335.5 476.4L1336.0 477.2L1336.5 478.2L1337.0 478.8L1337.5 478.7L1338.0 478.3L1338.5 477.8L1339.0 477.8L1339.5 478.3L1340.0 479.1L1340.5 479.9L1341.0 480.4L1341.5 480.4L1342.0 480.0L1342.5 479.6L1343.0 479.5L1343.5 479.8L1344.0 480.4L1344.5 481.3L1345.0 482.0L1345.5 482.3L1346.0 482.2L1346.5 481.9L1347.0 481.5L1347.5 481.4L1348.0 481.5L1348.4 481.9L1348.5 482.1L1349.0 482.8L1349.5 483.5L1350.0 484.1L1350.5 484.4L1351.0 484.3L1351.5 484.1L1352.0 483.8L1352.5 483.5L1353.0 483.5L1353.5 483.8L1354.0 484.4L1354.5 485.0L1355.0 485.7L1355.5 486.2L1356.0 486.5L1356.5 486.4L1357.0 486.2L1357.5 485.9L1358.0 485.7L1358.5 485.9L1359.0 486.3L1359.5 486.9L1360.0 487.5L1360.5 488.1L1361.0 488.4L1361.5 488.3L1361.9 488.2L1362.0 488.1L1362.5 487.8L1363.0 487.7L1363.5 487.8L1364.0 488.2L1364.5 488.8L1365.0 489.4L1365.5 489.7L1366.0 489.8L1366.5 489.6L1367.0 489.3L1367.5 489.1L1368.0 489.2L1368.5 489.5L1369.0 490.1L1369.5 490.7L1370.0 491.1L1370.5 491.1L1371.0 490.9L1371.5 490.5L1372.0 490.4L1372.5 490.6L1373.0 491.1L1373.5 491.7L1374.0 492.2L1374.5 492.4L1375.0 492.2L1375.3 492.0L1375.5 491.9L1376.0 491.7L1376.5 491.9L1377.0 492.4L1377.5 493.0L1378.0 493.5L1378.5 493.7L1379.0 493.5L1379.5 493.3L1380.0 493.3L1380.5 493.6L1381.0 494.1L1381.5 494.6L1382.0 494.9L1382.5 494.9L1383.0 494.8L1383.5 494.8L1384.0 494.9L1384.5 495.3L1385.0 495.8L1385.5 496.1L1386.0 496.2L1386.5 496.1L1387.0 496.1L1387.5 496.2L1388.0 496.7L1388.5 497.2L1388.7 497.3L1389.0 497.7L1389.5 498.2L1390.0 498.6L1390.5 499.3L1391.0 500.0L1391.5 485.0L1392.0 470.0L1392.5 459.5L1393.0 449.1L1393.5 438.6L1394.0 428.1L1394.5 417.7L1394.8 411.4L1395.0 412.9L1395.5 417.0L1396.0 419.1L1396.5 419.3L1397.0 420.8L1397.5 424.5L1398.0 429.0L1398.5 430.3L1399.0 427.6L1399.5 424.0L1400.0 423.2L1400.5 426.2L1401.0 430.4L1401.5 432.4L1402.0 430.8L1402.5 427.6L1403.0 426.4L1403.5 428.5L1404.0 432.3L1404.5 434.7L1405.0 434.1L1405.5 431.8L1406.0 430.4L1406.5 431.4L1407.0 434.1L1407.5 436.3L1408.0 436.6L1408.5 435.0L1409.0 433.2L1409.5 432.9L1410.0 434.5L1410.5 436.7L1411.0 437.8L1411.5 437.1L1412.0 435.4L1412.5 434.5L1413.0 435.1L1413.5 437.0L1414.0 438.6L1414.5 438.9L1415.0 437.8L1415.5 436.5L1416.0 436.2L1416.5 437.3L1417.0 439.0L1417.5 440.0L1418.0 439.8L1418.5 438.8L1419.0 438.0L1419.5 438.2L1420.0 439.2L1420.5 440.4L1421.0 441.1L1421.5 440.9L1422.0 440.3L1422.5 439.6L1423.0 439.5L1423.5 440.0L1424.0 441.0L1424.5 441.8L1425.0 442.2L1425.5 442.1L1426.0 441.5L1426.5 441.1L1427.0 440.9L1427.5 441.2L1428.0 441.9L1428.5 442.6L1429.0 443.2L1429.5 443.5L1430.0 443.5L1430.5 443.1L1431.0 442.8L1431.5 442.5L1432.0 442.5L1432.5 442.8L1433.0 443.4L1433.5 444.1L1433.7 444.4L1434.0 444.8L1434.5 445.2L1435.0 445.4L1435.5 445.4L1436.0 445.1L1436.5 444.8L1437.0 444.4L1437.5 444.3L1438.0 444.3L1438.5 444.5L1439.0 444.9L1439.5 445.4L1440.0 446.0L1440.5 446.6L1441.0 447.1L1441.5 447.5L1442.0 447.7L1442.5 447.8L1443.0 447.6L1443.5 447.4L1444.0 447.1L1444.5 446.9L1445.0 446.7L1445.5 446.7L1446.0 447.0L1446.5 447.3L1447.0 447.9L1447.5 448.4L1448.0 449.0L1448.5 449.4L1449.0 449.7L1449.5 449.8L1450.0 449.7L1450.5 449.6L1451.0 449.3L1451.5 449.1L1452.0 449.0L1452.5 449.1L1453.0 449.3L1453.5 449.8L1454.0 450.4L1454.5 451.0L1455.0 451.5L1455.5 451.9L1456.0 452.0L1456.5 451.8L1457.0 451.5L1457.5 451.1L1458.0 450.8L1458.5 450.7L1459.0 450.9L1459.5 451.5L1460.0 452.2L1460.5 453.0L1460.6 453.2L1461.0 453.7L1461.5 454.0L1462.0 454.0L1462.5 453.6L1463.0 453.1L1463.5 452.6L1464.0 452.3L1464.5 452.4L1465.0 452.8L1465.5 453.5L1466.0 454.3L1466.5 455.0L1467.0 455.4L1467.5 455.5L1468.0 455.2L1468.5 454.8L1469.0 454.4L1469.5 454.1L1470.0 454.0L1470.5 454.3L1471.0 454.9L1471.5 455.6L1472.0 456.3L1472.5 456.7L1473.0 456.9L1473.5 456.8L1474.0 456.5L1474.5 456.1L1475.0 455.8L1475.5 455.6L1476.0 455.7L1476.5 456.1L1477.0 456.7L1477.5 457.4L1478.0 458.0L1478.5 458.3L1479.0 458.3L1479.5 458.0L1480.0 457.5L1480.5 456.9L1481.0 456.6L1481.5 456.6L1482.0 456.9L1482.5 457.6L1483.0 458.3L1483.5 459.1L1484.0 459.5L1484.5 459.6L1485.0 459.3L1485.5 458.8L1486.0 458.2L1486.5 457.8L1487.0 457.8L1487.5 458.2L1488.0 458.8L1488.5 459.5L1489.0 460.0L1489.5 460.2L1490.0 460.0L1490.5 459.6L1491.0 459.2L1491.5 458.9L1492.0 459.0L1492.5 459.3L1493.0 459.9L1493.5 460.3L1494.0 460.6L1494.5 460.5L1495.0 460.2L1495.5 459.9L1496.0 459.8L1496.5 459.9L1497.0 460.3L1497.5 460.8L1498.0 461.2L1498.5 461.2L1499.0 460.9L1499.5 460.5L1500.0 460.2L1500.5 460.4L1501.0 461.0L1501.5 461.6L1502.0 461.9L1502.5 461.7L1503.0 461.2L1503.5 460.7L1504.0 460.8L1504.5 461.3L1505.0 462.1L1505.5 462.6L1506.0 462.3L1506.5 461.7L1507.0 461.1L1507.5 461.2L1508.0 462.0L1508.5 462.8L1509.0 463.2L1509.5 462.9L1510.0 462.1L1510.5 461.5L1511.0 461.6L1511.5 462.5L1512.0 463.5L1512.5 463.9L1513.0 463.5L1513.5 462.6L1514.0 461.9L1514.5 462.0L1515.0 462.8L1515.5 464.0L1516.0 464.7L1516.5 464.5L1517.0 463.6L1517.5 462.8L1518.0 462.6L1518.5 463.3L1519.0 464.3L1519.5 465.1L1520.0 465.2L1520.5 464.7L1521.0 464.0L1521.5 463.7L1522.0 463.9L1522.5 464.5L1523.0 465.3L1523.5 465.7L1524.0 465.6L1524.5 465.2L1525.0 464.8L1525.5 464.8L1526.0 465.0L1526.5 465.5L1527.0 466.0L1527.5 466.2L1528.0 466.2L1528.5 466.0L1529.0 465.8L1529.5 465.8L1530.0 465.9L1530.5 466.3L1531.0 466.7L1531.5 466.9L1532.0 467.0L1532.5 466.9L1533.0 466.8L1533.5 466.7L1534.0 466.7L1534.5 466.9L1535.0 467.2L1535.5 467.6L1536.0 467.8L1536.5 467.9L1537.0 467.9L1537.5 467.8L1538.0 467.7L1538.5 467.7L1539.0 467.8L1539.5 468.0L1540.0 468.3L1540.5 468.6L1541.0 468.8L1541.5 469.1L1542.0 469.2L1542.5 469.2L1543.0 469.1L1543.5 469.0L1544.0 469.0L1544.5 469.1L1545.0 469.4L1545.5 469.8L1546.0 470.2L1546.5 470.6L1547.0 471.0L1547.5 471.3L1548.0 471.4L1548.5 471.5L1549.0 471.4L1549.5 471.3L1550.0 471.1L1550.5 471.1L1551.0 471.1L1551.5 471.3L1552.0 471.6L1552.5 472.0L1553.0 472.4L1553.5 472.9L1554.0 473.4L1554.5 473.7L1555.0 474.0L1555.5 474.1L1556.0 474.1L1556.5 474.0L1557.0 473.8L1557.5 473.6L1558.0 473.5L1558.5 473.5L1559.0 473.6L1559.5 473.9L1560.0 474.2L1560.5 474.7L1561.0 475.2L1561.5 475.7L1562.0 476.2L1562.5 476.6L1563.0 476.8L1563.5 476.9L1564.0 476.9L1564.5 476.8L1565.0 476.6L1565.5 476.3L1566.0 476.1L1566.5 476.0L1567.0 476.0L1567.5 476.2L1568.0 476.5L1568.5 477.0L1569.0 477.5L1569.5 478.2L1570.0 478.8L1570.5 479.4L1571.0 479.9L1571.5 480.2L1572.0 480.4L1572.5 480.4L1573.0 480.1L1573.5 479.8L1574.0 479.5L1574.5 479.2L1575.0 479.1L1575.5 479.2L1576.0 479.6L1576.5 480.2L1577.0 480.9L1577.5 481.6L1578.0 482.2L1578.5 482.6L1579.0 482.6L1579.5 482.5L1580.0 482.1L1580.5 481.8L1581.0 481.8L1581.5 482.0L1582.0 482.5L1582.5 483.2L1583.0 483.8L1583.5 484.2L1584.0 484.3L1584.5 484.1L1585.0 483.8L1585.5 483.6L1586.0 483.7L1586.5 484.4L1587.0 485.2L1587.5 485.9L1588.0 486.1L1588.5 485.7L1589.0 485.1L1589.5 484.9L1590.0 485.4L1590.5 486.4L1591.0 487.3L1591.5 487.6L1592.0 487.0L1592.5 486.3L1593.0 486.1L1593.5 487.0L1594.0 488.3L1594.5 489.0L1595.0 488.6L1595.5 487.7L1596.0 487.1L1596.5 487.5L1597.0 488.7L1597.5 489.8L1598.0 490.1L1598.5 489.5L1599.0 488.5L1599.5 488.0L1600.0 488.5L1600.5 489.6L1601.0 490.7L1601.5 491.3L1602.0 491.0L1602.5 490.1L1603.0 489.3L1603.5 489.1L1604.0 489.6L1604.5 490.8L1605.0 491.9L1605.5 492.6L1606.0 492.5L1606.5 491.9L1607.0 491.1L1607.5 490.5L1608.0 490.4L1608.5 490.9L1609.0 491.8L1609.5 492.8L1610.0 493.6L1610.5 494.0L1611.0 493.9L1611.5 493.5L1612.0 492.9L1612.5 492.3L1613.0 492.0L1613.5 492.1L1614.0 492.5L1614.5 493.1L1615.0 493.9L1615.5 494.7L1616.0 495.3L1616.5 495.7L1617.0 495.7L1617.5 495.6L1618.0 495.3L1618.5 494.9L1619.0 494.6L1619.5 494.4L1620.0 494.5L1620.5 494.8L1621.0 495.2L1621.5 495.7L1622.0 496.2L1622.5 496.6L1623.0 496.7L1623.5 496.7L1624.0 496.6L1624.5 496.5L1625.0 496.4L1625.5 496.3L1626.0 496.4L1626.5 496.5L1627.0 496.7L1627.5 496.8L1628.0 497.0L1628.5 497.2L1629.0 497.4L1629.5 497.5L1630.0 497.4L1630.5 497.3L1631.0 497.1L1631.5 497.0L1632.0 497.0L1632.5 497.2L1633.0 497.6L1633.5 498.1L1634.0 498.5L1634.5 498.6L1635.0 498.5L1635.5 498.3L1636.0 498.1L1636.5 497.9L1637.0 498.1L1637.5 498.5L1638.0 499.1L1638.5 499.6L1639.0 499.9L1639.5 500.1L1640.0 500.1L1640.5 500.1L1641.0 500.1L1641.5 500.3L1642.0 500.5L1642.5 500.8L1643.0 501.0L1643.5 500.8L1644.0 500.6L1644.5 500.4L1645.0 500.2L1645.5 500.0L1646.0 486.7L1646.5 473.3L1647.0 460.0L1647.5 450.4L1648.0 440.8L1648.5 431.3L1649.0 421.7L1649.4 414.0L1649.5 414.6L1650.0 417.3L1650.5 418.6L1651.0 418.4L1651.5 417.8L1652.0 418.1L1652.5 420.3L1653.0 423.7L1653.5 427.2L1654.0 429.8L1654.5 430.8L1655.0 430.2L1655.5 428.5L1656.0 426.5L1656.5 424.9L1657.0 424.4L1657.5 425.1L1658.0 426.9L1658.5 429.2L1659.0 431.2L1659.5 432.5L1660.0 432.6L1660.5 431.8L1661.0 430.4L1661.5 429.1L1662.0 428.5L1662.5 428.8L1663.0 429.9L1663.5 431.5L1664.0 433.0L1664.5 433.8L1665.0 433.9L1665.5 433.4L1666.0 432.7L1666.5 432.2L1667.0 432.3L1667.5 433.0L1668.0 433.9L1668.5 434.8L1669.0 435.3L1669.5 435.4L1670.0 435.2L1670.5 435.0L1671.0 435.0L1671.5 435.2L1672.0 435.8L1672.5 436.6L1673.0 437.2L1673.5 437.4L1674.0 437.2L1674.5 436.8L1675.0 436.7L1675.5 437.1L1676.0 438.0L1676.5 439.0L1677.0 439.4L1677.5 439.2L1678.0 438.6L1678.5 438.3L1679.0 438.7L1679.5 439.7L1680.0 440.8L1680.5 441.3L1681.0 440.8L1681.5 439.9L1682.0 439.6L1682.5 440.2L1683.0 441.6L1683.5 442.6L1684.0 442.7L1684.5 441.9L1685.0 441.0L1685.5 440.9L1686.0 441.8L1686.5 443.2L1687.0 444.2L1687.5 444.2L1688.0 443.4L1688.5 442.4L1689.0 442.1L1689.5 442.9L1690.0 444.3L1690.5 445.5L1691.0 445.9L1691.5 445.3L1692.0 444.3L1692.5 443.5L1693.0 443.7L1693.5 444.8L1693.7 445.4L1694.0 446.2L1694.5 447.3L1695.0 447.4L1695.5 446.7L1696.0 445.8L1696.5 445.1L1697.0 445.2L1697.5 446.0L1698.0 447.2L1698.5 448.2L1699.0 448.7L1699.5 448.5L1700.0 447.8L1700.5 447.1L1701.0 446.7L1701.5 446.9L1702.0 447.7L1702.5 448.7L1703.0 449.6L1703.5 450.0L1704.0 450.0L1704.5 449.6L1705.0 449.0L1705.5 448.5L1706.0 448.5L1706.5 449.0L1707.0 449.9L1707.5 450.7L1708.0 451.3L1708.5 451.4L1709.0 451.0L1709.5 450.4L1710.0 449.9L1710.5 449.9L1711.0 450.4L1711.5 451.2L1712.0 452.0L1712.5 452.3L1713.0 452.2L1713.5 451.7L1714.0 451.2L1714.5 451.1L1715.0 451.4L1715.5 452.1L1716.0 452.9L1716.5 453.3L1717.0 453.2L1717.5 452.7L1718.0 452.1L1718.5 452.0L1719.0 452.5L1719.5 453.5L1720.0 454.2L1720.5 454.4L1720.6 454.4L1721.0 453.9L1721.5 453.2L1722.0 452.9L1722.5 453.3L1723.0 454.3L1723.5 455.3L1724.0 455.6L1724.5 455.1L1725.0 454.2L1725.5 453.8L1726.0 454.3L1726.5 455.5L1727.0 456.5L1727.5 456.7L1728.0 456.0L1728.5 455.0L1729.0 454.7L1729.5 455.4L1730.0 456.7L1730.5 457.8L1731.0 457.8L1731.5 456.9L1732.0 455.8L1732.5 455.5L1733.0 456.4L1733.5 457.9L1734.0 459.0L1734.5 459.0L1735.0 457.9L1735.5 456.7L1736.0 456.3L1736.5 457.3L1737.0 458.9L1737.5 460.0L1738.0 459.9L1738.5 458.9L1739.0 457.8L1739.5 457.5L1740.0 458.2L1740.5 459.5L1741.0 460.5L1741.5 460.6L1742.0 459.9L1742.5 459.1L1743.0 458.8L1743.5 459.3L1744.0 460.1L1744.5 460.9L1745.0 461.1L1745.5 460.8L1746.0 460.4L1746.5 460.2L1747.0 460.4L1747.5 460.9L1748.0 461.4L1748.5 461.7L1749.0 461.8L1749.5 461.6L1750.0 461.5L1750.5 461.5L1751.0 461.8L1751.5 462.2L1752.0 462.6L1752.5 462.8L1753.0 462.9L1753.5 462.8L1754.0 462.7L1754.5 462.7L1755.0 462.9L1755.5 463.3L1756.0 463.6L1756.5 463.9L1757.0 464.1L1757.5 464.2L1758.0 464.1L1758.5 464.1L1759.0 464.1L1759.5 464.2L1760.0 464.4L1760.5 464.8L1761.0 465.3L1761.5 465.7L1762.0 465.9L1762.5 465.9L1763.0 465.7L1763.5 465.3L1764.0 464.9L1764.5 464.7L1765.0 464.8L1765.5 465.1L1766.0 465.8L1766.5 466.5L1767.0 467.3L1767.5 467.8L1768.0 468.1L1768.5 468.0L1769.0 467.6L1769.5 467.0L1770.0 466.3L1770.5 465.7L1771.0 465.5L1771.5 465.5L1772.0 466.0L1772.5 466.7L1773.0 467.5L1773.5 468.3L1774.0 469.0L1774.5 469.3L1775.0 469.3L1775.5 468.9L1776.0 468.4L1776.5 467.8L1777.0 467.5L1777.5 467.4L1778.0 467.6L1778.5 468.1L1779.0 468.8L1779.5 469.4L1780.0 469.7L1780.5 469.8L1781.0 469.7L1781.5 469.4L1782.0 469.1L1782.5 468.8L1783.0 468.8L1783.5 469.1L1784.0 469.6L1784.5 470.2L1785.0 470.7L1785.5 470.9L1786.0 470.7L1786.5 470.2L1787.0 469.8L1787.5 469.6L1787.8 469.6L1788.0 469.8L1788.5 470.4L1789.0 471.2L1789.5 471.9L1790.0 472.1L1790.5 471.8L1791.0 471.3L1791.5 470.8L1792.0 470.8L1792.5 471.3L1793.0 472.2L1793.5 472.9L1794.0 473.3L1794.5 473.2L1795.0 472.8L1795.5 472.3L1796.0 472.1L1796.5 472.3L1797.0 472.9L1797.5 473.6L1798.0 474.2L1798.5 474.5L1799.0 474.5L1799.5 474.2L1800.0 473.9L1800.5 473.7L1801.0 473.8L1801.5 474.1L1802.0 474.6L1802.5 475.2L1803.0 475.6L1803.5 475.9L1804.0 476.0L1804.5 475.8L1805.0 475.5L1805.5 475.3L1806.0 475.2L1806.5 475.3L1807.0 475.6L1807.5 476.2L1808.0 476.8L1808.5 477.4L1809.0 477.8L1809.5 478.0L1810.0 477.9L1810.5 477.6L1811.0 477.2L1811.5 476.9L1812.0 476.7L1812.5 476.7L1813.0 476.9L1813.5 477.4L1814.0 478.0L1814.5 478.7L1814.7 479.0L1815.0 479.4L1815.5 479.9L1816.0 480.2L1816.5 480.2L1817.0 480.0L1817.5 479.7L1818.0 479.3L1818.5 479.0L1819.0 478.8L1819.5 478.8L1820.0 479.0L1820.5 479.4L1821.0 480.0L1821.5 480.6L1822.0 481.2L1822.5 481.8L1823.0 482.2L1823.5 482.3L1824.0 482.3L1824.5 482.1L1825.0 481.8L1825.5 481.6L1826.0 481.3L1826.5 481.2L1827.0 481.3L1827.5 481.6L1828.0 482.0L1828.5 482.4L1829.0 482.9L1829.5 483.4L1830.0 483.8L1830.5 484.1L1831.0 484.2L1831.5 484.3L1832.0 484.2L1832.5 484.1L1833.0 483.9L1833.5 483.9L1834.0 483.8L1834.5 483.9L1835.0 484.1L1835.5 484.4L1836.0 484.7L1836.5 485.0L1837.0 485.4L1837.5 485.8L1838.0 486.2L1838.5 486.4L1839.0 486.5L1839.5 486.4L1840.0 486.1L1840.5 485.9L1841.0 485.7L1841.5 485.7L1841.6 485.7L1842.0 485.9L1842.5 486.3L1843.0 486.9L1843.5 487.6L1844.0 488.1L1844.5 488.2L1845.0 487.9L1845.5 487.3L1846.0 486.7L1846.5 486.3L1847.0 486.4L1847.5 487.0L1848.0 488.0L1848.5 488.8L1849.0 489.2L1849.5 489.0L1850.0 488.2L1850.5 487.4L1851.0 487.0L1851.5 487.3L1852.0 488.3L1852.5 489.3L1853.0 490.0L1853.5 489.7L1854.0 488.9L1854.5 487.9L1855.0 487.7L1855.5 488.4L1856.0 489.7L1856.5 490.7L1857.0 490.8L1857.5 490.0L1858.0 489.0L1858.5 488.8L1859.0 489.6L1859.5 490.9L1860.0 491.7L1860.5 491.6L1861.0 490.9L1861.5 490.2L1862.0 490.1L1862.5 490.8L1863.0 491.8L1863.5 492.5L1864.0 492.6L1864.5 492.1L1865.0 491.6L1865.5 491.4L1866.0 491.8L1866.5 492.5L1867.0 493.2L1867.5 493.5L1868.0 493.4L1868.5 493.1L1869.0 492.9L1869.5 492.9L1870.0 493.3L1870.5 493.9L1871.0 494.4L1871.5 494.7L1872.0 494.7L1872.5 494.4L1873.0 494.0L1873.5 494.0L1874.0 494.3L1874.5 495.0L1875.0 495.7L1875.5 496.2L1876.0 496.3L1876.5 496.0L1877.0 495.5L1877.5 495.2L1878.0 495.2L1878.5 495.7L1879.0 496.5L1879.5 497.3L1880.0 497.8L1880.5 497.9L1881.0 497.6L1881.5 497.0L1882.0 496.6L1882.5 496.4L1883.0 496.6L1883.5 497.3L1884.0 498.0L1884.5 498.7L1885.0 499.0L1885.5 498.9L1886.0 498.5L1886.5 497.9L1887.0 497.4L1887.5 497.2L1888.0 497.4L1888.5 497.9L1889.0 498.6L1889.5 499.3L1890.0 499.8L1890.5 499.9L1891.0 499.6L1891.5 499.1L1892.0 498.6L1892.5 498.3L1893.0 498.2L1893.5 498.4L1894.0 498.8L1894.5 499.4L1895.0 499.9L1895.5 500.2L1896.0 500.3L1896.5 500.2L1897.0 500.0L1897.5 499.8L1898.0 499.8L1898.5 499.9L1899.0 500.0L1899.5 492.0L1900.0 484.0L1900.5 476.0L1901.0 468.0L1901.5 460.0L1902.0 449.7L1902.5 439.4L1903.0 429.2L1903.5 418.9L1904.0 408.6L1904.5 410.6L1905.0 411.8L1905.5 412.8L1906.0 414.5L1906.5 416.8L1907.0 419.6L1907.5 421.6L1908.0 423.2L1908.5 423.9L1909.0 423.9L1909.5 423.3L1910.0 422.5L1910.5 421.8L1911.0 421.5L1911.5 421.8L1912.0 422.5L1912.5 423.4L1913.0 424.2L1913.5 425.0L1914.0 425.6L1914.5 425.8L1915.0 425.5L1915.5 425.0L1916.0 424.6L1916.5 424.5L1917.0 424.9L1917.5 425.8L1918.0 426.8L1918.5 427.8L1919.0 428.3L1919.5 428.2L1920.0 427.7L1920.5 427.1L1921.0 426.8L1921.5 427.0L1922.0 427.8L1922.5 429.0L1923.0 430.1L1923.5 430.7L1924.0 430.5L1924.5 429.8L1925.0 429.0L1925.5 428.8L1926.0 429.2L1926.5 430.4L1927.0 431.7L1927.5 432.6L1928.0 432.8L1928.5 432.4L1929.0 431.6L1929.5 431.0L1930.0 431.0L1930.5 431.9L1931.0 433.1L1931.5 434.3L1932.0 434.9L1932.5 434.7L1933.0 434.0L1933.5 433.3L1933.7 433.1L1934.0 433.0L1934.5 433.4L1935.0 434.5L1935.5 435.7L1936.0 436.5L1936.5 436.6L1937.0 436.1L1937.5 435.3L1938.0 434.9L1938.5 435.0L1939.0 435.8L1939.5 436.8L1940.0 437.7L1940.5 438.0L1941.0 437.8L1941.5 437.3L1942.0 436.8L1942.5 436.8L1943.0 437.3L1943.5 438.1L1944.0 438.9L1944.5 439.3L1945.0 439.3L1945.5 439.0L1946.0 438.7L1946.5 438.7L1947.0 439.0L1947.5 439.6L1948.0 440.2L1948.5 440.7L1949.0 440.8L1949.5 440.6L1950.0 440.5L1950.5 440.4L1951.0 440.7L1951.5 441.2L1952.0 441.8L1952.5 442.1L1953.0 442.3L1953.5 442.2L1954.0 442.1L1954.5 442.2L1955.0 442.5L1955.5 442.9L1956.0 443.4L1956.5 443.6L1957.0 443.7L1957.5 443.7L1958.0 443.7L1958.5 443.8L1959.0 444.2L1959.5 444.6L1960.0 445.1L1960.5 445.3L1960.6 445.3L1961.0 445.3L1961.5 445.2L1962.0 445.1L1962.5 445.4L1963.0 446.0L1963.5 446.5L1964.0 446.9L1964.5 446.9L1965.0 446.7L1965.5 446.5L1966.0 446.7L1966.5 447.3L1967.0 448.0L1967.5 448.4L1968.0 448.4L1968.5 448.1L1969.0 447.9L1969.5 448.0L1970.0 448.6L1970.5 449.4L1971.0 450.0L1971.5 450.0L1972.0 449.7L1972.5 449.3L1973.0 449.4L1973.5 449.9L1974.0 450.8L1974.5 451.3L1975.0 451.4L1975.5 450.9L1976.0 450.3L1976.5 450.1L1977.0 450.5L1977.5 451.2L1978.0 452.0L1978.5 452.2L1979.0 451.9L1979.5 451.2L1980.0 450.8L1980.5 451.0L1981.0 451.6L1981.5 452.3L1982.0 452.8L1982.5 452.7L1983.0 452.2L1983.5 451.8L1984.0 451.7L1984.5 452.0L1985.0 452.6L1985.5 453.1L1986.0 453.3L1986.5 453.1L1987.0 452.8L1987.4 452.6L1987.5 452.6L1988.0 452.7L1988.5 453.0L1989.0 453.5L1989.5 453.8L1990.0 453.9L1990.5 453.8L1991.0 453.5L1991.5 453.4L1992.0 453.5L1992.5 453.9L1993.0 454.4L1993.5 454.8L1994.0 454.9L1994.5 454.6L1995.0 454.2L1995.5 454.0L1996.0 454.2L1996.5 454.7L1997.0 455.4L1997.5 455.9L1998.0 455.9L1998.5 455.5L1999.0 454.9L1999.5 454.6L2000.0 454.8L2000.5 455.4L2001.0 456.3L2001.5 456.9L2002.0 456.9L2002.5 456.6L2003.0 456.1L2003.5 455.8L2004.0 456.0L2004.5 456.6L2005.0 457.3L2005.5 457.8L2006.0 458.0L2006.5 457.8L2007.0 457.5L2007.5 457.3L2008.0 457.4L2008.5 457.8L2009.0 458.3L2009.5 458.7L2010.0 459.0L2010.5 459.0L2011.0 458.9L2011.5 458.9L2012.0 458.9L2012.5 459.1L2013.0 459.4L2013.5 459.8L2014.0 460.2L2014.5 460.4L2015.0 460.4L2015.5 460.1L2016.0 459.9L2016.5 459.8L2017.0 460.0L2017.5 460.5L2018.0 461.2L2018.5 461.8L2019.0 462.1L2019.5 462.0L2020.0 461.6L2020.5 461.1L2021.0 460.7L2021.5 460.6L2022.0 461.0L2022.5 461.8L2023.0 462.8L2023.5 463.5L2024.0 463.8L2024.5 463.6L2025.0 463.2L2025.5 462.7L2026.0 462.3L2026.5 462.2L2027.0 462.4L2027.5 462.9L2027.7 463.1L2028.0 463.5L2028.5 464.1L2029.0 464.5L2029.5 464.8L2030.0 464.8L2030.5 464.7L2031.0 464.5L2031.5 464.4L2032.0 464.4L2032.5 464.5L2033.0 464.7L2033.5 465.0L2034.0 465.3L2034.5 465.5L2035.0 465.8L2035.5 466.1L2036.0 466.2L2036.5 466.4L2037.0 466.4L2037.5 466.4L2038.0 466.4L2038.5 466.4L2039.0 466.5L2039.5 466.6L2040.0 466.8L2040.5 467.1L2041.0 467.4L2041.5 467.8L2042.0 468.1L2042.5 468.4L2043.0 468.5L2043.5 468.6L2044.0 468.6L2044.5 468.5L2045.0 468.6L2045.5 468.6L2046.0 468.8L2046.5 469.1L2047.0 469.5L2047.5 470.0L2048.0 470.4L2048.5 470.7L2049.0 470.9L2049.5 471.0L2050.0 471.0L2050.5 470.9L2051.0 470.8L2051.5 470.8L2052.0 470.9L2052.5 471.2L2053.0 471.6L2053.5 472.1L2054.0 472.7L2054.5 473.1L2054.6 473.2L2055.0 473.3L2055.5 473.3L2056.0 473.1L2056.5 472.8L2057.0 472.5L2057.5 472.3L2058.0 472.3L2058.5 472.5L2059.0 472.9L2059.5 473.4L2060.0 473.9L2060.5 474.2L2061.0 474.4L2061.5 474.3L2062.0 474.0L2062.5 473.6L2063.0 473.4L2063.5 473.3L2064.0 473.5L2064.5 473.8L2065.0 474.4L2065.5 474.9L2066.0 475.2L2066.5 475.3L2067.0 475.1L2067.5 474.8L2068.0 474.4L2068.5 474.2L2069.0 474.2" stroke="#000000" stroke-dasharray="12.5 3.3 5.9 3.3"/>
<path d="M240.7 505.8L240.8 317.0" stroke="#ff0000" stroke-dasharray="3.4 2.9"/>
<path d="M242.0 405.0L242.2 321.0" stroke="#ff0000" stroke-dasharray="3.4 2.9"/>
<path d="M243.2 405.0L243.3 327.0" stroke="#ff0000" stroke-dasharray="3.4 2.9"/>
<path d="M244.6 405.0L244.8 368.0" stroke="#ff0000" stroke-dasharray="3.4 2.9"/>
<path d="M246.0 405.0L246.2 373.0" stroke="#ff0000" stroke-dasharray="3.4 2.9"/>
<path d="M247.5 405.0L247.7 381.0" stroke="#ff0000" stroke-dasharray="3.4 2.9"/>
<path d="M249.0 405.0L249.2 388.0" stroke="#ff0000" stroke-dasharray="3.4 2.9"/>
<path d="M250.5 405.0L250.7 393.0" stroke="#ff0000" stroke-dasharray="3.4 2.9"/>
<path d="M252.0 405.0L252.2 397.0" stroke="#ff0000" stroke-dasharray="3.4 2.9"/>
<path d="M252.5 401.2L253.0 401.2L253.5 401.0L254.0 401.0L254.5 401.3L254.7 401.6L255.0 402.1L255.5 403.0L256.0 403.9L256.5 404.4L257.0 404.5L257.5 404.3L258.0 404.1L258.5 404.1L259.0 404.5L259.5 405.2L260.0 406.1L260.5 406.8L261.0 407.2L261.5 407.1L262.0 407.0L262.5 407.0L263.0 407.3L263.5 408.0L264.0 408.8L264.5 409.4L265.0 409.6L265.5 409.5L266.0 409.4L266.5 409.6L267.0 410.3L267.5 411.2L268.0 411.8L268.5 411.9L269.0 411.7L269.5 411.6L270.0 412.0L270.5 412.9L271.0 413.8L271.5 414.1L272.0 413.9L272.5 413.6L272.8 413.7L273.0 413.9L273.5 414.9L274.0 415.9L274.5 416.2L275.0 415.8L275.5 415.5L276.0 416.0L276.5 417.2L277.0 418.2L277.5 418.3L278.0 417.7L278.5 417.5L279.0 418.1L279.5 419.4L280.0 420.4L280.5 420.4L281.0 419.7L281.5 419.4L282.0 420.2L282.5 421.6L283.0 422.6L283.5 422.6L284.0 421.8L284.5 421.4L285.0 422.1L285.5 423.6L286.0 424.8L286.5 424.8L287.0 424.1L287.5 423.6L288.0 424.0L288.5 425.4L289.0 426.6L289.5 427.0L290.0 426.4L290.5 425.8L291.0 425.9L291.5 427.0L292.0 428.3L292.5 429.0L293.0 428.8L293.5 428.2L294.0 427.9L294.5 428.5L295.0 429.8L295.5 430.8L296.0 431.1L296.5 430.6L297.0 430.1L297.5 430.3L298.0 431.2L298.5 432.4L299.0 433.2L299.5 433.1L300.0 432.5L300.5 432.2L301.0 432.8L301.5 434.0L302.0 435.1L302.5 435.3L303.0 434.8L303.5 434.2L304.0 434.4L304.5 435.4L305.0 436.6L305.5 437.0L306.0 436.5L306.5 435.8L307.0 435.8L307.5 436.8L308.0 438.0L308.5 438.5L309.0 438.1L309.5 437.4L310.0 437.5L310.5 438.3L311.0 439.4L311.5 439.8L312.0 439.5L312.5 439.0L313.0 439.2L313.5 440.0L314.0 440.8L314.5 441.0L315.0 440.8L315.5 440.6L316.0 440.9L316.5 441.6L317.0 442.1L317.5 442.3L318.0 442.2L318.2 442.2L318.5 441.8L319.0 441.4L319.5 441.2L320.0 440.9L320.5 440.2L321.0 435.1L321.5 430.2L322.0 425.6L322.5 420.9L322.7 419.0L323.0 419.3L323.5 419.7L324.0 419.4L324.5 418.7L325.0 418.6L325.5 420.5L326.0 422.7L326.5 424.1L327.0 424.1L327.5 423.2L328.0 422.6L328.5 423.3L329.0 425.4L329.5 428.0L330.0 429.8L330.5 430.3L331.0 429.6L331.5 428.7L331.8 428.5L332.0 428.4L332.5 429.1L333.0 430.7L333.5 432.7L334.0 434.4L334.5 435.2L335.0 435.0L335.5 434.4L336.0 433.7L336.5 433.5L337.0 434.0L337.5 435.1L338.0 436.6L338.5 438.1L339.0 439.4L339.5 440.1L340.0 440.4L340.5 440.2L341.0 439.9L341.5 439.4L342.0 439.1L342.5 439.2L343.0 439.7L343.5 440.6L344.0 441.6L344.5 442.6L345.0 443.3L345.5 443.7L346.0 443.7L346.5 443.5L347.0 443.1L347.5 442.7L348.0 442.5L348.5 442.6L349.0 443.1L349.5 443.7L350.0 444.5L350.5 445.3L351.0 446.0L351.5 446.4L352.0 446.6L352.5 446.5L353.0 446.3L353.5 446.2L354.0 446.1L354.5 446.2L355.0 446.5L355.5 447.0L356.0 447.5L356.5 448.0L357.0 448.4L357.5 448.7L358.0 449.0L358.5 449.1L359.0 449.1L359.5 449.1L360.0 449.2L360.5 449.2L361.0 449.4L361.5 449.6L362.0 449.9L362.5 450.2L363.0 450.5L363.5 450.9L364.0 451.2L364.5 451.4L365.0 451.5L365.5 451.6L366.0 451.6L366.5 451.7L367.0 451.7L367.5 452.0L368.0 452.3L368.5 452.7L369.0 453.2L369.5 453.5L370.0 453.7L370.5 453.7L371.0 453.6L371.5 453.5L372.0 453.6L372.5 453.9L373.0 454.5L373.5 455.0L374.0 455.3L374.5 455.3L375.0 455.1L375.5 454.9L376.0 454.9L376.5 455.4L377.0 456.1L377.5 456.7L378.0 456.9L378.5 456.6L379.0 456.2L379.5 456.1L380.0 456.6L380.5 457.5L381.0 458.1L381.5 458.1L382.0 457.6L382.5 457.2L383.0 457.5L383.5 458.4L384.0 459.3L384.5 459.4L385.0 458.9L385.5 458.3L386.0 458.6L386.5 459.4L387.0 460.3L387.5 460.6L388.0 460.3L388.5 459.8L389.0 459.6L389.5 460.1L390.0 461.0L390.5 461.7L391.0 461.9L391.5 461.6L392.0 461.2L392.5 461.1L393.0 461.4L393.5 462.0L394.0 462.7L394.5 463.2L395.0 463.3L395.5 463.1L396.0 462.8L396.5 462.7L397.0 462.9L397.5 463.3L398.0 463.9L398.5 464.5L399.0 464.9L399.5 465.0L400.0 465.0L400.5 464.8L401.0 464.6L401.5 464.5L402.0 464.6L402.5 464.9L403.0 465.4L403.5 465.9L404.0 466.3L404.5 466.7L405.0 466.9L405.5 466.9L406.0 466.9L406.5 466.7L407.0 466.5L407.5 466.4L408.0 466.3L408.5 466.4L409.0 466.5L409.5 466.9L410.0 467.3L410.5 467.8L411.0 468.3L411.5 468.7L412.0 469.0L412.5 469.1L413.0 469.1L413.5 469.0L414.0 468.8L414.5 468.5L415.0 468.4L415.5 468.3L416.0 468.4L416.5 468.6L417.0 469.0L417.5 469.5L418.0 470.1L418.5 470.5L419.0 470.9L419.5 471.2L420.0 471.3L420.5 471.2L421.0 471.0L421.5 470.8L422.0 470.6L422.5 470.6L423.0 470.8L423.5 471.1L424.0 471.6L424.5 472.1L425.0 472.8L425.5 473.5L426.0 474.1L426.5 474.6L427.0 474.9L427.5 475.1L428.0 475.2L428.5 475.2L429.0 475.2L429.5 475.2L430.0 475.3L430.5 475.6L431.0 476.0L431.5 476.5L432.0 477.1L432.5 477.7L433.0 479.3L433.5 480.8L434.0 482.2L434.5 483.6L435.0 485.0L435.5 490.9L436.0 496.8L436.5 502.6L436.7 505.0L437.0 501.7L437.5 496.1L438.0 490.6L438.5 485.0L439.0 480.4L439.5 475.8L440.0 471.2L440.5 466.6L441.0 462.0L441.5 461.7L442.0 461.4L442.5 461.1L443.0 460.8L443.5 461.0L444.0 461.2L444.5 461.4L445.0 461.4L445.5 461.2L446.0 461.0L446.5 460.9L447.0 461.2L447.5 461.9L448.0 462.9L448.5 463.5L449.0 463.4L449.5 462.7L450.0 461.8L450.5 461.5L451.0 462.0L451.5 463.1L452.0 464.4L452.5 465.2L453.0 465.2L453.5 464.5L454.0 463.6L454.5 463.0L455.0 463.2L455.5 464.0L456.0 465.2L456.5 466.3L457.0 466.9L457.5 466.8L458.0 466.2L458.5 465.4L459.0 464.8L459.5 464.7L460.0 465.3L460.5 466.3L461.0 467.5L461.5 468.4L462.0 468.8L462.5 468.7L463.0 468.2L463.5 467.5L464.0 466.9L464.5 466.6L465.0 466.8L465.5 467.4L466.0 468.3L466.5 469.3L467.0 470.1L467.5 470.5L468.0 470.6L468.5 470.2L469.0 469.6L469.5 468.9L470.0 468.4L470.5 468.1L471.0 468.1L471.5 468.5L472.0 469.2L472.5 470.0L473.0 470.9L473.5 471.6L474.0 472.1L474.5 472.2L475.0 472.0L475.5 471.6L476.0 471.1L476.5 470.6L477.0 470.4L477.5 470.4L478.0 470.6L478.5 471.1L479.0 471.7L479.5 472.3L480.0 472.7L480.5 473.0L481.0 473.0L481.5 472.9L482.0 472.7L482.5 472.6L483.0 472.6L483.5 472.7L484.0 472.8L484.5 473.0L485.0 473.4L485.5 473.8L486.0 474.2L486.5 474.4L487.0 474.3L487.5 474.0L488.0 473.5L488.5 473.1L489.0 472.9L489.5 473.1L490.0 473.7L490.5 474.5L491.0 475.3L491.5 475.7L492.0 475.6L492.5 475.0L493.0 474.2L493.5 473.4L494.0 473.1L494.5 473.5L495.0 474.5L495.5 475.7L496.0 476.5L496.5 476.6L497.0 476.1L497.5 475.2L498.0 474.3L498.5 474.0L499.0 474.3L499.5 475.1L500.0 476.1L500.5 476.9L501.0 477.0L501.5 476.5L502.0 475.7L502.5 475.1L503.0 474.9L503.5 475.4L504.0 476.2L504.5 477.0L505.0 477.4L505.5 477.2L506.0 476.6L506.5 476.0L507.0 475.8L507.5 476.1L508.0 476.9L508.5 477.8L509.0 478.2L509.5 478.1L510.0 477.5L510.5 476.9L511.0 476.8L511.5 477.2L512.0 478.1L512.5 478.9L513.0 479.2L513.5 478.8L514.0 478.1L514.5 477.7L515.0 477.9L515.5 478.7L516.0 479.6L516.5 480.1L517.0 479.9L517.5 479.2L518.0 478.5L518.5 478.5L519.0 479.2L519.5 480.3L520.0 481.2L520.5 481.2L521.0 480.5L521.5 479.5L522.0 479.0L522.5 479.5L523.0 480.7L523.5 481.9L524.0 482.6L524.5 482.2L525.0 481.1L525.5 480.0L526.0 479.7L526.5 480.4L527.0 481.9L527.5 483.3L528.0 483.7L528.5 483.1L529.0 481.9L529.5 480.9L530.0 480.6L530.5 481.2L531.0 482.3L531.5 483.3L532.0 483.8L532.5 483.5L533.0 482.8L533.5 482.1L534.0 481.8L534.5 482.0L535.0 482.6L535.5 483.3L536.0 483.8L536.5 483.9L537.0 483.7L537.5 483.3L538.0 483.1L538.5 483.0L539.0 483.1L539.5 483.5L540.0 483.9L540.5 484.4L541.0 484.6L541.5 484.5L542.0 484.2L542.5 483.8L543.0 483.4L543.5 483.4L544.0 483.7L544.5 484.3L545.0 485.0L545.5 485.5L546.0 485.8L546.5 485.7L547.0 485.2L547.5 484.6L548.0 484.1L548.5 483.7L549.0 483.8L549.5 484.2L550.0 484.9L550.5 485.7L551.0 486.2L551.5 486.4L552.0 486.3L552.5 485.9L553.0 485.4L553.5 484.9L554.0 484.5L554.5 484.3L555.0 484.4L555.5 484.7L556.0 485.1L556.5 485.5L557.0 485.8L557.5 486.1L558.0 486.2L558.5 486.1L559.0 486.0L559.5 485.8L560.0 485.6L560.5 485.4L561.0 485.2L561.5 485.1L562.0 485.0L562.5 485.1L563.0 485.3L563.5 485.5L564.0 485.9L564.5 486.3L565.0 486.6L565.5 486.8L566.0 486.8L566.5 486.7L567.0 486.3L567.5 485.9L568.0 485.4L568.5 484.9L569.0 484.7L569.5 484.7L570.0 485.0L570.5 485.5L571.0 486.2L571.5 487.0L572.0 487.4L572.5 487.6L573.0 487.5L573.5 487.1L574.0 486.5L574.5 486.0L575.0 485.5L575.5 485.3L576.0 485.3L576.5 485.6L577.0 486.0L577.5 486.4L578.0 486.8L578.5 487.1L579.0 487.2L579.5 487.1L580.0 486.8L580.5 486.6L581.0 486.4L581.5 486.3L582.0 486.3L582.5 486.4L583.0 486.5L583.5 486.6L584.0 486.9L584.5 487.1L585.0 487.2L585.5 487.2L586.0 487.1L586.5 486.8L587.0 486.5L587.5 486.3L588.0 486.2L588.5 486.4L589.0 486.7L589.5 487.2L590.0 487.6L590.5 487.9L591.0 487.8L591.5 487.5L592.0 487.0L592.5 486.4L593.0 486.0L593.5 486.0L594.0 486.5L594.5 487.1L595.0 487.7L595.5 488.1L596.0 488.1L596.5 487.7L597.0 487.1L597.5 486.6L598.0 486.4L598.5 486.5L599.0 486.8L599.5 487.4L600.0 487.8L600.5 488.0L601.0 487.8L601.5 487.4L602.0 487.0L602.5 486.8L603.0 486.8L603.5 487.0L604.0 487.4L604.5 487.7L605.0 487.9L605.5 487.8L606.0 487.5L606.5 487.2L607.0 486.9L607.5 486.9L608.0 487.1L608.5 487.4L609.0 487.8L609.5 488.0L610.0 488.1L610.5 487.9L611.0 487.5L611.5 487.2L612.0 487.1L612.5 487.1L613.0 487.4L613.5 487.9L614.0 488.4L614.5 488.9L615.0 489.1L615.5 489.1L616.0 488.9L616.5 488.5L617.0 488.3L617.5 488.2L618.0 488.2L618.5 488.5L619.0 488.9L619.5 489.3L620.0 489.7L620.5 490.0L621.0 490.2L621.5 490.2L622.0 490.1L622.5 489.9L623.0 489.8L623.5 489.7L624.0 489.7L624.5 489.8L625.0 490.0L625.5 490.3L626.0 490.6L626.5 490.8L627.0 491.1L627.5 491.3L628.0 491.4L628.5 491.6L629.0 491.7L629.5 491.5L630.0 491.2L630.5 490.8L631.0 490.5L631.5 490.3L632.0 490.5L632.5 491.0L633.0 491.8L633.5 492.7L634.0 493.5L634.5 494.0L635.0 494.1L635.5 493.6L636.0 492.7L636.5 491.6L637.0 490.5L637.5 489.7L638.0 489.4L638.5 489.8L639.0 490.9L639.5 492.4L640.0 493.9L640.5 495.0L641.0 495.3L641.5 494.7L642.0 493.2L642.5 491.2L643.0 489.3L643.5 488.1L644.0 488.0L644.5 489.3L645.0 491.5L645.5 494.0L646.0 496.0L646.5 496.8L647.0 496.0L647.5 493.8L648.0 490.8L648.5 488.0L649.0 486.6L649.5 487.2L650.0 489.6L650.5 493.0L651.0 496.1L651.5 497.6L652.0 496.6L652.5 493.6L653.0 489.7L653.5 486.9L654.0 486.5L654.5 488.8L655.0 492.9L655.5 496.4L656.0 497.3L656.5 495.3L657.0 492.0L657.5 489.4L658.0 489.0L658.5 490.8L659.0 493.3L659.5 495.0L660.0 494.9L660.5 493.8L661.0 492.1L661.5 491.1L662.0 491.4L662.5 493.0L663.0 494.6L663.5 494.9L664.0 493.7L664.5 491.9L665.0 491.1L665.5 491.9L666.0 493.7L666.5 494.9L667.0 494.4L667.5 492.6L668.0 491.2L668.5 491.6L669.0 493.3L669.5 494.8L670.0 494.4L670.5 492.5L671.0 491.3L671.5 491.8L672.0 493.5L672.5 494.6L673.0 494.2L673.5 492.7L674.0 491.5L674.5 491.8L675.0 493.1L675.5 494.3L676.0 494.4L676.5 493.4L677.0 492.3L677.5 491.9L678.0 492.5L678.5 493.6L679.0 494.4L679.5 494.3L680.0 493.5L680.5 492.7L681.0 492.3L681.5 492.6L682.0 493.4L682.5 494.2L683.0 494.5L683.5 494.2L684.0 493.4L684.5 492.7L685.0 492.4L685.5 492.7L686.0 493.4L686.5 494.3L687.0 494.8L687.5 494.7L688.0 494.2L688.5 493.4L689.0 492.7L689.5 492.5L690.0 492.7L690.5 493.4L691.0 494.2L691.5 494.9L692.0 495.2L692.5 495.1L693.0 494.5L693.5 493.8L694.0 493.1L694.5 492.6L695.0 492.7L695.5 493.1L696.0 493.9L696.5 494.7L697.0 495.3L697.5 495.6L698.0 495.3L698.5 494.7L699.0 493.9L699.5 493.2L700.0 492.9L700.5 493.0L701.0 493.6L701.5 494.4L702.0 495.2L702.5 495.8L703.0 495.9L703.5 495.5L704.0 494.8L704.5 494.1L705.0 493.5L705.5 493.2L706.0 493.5L706.5 494.1L707.0 494.8L707.5 495.5L708.0 495.9L708.5 496.0L709.0 495.6L709.5 495.0L710.0 494.4L710.5 493.9L711.0 493.8L711.5 494.0L712.0 494.5L712.5 495.2L713.0 495.7L713.5 496.0L714.0 496.0L714.5 495.7L715.0 495.2L715.5 494.7L716.0 494.3L716.5 494.2L717.0 494.4L717.5 495.0L718.0 495.6L718.5 496.2L719.0 496.5L719.5 496.4L720.0 496.0L720.5 495.3L721.0 494.7L721.5 494.4L722.0 494.4L722.5 494.9L723.0 495.6L723.5 496.4L724.0 496.9L724.5 496.9L725.0 496.5L725.5 495.8L726.0 495.0L726.5 494.4L727.0 494.4L727.5 495.0L728.0 495.9L728.5 496.9L729.0 497.6L729.5 497.6L730.0 496.9L730.5 495.8L731.0 494.8L731.5 494.2L732.0 494.3L732.5 495.3L733.0 496.7L733.5 497.9L734.0 498.4L734.5 498.0L735.0 496.8L735.5 495.3L736.0 494.1L736.5 494.0L737.0 494.9L737.5 496.5L738.0 498.0L738.5 498.7L739.0 498.3L739.5 497.1L740.0 495.5L740.5 494.6L741.0 494.7L741.5 495.7L742.0 497.2L742.5 498.3L743.0 498.4L743.5 497.5L744.0 496.2L744.5 495.2L745.0 495.1L745.5 496.0L746.0 497.3L746.5 498.1L747.0 498.1L747.5 497.2L748.0 496.1L748.5 495.5L749.0 495.8L749.5 496.8L750.0 497.9L750.5 498.2L751.0 497.6L751.5 496.5L752.0 495.7L752.5 495.9L753.0 496.9L753.5 498.0L754.0 498.3L754.5 497.6L755.0 496.5L755.5 495.9L756.0 496.3L756.5 497.4L757.0 498.3L757.5 498.2L758.0 497.2L758.5 496.2L759.0 496.1L759.5 497.1L760.0 498.2L760.5 498.6L761.0 497.8L761.5 496.6L762.0 495.9L762.5 496.5L763.0 497.8L763.5 498.8L764.0 498.7L764.5 497.6L765.0 496.3L765.5 495.9L766.0 496.7L766.5 498.2L767.0 499.2L767.5 499.0L768.0 497.6L768.5 496.2L769.0 495.8L769.5 496.7L770.0 498.3L770.5 499.5L771.0 499.4L771.5 498.2L772.0 496.6L772.5 495.8L773.0 496.2L773.5 497.7L774.0 499.3L774.5 499.9L775.0 499.2L775.5 497.7L776.0 496.3L776.5 495.8L777.0 496.6L777.5 498.2L778.0 499.6L778.5 500.1L779.0 499.4L779.5 497.9L780.0 496.4L780.5 495.9L781.0 496.6L781.5 498.0L782.0 499.3L782.5 499.9L783.0 499.6L783.5 498.6L784.0 497.6L784.5 496.9L785.0 497.0L785.5 497.7L786.0 498.5L786.5 499.2L787.0 499.4L787.5 499.1L788.0 498.6L788.5 498.1L789.0 497.8L789.5 497.9L790.0 498.2L790.5 498.6L791.0 498.8L791.5 498.9L792.0 498.9L792.5 498.8L793.0 498.6L793.5 498.4L794.0 498.3L794.5 498.4L795.0 498.6L795.5 498.9L796.0 499.2L796.5 499.3L797.0 499.3L797.5 499.1L798.0 498.8L798.5 498.5L799.0 498.4L799.5 498.5L800.0 498.7L800.5 499.1L801.0 499.5L801.5 499.7L802.0 499.7L802.5 499.6L803.0 499.3L803.5 498.9L804.0 498.6L804.5 498.6L805.0 498.7L805.5 499.1L806.0 499.6L806.5 500.0L807.0 500.3L807.5 500.3L808.0 500.0L808.5 499.5L809.0 499.1L809.5 498.8L810.0 498.8L810.5 499.1L811.0 499.6L811.5 500.2L812.0 500.6L812.5 501.3L813.0 501.7L813.5 501.9L814.0 502.2L814.5 502.8L815.0 503.5L815.5 504.2L816.0 505.0L816.5 503.2L817.0 501.4L817.5 499.5L818.0 497.7L818.5 492.3L819.0 487.0L819.5 481.6L820.0 476.2L820.5 470.9L821.0 465.5L821.5 460.1L822.0 454.7L822.5 449.4L823.0 444.0L823.5 438.6L824.0 433.3L824.5 427.9L825.0 422.5L825.5 417.2L826.0 411.8L826.5 406.5L827.0 401.1L827.5 395.7L828.0 390.4L828.5 385.0L829.0 383.7L829.5 382.4L830.0 381.1L830.5 379.8L830.6 379.5L831.0 380.7L831.5 382.3L832.0 383.8L832.5 384.9L833.0 385.7L833.5 386.0L834.0 386.7L834.5 387.8L835.0 388.9L835.5 389.6L836.0 390.2L836.5 390.4L837.0 390.6L837.5 391.1L838.0 392.2L838.5 393.6L839.0 394.6L839.5 394.9L840.0 394.6L840.5 394.6L840.8 395.0L841.0 395.3L841.5 396.7L842.0 398.0L842.5 398.2L843.0 397.4L843.5 396.7L844.0 397.1L844.5 398.8L845.0 400.3L845.5 400.5L846.0 399.4L846.5 398.5L847.0 399.4L847.5 401.2L848.0 402.5L848.5 402.4L849.0 401.4L849.5 400.8L850.0 401.6L850.5 403.2L851.0 404.4L851.5 404.6L852.0 404.0L852.5 403.4L853.0 403.6L853.5 404.6L854.0 406.0L854.5 406.9L855.0 407.0L855.5 406.6L856.0 406.2L856.5 406.4L857.0 407.2L857.5 408.4L858.0 409.5L858.5 410.1L859.0 410.0L859.5 409.6L860.0 409.3L860.5 409.4L861.0 410.1L861.5 411.2L862.0 412.5L862.5 413.4L863.0 413.9L863.5 413.8L864.0 413.4L864.5 412.9L865.0 412.8L865.5 413.2L866.0 414.0L866.5 415.2L867.0 416.4L867.5 417.4L868.0 418.1L868.5 418.4L869.0 418.3L869.5 417.9L870.0 417.5L870.5 417.3L871.0 417.4L871.5 417.9L872.0 418.7L872.5 419.8L873.0 420.9L873.5 421.8L874.0 422.5L874.5 422.8L875.0 422.7L875.5 422.5L876.0 422.3L876.5 422.2L877.0 422.3L877.5 422.8L878.0 423.5L878.5 424.5L879.0 425.4L879.5 426.1L880.0 426.6L880.5 426.9L881.0 426.8L881.5 426.5L882.0 426.1L882.5 425.8L883.0 425.7L883.5 426.2L884.0 427.0L884.5 428.1L885.0 429.3L885.5 430.2L886.0 430.8L886.5 430.7L887.0 430.2L887.5 429.4L888.0 428.6L888.5 428.2L889.0 428.4L889.5 429.2L890.0 430.6L890.5 432.2L891.0 433.6L891.5 434.3L891.6 434.4L892.0 434.3L892.5 433.5L893.0 432.5L893.5 431.5L894.0 431.0L894.5 431.4L895.0 432.5L895.5 434.0L896.0 435.4L896.5 436.3L897.0 436.4L897.5 435.8L898.0 434.8L898.5 434.0L899.0 433.8L899.5 434.4L900.0 435.7L900.5 437.1L901.0 438.1L901.5 438.3L902.0 437.8L902.5 436.9L903.0 436.3L903.5 436.4L904.0 437.2L904.5 438.4L905.0 439.5L905.5 439.9L906.0 439.6L906.5 439.0L907.0 438.5L907.5 438.6L908.0 439.3L908.5 440.3L909.0 441.1L909.5 441.3L910.0 441.0L910.5 440.6L911.0 440.5L911.5 441.0L912.0 441.7L912.5 442.4L913.0 442.8L913.5 442.7L914.0 442.3L914.5 442.1L915.0 442.4L915.5 443.2L916.0 444.1L916.5 444.7L917.0 444.6L917.5 444.1L918.0 443.6L918.5 443.6L919.0 444.2L919.5 445.3L920.0 446.2L920.5 446.5L921.0 446.1L921.5 445.4L922.0 444.8L922.5 444.9L923.0 445.7L923.5 447.0L924.0 448.0L924.5 448.3L925.0 447.8L925.5 447.0L926.0 446.4L926.5 446.4L927.0 447.1L927.5 448.2L928.0 449.3L928.5 449.8L929.0 449.7L929.5 449.2L929.7 448.9L930.0 448.5L930.5 448.1L931.0 448.3L931.5 449.0L932.0 449.9L932.5 450.7L933.0 451.2L933.5 451.1L934.0 450.7L934.5 450.1L935.0 449.8L935.5 449.8L936.0 450.3L936.5 451.0L937.0 451.8L937.5 452.3L938.0 452.4L938.5 452.2L939.0 451.9L939.5 451.6L940.0 451.6L940.5 451.8L941.0 452.3L941.5 452.9L942.0 453.3L942.4 453.5L942.5 453.6L943.0 453.6L943.5 453.5L944.0 453.4L944.5 453.5L945.0 453.7L945.5 454.1L946.0 454.5L946.5 454.9L947.0 455.2L947.5 455.3L948.0 455.3L948.5 455.2L949.0 455.3L949.5 455.5L950.0 455.8L950.5 456.3L951.0 456.7L951.5 457.0L952.0 457.1L952.5 457.0L953.0 457.0L953.5 457.0L954.0 457.2L954.5 457.6L955.0 458.2L955.5 458.5L956.0 458.7L956.5 458.7L957.0 458.4L957.5 458.1L958.0 458.0L958.5 458.2L959.0 458.8L959.5 459.6L960.0 460.1L960.5 460.2L961.0 459.7L961.5 459.0L962.0 458.5L962.5 458.5L963.0 459.3L963.5 460.5L964.0 461.5L964.5 461.7L965.0 461.1L965.5 459.9L966.0 458.9L966.5 458.9L967.0 460.0L967.5 461.7L967.8 462.5L968.0 462.9L968.5 463.0L969.0 462.0L969.5 460.6L970.0 459.9L970.5 460.2L971.0 461.6L971.5 463.1L972.0 463.9L972.5 463.6L973.0 462.5L973.5 461.5L974.0 461.3L974.5 462.1L975.0 463.4L975.5 464.5L976.0 464.7L976.5 464.0L977.0 463.0L977.5 462.5L978.0 463.0L978.5 464.2L979.0 465.2L979.5 465.6L980.0 465.1L980.5 464.4L981.0 463.8L981.5 463.9L982.0 464.6L982.5 465.5L983.0 466.1L983.5 466.2L984.0 465.7L984.5 465.1L985.0 464.7L985.5 464.7L986.0 465.2L986.5 465.9L987.0 466.5L987.5 466.8L988.0 466.7L988.5 466.3L989.0 465.9L989.5 465.7L990.0 465.7L990.5 466.0L991.0 466.5L991.5 467.1L992.0 467.6L992.5 467.8L993.0 467.7L993.3 467.5L993.5 467.3L994.0 466.8L994.5 466.3L995.0 466.1L995.5 466.2L996.0 466.6L996.5 467.3L997.0 468.1L997.5 468.7L998.0 469.1L998.5 469.2L999.0 469.0L999.5 468.5L1000.0 467.9L1000.5 467.2L1001.0 466.8L1001.5 466.6L1002.0 466.7L1002.5 467.1L1003.0 467.8L1003.4 468.4L1003.5 468.6L1004.0 469.2L1004.5 469.3L1005.0 469.2L1005.5 468.9" stroke="#ff0000" stroke-dasharray="3.4 2.9"/>
<path d="M1006.4 469.6L1006.4 180.0L1006.8 180.0L1007.4 491.0L1010.0 470.0L1010.0 470.0L1010.5 467.3L1011.0 464.0L1011.5 460.5L1012.0 457.7L1012.5 455.9L1012.7 455.5L1013.0 456.6L1013.5 458.3L1014.0 458.9L1014.5 458.3L1015.0 456.7L1015.5 455.0L1016.0 453.9L1016.5 454.1L1017.0 455.4L1017.5 457.3L1018.0 458.7L1018.5 458.8L1019.0 457.6L1019.5 455.9L1020.0 454.8L1020.5 454.9L1021.0 456.2L1021.5 457.9L1022.0 459.0L1022.5 458.6L1023.0 457.0L1023.5 455.3L1024.0 454.9L1024.5 456.3L1025.0 458.5L1025.5 459.7L1026.0 459.0L1026.5 456.7L1027.0 454.9L1027.5 455.3L1027.8 456.6L1028.0 457.7L1028.5 460.0L1029.0 459.9L1029.5 457.5L1030.0 455.0L1030.5 455.0L1031.0 457.6L1031.5 460.2L1032.0 460.0L1032.5 457.0L1033.0 454.5L1033.5 455.1L1034.0 458.3L1034.5 460.9L1035.0 459.9L1035.5 456.4L1036.0 453.9L1036.5 455.1L1037.0 458.9L1037.5 461.4L1038.0 460.0L1038.5 456.0L1039.0 453.4L1039.5 454.8L1040.0 459.1L1040.5 461.9L1041.0 460.4L1041.5 456.0L1042.0 452.9L1042.5 454.2L1043.0 458.7L1043.5 462.3L1044.0 461.5L1044.5 457.5L1045.0 454.4L1045.5 455.1L1046.0 459.1L1046.5 462.9L1047.0 463.3L1047.5 460.3L1048.0 456.9L1048.5 456.4L1049.0 459.3L1049.5 463.1L1050.0 464.7L1050.5 463.1L1051.0 460.0L1051.5 458.3L1052.0 459.6L1052.5 462.9L1053.0 465.5L1053.5 465.5L1054.0 463.3L1054.5 460.9L1055.0 460.5L1055.5 462.7L1056.0 465.7L1056.5 467.3L1057.0 466.2L1057.5 463.6L1058.0 462.1L1058.5 463.0L1059.0 465.9L1059.5 468.2L1060.0 468.0L1060.5 465.7L1061.0 463.5L1061.5 463.5L1062.0 466.0L1062.5 468.6L1063.0 469.1L1063.5 467.2L1064.0 464.8L1064.5 464.4L1065.0 466.5L1065.5 469.1L1066.0 469.8L1066.5 468.2L1067.0 466.2L1067.5 465.9L1068.0 467.6L1068.5 469.5L1069.0 470.0L1069.5 468.9L1070.0 467.5L1070.5 467.5L1071.0 468.8L1071.5 470.1L1072.0 470.3L1072.5 469.5L1073.0 468.8L1073.5 469.0L1074.0 470.0L1074.5 470.7L1075.0 470.7L1075.5 470.2L1076.0 470.0L1076.5 470.3L1077.0 471.0L1077.5 471.7L1078.0 471.5L1078.5 470.8L1079.0 470.4L1079.5 470.9L1080.0 472.1L1080.5 473.0L1081.0 472.9L1081.5 471.8L1082.0 470.9L1082.5 471.0L1083.0 472.3L1083.5 473.9L1084.0 474.7L1084.5 474.1L1085.0 472.6L1085.5 471.3L1086.0 471.4L1086.5 472.9L1087.0 474.8L1087.5 476.1L1088.0 476.0L1088.5 474.7L1089.0 473.2L1089.5 472.4L1090.0 472.6L1090.5 473.9L1091.0 475.6L1091.5 476.8L1092.0 477.2L1092.5 476.7L1093.0 475.7L1093.5 474.7L1094.0 474.1L1094.5 474.2L1095.0 474.9L1095.5 476.0L1096.0 477.2L1096.5 478.1L1097.0 478.4L1097.5 478.3L1098.0 477.8L1098.5 477.1L1099.0 476.5L1099.5 476.0L1100.0 476.0L1100.5 476.4L1101.0 477.2L1101.5 478.2L1102.0 479.1L1102.5 479.8L1103.0 480.2L1103.5 480.1L1104.0 479.6L1104.5 478.9L1105.0 478.2L1105.5 477.7L1106.0 477.6L1106.5 477.9L1107.0 478.5L1107.5 479.4L1108.0 480.3L1108.5 481.0L1109.0 481.4L1109.5 481.4L1110.0 481.0L1110.5 480.4L1111.0 479.8L1111.5 479.3L1112.0 479.1L1112.5 479.3L1113.0 479.7L1113.5 480.3L1114.0 480.9L1114.5 481.5L1115.0 481.9L1115.5 482.0L1116.0 482.0L1116.5 481.8L1117.0 481.5L1117.5 481.2L1118.0 481.1L1118.5 481.1L1118.6 481.1L1119.0 481.2L1119.5 481.5L1120.0 481.8L1120.5 482.2L1121.0 482.5L1121.5 482.9L1122.0 483.0L1122.5 483.1L1123.0 482.9L1123.5 482.7L1124.0 482.4L1124.5 482.3L1125.0 482.4L1125.5 482.8L1126.0 483.4L1126.5 484.0L1127.0 484.4L1127.5 484.4L1128.0 484.1L1128.5 483.6L1129.0 483.2L1129.5 483.9L1130.0 484.9L1130.5 486.0L1131.0 486.9L1131.5 487.5L1132.0 488.0L1132.5 490.0L1133.0 492.0L1133.5 494.0L1134.0 496.0L1134.5 498.0L1135.0 500.0L1135.5 492.5L1136.0 485.0L1136.5 477.5L1137.0 470.0L1137.5 463.4L1138.0 456.8L1138.5 450.2L1138.8 446.3L1139.0 447.0L1139.5 448.0L1140.0 447.8L1140.5 448.6L1141.0 452.2L1141.5 455.4L1142.0 455.7L1142.5 453.1L1143.0 450.9L1143.5 451.4L1144.0 454.3L1144.5 457.2L1145.0 457.9L1145.5 456.5L1146.0 454.7L1146.5 454.2L1147.0 455.6L1147.5 457.7L1148.0 459.2L1148.5 459.4L1149.0 458.2L1149.5 456.8L1150.0 456.1L1150.5 456.6L1151.0 457.9L1151.5 459.3L1152.0 460.1L1152.5 460.0L1153.0 459.2L1153.5 458.4L1154.0 457.9L1154.5 458.0L1155.0 458.7L1155.5 459.7L1156.0 460.6L1156.5 461.2L1157.0 461.2L1157.5 460.9L1158.0 460.3L1158.5 459.8L1159.0 459.6L1159.5 459.8L1160.0 460.2L1160.5 460.8L1161.0 461.5L1161.5 462.1L1162.0 462.6L1162.5 462.8L1163.0 462.8L1163.5 462.7L1164.0 462.4L1164.5 462.0L1165.0 461.7L1165.5 461.6L1166.0 461.6L1166.5 461.8L1167.0 462.2L1167.5 462.8L1168.0 463.4L1168.5 464.1L1169.0 464.6L1169.5 465.0L1170.0 465.2L1170.5 465.1L1171.0 464.8L1171.5 464.5L1172.0 464.0L1172.5 463.7L1173.0 463.5L1173.5 463.6L1173.7 463.7L1174.0 463.9L1174.5 464.3L1175.0 465.0L1175.5 465.7L1176.0 466.3L1176.5 466.8L1177.0 467.0L1177.5 467.1L1178.0 466.9L1178.5 466.5L1179.0 466.0L1179.5 465.6L1180.0 465.3L1180.5 465.2L1181.0 465.3L1181.5 465.6L1182.0 466.1L1182.5 466.8L1183.0 467.4L1183.5 467.9L1184.0 468.3L1184.5 468.5L1185.0 468.4L1185.5 468.2L1186.0 467.8L1186.5 467.4L1187.0 467.1L1187.5 466.9L1188.0 467.0L1188.5 467.2L1189.0 467.7L1189.5 468.2L1190.0 468.7L1190.5 469.1L1191.0 469.4L1191.5 469.4L1192.0 469.3L1192.5 469.0L1193.0 468.8L1193.5 468.6L1194.0 468.7L1194.5 468.8L1195.0 469.2L1195.5 469.5L1196.0 469.8L1196.5 470.0L1197.0 470.1L1197.5 470.1L1198.0 470.0L1198.5 469.9L1199.0 469.8L1199.5 469.8L1200.0 470.1L1200.5 470.5L1200.6 470.6L1201.0 471.0L1201.5 471.3L1202.0 471.4L1202.5 471.2L1203.0 470.8L1203.5 470.5L1204.0 470.5L1204.5 470.9L1205.0 471.6L1205.5 472.4L1206.0 472.8L1206.5 472.7L1207.0 472.1L1207.5 471.4L1208.0 471.1L1208.5 471.5L1209.0 472.4L1209.5 473.3L1210.0 474.0L1210.5 473.9L1211.0 473.4L1211.5 473.8L1212.0 474.4L1212.5 475.6L1213.0 477.5L1213.5 479.9L1214.0 482.3L1214.5 483.0L1215.0 482.8L1215.5 481.7L1216.0 480.2L1216.5 478.8L1217.0 478.1L1217.5 478.7L1218.0 480.2L1218.5 482.3L1219.0 484.0L1219.5 484.9L1220.0 484.3L1220.5 482.6L1221.0 480.1L1221.5 477.6L1222.0 476.1L1222.5 476.0L1223.0 477.5L1223.5 480.1L1224.0 483.2L1224.5 485.9L1225.0 487.5L1225.5 487.3L1226.0 485.5L1226.5 482.5L1227.0 478.9L1227.5 475.6L1228.0 473.6L1228.5 473.2L1229.0 474.4L1229.5 477.0L1230.0 480.4L1230.5 483.8L1231.0 486.5L1231.5 488.0L1232.0 488.0L1232.5 486.6L1233.0 484.2L1233.5 481.5L1234.0 478.9L1234.5 477.1L1235.0 476.5L1235.5 477.1L1236.0 478.7L1236.5 480.7L1237.0 482.8L1237.5 484.2L1238.0 484.8L1238.5 484.5L1239.0 483.5L1239.5 482.2L1240.0 481.0L1240.5 480.3L1241.0 480.2L1241.5 480.2L1242.0 480.7L1242.5 481.8L1243.0 483.3L1243.5 484.6L1244.0 485.1L1244.5 484.6L1245.0 483.0L1245.5 480.8L1246.0 478.8L1246.5 477.8L1247.0 478.3L1247.5 480.4L1248.0 483.5L1248.5 486.3L1249.0 487.9L1249.5 487.3L1250.0 484.6L1250.5 480.7L1251.0 477.2L1251.5 475.7L1252.0 477.0L1252.5 480.9L1253.0 485.3L1253.5 488.4L1254.0 488.8L1254.5 486.4L1255.0 482.7L1255.5 479.3L1256.0 477.9L1256.5 478.9L1257.0 481.7L1257.5 484.8L1258.0 486.9L1258.5 487.0L1259.0 485.4L1259.5 483.1L1260.0 481.3L1260.5 481.0L1261.0 482.1L1261.5 483.9L1262.0 485.4L1262.5 486.0L1263.0 485.5L1263.5 484.2L1264.0 482.9L1264.5 482.3L1265.0 482.7L1265.5 484.0L1266.0 485.4L1266.5 486.0L1267.0 485.6L1267.5 484.3L1268.0 483.1L1268.5 482.6L1269.0 483.3L1269.5 484.6L1270.0 485.8L1270.5 486.1L1271.0 485.2L1271.5 483.9L1272.0 483.0L1272.5 483.2L1273.0 484.3L1273.5 485.6L1274.0 486.2L1274.5 485.7L1275.0 484.5L1275.5 483.3L1276.0 483.1L1276.5 484.0L1277.0 485.5L1277.5 486.6L1278.0 486.5L1278.5 485.3L1279.0 483.7L1279.5 483.0L1280.0 483.4L1280.5 484.9L1281.0 486.5L1281.5 487.2L1282.0 486.6L1282.5 485.1L1283.0 483.5L1283.5 483.0L1284.0 483.9L1284.5 485.8L1285.0 487.6L1285.5 488.2L1286.0 487.3L1286.5 485.6L1287.0 484.2L1287.5 483.7L1288.0 484.5L1288.5 486.1L1289.0 487.5L1289.5 488.1L1290.0 487.8L1290.5 486.7L1291.0 485.6L1291.5 485.1L1292.0 485.3L1292.5 486.2L1293.0 487.2L1293.5 487.9L1294.0 488.0L1294.5 487.6L1295.0 487.1L1295.5 486.6L1296.0 486.5L1296.5 486.6L1297.0 487.1L1297.5 487.7L1298.0 488.4L1298.5 488.7L1299.0 488.5L1299.5 488.0L1300.0 487.3L1300.5 486.7L1301.0 486.6L1301.5 487.0L1302.0 487.8L1302.5 488.9L1303.0 489.7L1303.5 490.1L1304.0 489.9L1304.5 489.1L1305.0 488.1L1305.5 487.1L1306.0 486.6L1306.5 486.7L1307.0 487.4L1307.5 488.7L1308.0 489.9L1308.5 490.8L1309.0 491.2L1309.5 491.0L1310.0 490.4L1310.5 489.6L1311.0 488.8L1311.5 488.3L1312.0 488.0L1312.5 488.2L1313.0 488.7L1313.5 489.3L1314.0 490.0L1314.5 490.6L1315.0 491.0L1315.5 491.2L1316.0 491.2L1316.5 491.0L1317.0 490.7L1317.5 490.4L1318.0 490.2L1318.5 490.0L1319.0 489.8L1319.5 489.7L1320.0 489.9L1320.5 490.1L1321.0 490.6L1321.5 491.2L1322.0 491.8L1322.5 492.3L1323.0 492.7L1323.5 492.7L1324.0 492.5L1324.5 492.1L1325.0 491.4L1325.5 490.7L1326.0 490.2L1326.5 489.9L1327.0 489.9L1327.5 490.4L1328.0 491.2L1328.5 492.2L1329.0 493.3L1329.5 494.0L1330.0 494.3L1330.5 494.1L1331.0 493.6L1331.5 492.9L1332.0 492.2L1332.5 491.6L1333.0 491.3L1333.5 491.4L1334.0 491.8L1334.5 492.4L1335.0 493.0L1335.5 493.6L1336.0 494.0L1336.5 494.1L1337.0 494.0L1337.5 493.7L1338.0 493.4L1338.5 493.2L1339.0 493.0L1339.5 493.1L1340.0 493.2L1340.5 493.4L1341.0 493.6L1341.5 493.9L1342.0 494.2L1342.5 494.4L1343.0 494.5L1343.5 494.3L1344.0 494.0L1344.5 493.6L1345.0 493.3L1345.5 493.3L1346.0 493.5L1346.5 494.0L1347.0 494.6L1347.5 495.2L1348.0 495.6L1348.5 495.6L1349.0 495.2L1349.5 494.5L1350.0 493.8L1350.5 493.4L1351.0 493.4L1351.5 494.0L1352.0 494.9L1352.5 495.7L1353.0 496.3L1353.5 496.3L1354.0 495.8L1354.5 495.1L1355.0 494.5L1355.5 494.2L1356.0 494.3L1356.5 494.9L1357.0 495.6L1357.5 496.2L1358.0 496.5L1358.5 496.4L1359.0 495.9L1359.5 495.4L1360.0 495.1L1360.5 495.1L1361.0 495.5L1361.5 496.0L1362.0 496.5L1362.5 496.7L1363.0 496.7L1363.5 496.3L1364.0 495.9L1364.5 495.6L1365.0 495.6L1365.5 495.9L1366.0 496.4L1366.5 496.9L1367.0 497.2L1367.5 497.3L1368.0 497.1L1368.5 496.7L1369.0 496.3L1369.5 496.0L1370.0 496.0L1370.5 496.3L1371.0 496.8L1371.5 497.3L1372.0 497.7L1372.5 497.9L1373.0 497.8L1373.5 497.5L1374.0 497.1L1374.5 496.8L1375.0 496.6L1375.5 496.6L1376.0 496.9L1376.5 497.2L1377.0 497.6L1377.5 497.9L1378.0 498.2L1378.5 498.2L1379.0 498.2L1379.5 498.0L1380.0 497.9L1380.5 497.7L1381.0 497.6L1381.5 497.6L1382.0 497.6L1382.5 497.8L1383.0 498.0L1383.5 498.1L1384.0 498.3L1384.5 498.5L1385.0 498.6L1385.5 498.7L1386.0 498.7L1386.5 498.7L1387.0 498.6L1387.5 498.5L1388.0 498.4L1388.5 498.3L1388.7 498.3L1389.0 498.6L1389.5 499.1L1390.0 499.6L1390.5 500.0L1391.0 488.9L1391.4 480.0L1391.5 478.7L1392.0 472.3L1392.5 465.9L1393.0 459.5L1393.4 454.4L1393.5 454.5L1394.0 455.0L1394.5 455.3L1395.0 455.5L1395.5 455.8L1396.0 456.3L1396.5 456.7L1397.0 457.2L1397.5 457.8L1398.0 458.2L1398.5 458.4L1399.0 458.2L1399.5 457.8L1400.0 457.3L1400.5 456.8L1401.0 456.5L1401.5 456.5L1402.0 457.0L1402.5 457.7L1403.0 458.4L1403.5 459.1L1404.0 459.3L1404.5 459.2L1405.0 458.6L1405.5 457.9L1406.0 457.3L1406.5 457.0L1407.0 457.2L1407.5 457.9L1408.0 458.9L1408.5 459.8L1409.0 460.3L1409.5 460.2L1410.0 459.6L1410.5 458.7L1411.0 458.1L1411.5 458.1L1412.0 458.8L1412.5 460.0L1413.0 461.0L1413.5 461.5L1414.0 461.1L1414.5 460.1L1415.0 459.2L1415.5 459.0L1416.0 459.7L1416.5 461.0L1417.0 462.2L1417.5 462.4L1418.0 461.7L1418.5 460.6L1419.0 459.9L1419.5 460.3L1420.0 461.6L1420.5 462.9L1421.0 463.3L1421.5 462.5L1422.0 461.3L1422.5 460.8L1423.0 461.5L1423.5 463.0L1424.0 464.0L1424.5 463.7L1425.0 462.6L1425.5 461.6L1426.0 462.0L1426.5 463.5L1427.0 464.7L1427.5 464.5L1428.0 463.3L1428.5 462.4L1429.0 462.9L1429.5 464.3L1430.0 465.3L1430.5 465.1L1431.0 464.1L1431.5 463.4L1432.0 463.6L1432.5 464.7L1433.0 465.8L1433.5 465.9L1433.7 465.8L1434.0 465.3L1434.5 464.5L1435.0 464.3L1435.5 464.8L1436.0 465.7L1436.5 466.4L1437.0 466.4L1437.5 466.0L1438.0 465.4L1438.5 465.2L1439.0 465.5L1439.5 466.2L1440.0 466.9L1440.5 467.2L1441.0 467.0L1441.5 466.6L1442.0 466.1L1442.5 465.9L1443.0 466.2L1443.5 466.9L1444.0 467.6L1444.5 468.1L1445.0 468.1L1445.5 467.8L1446.0 467.3L1446.5 466.9L1447.0 466.8L1447.5 467.0L1448.0 467.6L1448.5 468.3L1449.0 468.9L1449.5 469.3L1450.0 469.2L1450.5 468.9L1451.0 468.4L1451.5 468.0L1452.0 467.7L1452.5 467.8L1453.0 468.3L1453.5 468.9L1454.0 469.6L1454.5 470.2L1455.0 470.4L1455.5 470.3L1456.0 469.9L1456.5 469.4L1457.0 469.0L1457.5 468.8L1458.0 469.0L1458.5 469.5L1459.0 470.2L1459.5 470.9L1460.0 471.4L1460.5 471.6L1460.6 471.5L1461.0 471.4L1461.5 470.9L1462.0 470.4L1462.5 470.1L1463.0 470.0L1463.5 470.2L1464.0 470.7L1464.5 471.4L1465.0 472.0L1465.5 472.4L1466.0 472.5L1466.5 472.3L1467.0 471.9L1467.5 471.6L1468.0 471.3L1468.5 471.3L1469.0 471.5L1469.5 472.0L1470.0 472.5L1470.5 473.0L1471.0 473.3L1471.5 473.4L1472.0 473.3L1472.5 473.0L1473.0 472.7L1473.5 472.5L1474.0 472.5L1474.5 472.7L1475.0 473.2L1475.5 473.8L1476.0 474.3L1476.5 474.6L1477.0 474.6L1477.5 474.4L1478.0 474.0L1478.5 473.6L1479.0 473.4L1479.5 473.5L1480.0 474.0L1480.5 474.6L1481.0 475.2L1481.5 475.7L1482.0 475.8L1482.5 475.6L1483.0 475.1L1483.5 474.6L1484.0 474.3L1484.5 474.3L1485.0 474.8L1485.5 475.6L1486.0 476.4L1486.5 477.0L1487.0 477.1L1487.5 476.7L1488.0 476.0L1488.5 475.3L1489.0 474.9L1489.5 475.2L1490.0 476.1L1490.5 477.3L1491.0 478.4L1491.5 479.0L1492.0 478.8L1492.5 477.9L1493.0 476.8L1493.5 475.9L1494.0 475.8L1494.5 476.8L1495.0 478.3L1495.5 479.8L1496.0 480.6L1496.5 480.4L1497.0 479.3L1497.5 478.1L1498.0 477.3L1498.5 477.4L1499.0 478.6L1499.5 480.1L1500.0 481.3L1500.5 481.6L1501.0 480.9L1501.5 479.3L1502.0 477.6L1502.5 476.9L1503.0 478.1L1503.5 480.6L1504.0 482.8L1504.5 483.0L1505.0 480.5L1505.5 476.9L1506.0 474.3L1506.5 475.2L1507.0 478.7L1507.5 482.5L1508.0 483.7L1508.5 481.5L1509.0 477.4L1509.5 474.6L1510.0 475.1L1510.5 478.5L1511.0 482.3L1511.5 483.4L1512.0 480.9L1512.5 476.8L1513.0 474.5L1513.5 475.9L1514.0 479.9L1514.5 482.9L1515.0 482.4L1515.5 478.8L1516.0 475.3L1516.5 474.9L1517.0 478.1L1517.5 482.2L1518.0 483.5L1518.5 480.8L1519.0 476.2L1519.5 473.7L1520.0 475.5L1520.5 480.2L1521.0 484.0L1521.5 483.6L1522.0 479.3L1522.5 474.4L1523.0 472.8L1523.5 475.9L1524.0 481.4L1524.5 485.1L1525.0 484.0L1525.5 479.0L1526.0 473.6L1526.5 471.8L1527.0 475.1L1527.5 481.1L1528.0 485.5L1528.5 485.3L1529.0 480.5L1529.5 474.5L1530.0 471.2L1530.5 472.9L1531.0 478.4L1531.5 484.2L1532.0 486.5L1532.5 483.9L1533.0 478.0L1533.5 472.5L1534.0 470.6L1534.5 473.6L1535.0 479.6L1535.5 485.1L1536.0 486.9L1536.5 484.1L1537.0 478.1L1537.5 472.4L1538.0 470.0L1538.5 472.5L1539.0 478.0L1539.5 483.3L1540.0 485.8L1540.5 484.5L1541.0 480.4L1541.5 475.8L1542.0 473.0L1542.5 473.1L1543.0 475.8L1543.5 479.4L1544.0 482.1L1544.5 482.9L1545.0 481.6L1545.5 479.2L1546.0 476.9L1546.5 475.7L1547.0 475.9L1547.5 477.4L1548.0 479.0L1548.5 480.0L1549.0 480.3L1549.5 480.3L1550.0 480.0L1550.5 479.4L1551.0 478.9L1551.5 478.8L1552.0 479.1L1552.5 479.9L1553.0 480.8L1553.5 481.5L1554.0 481.8L1554.5 481.8L1554.7 481.6L1555.0 481.3L1555.5 480.7L1556.0 480.0L1556.5 479.7L1557.0 479.7L1557.5 480.2L1558.0 480.9L1558.5 481.7L1559.0 482.2L1559.5 482.2L1560.0 481.7L1560.5 480.8L1561.0 479.6L1561.5 478.6L1562.0 478.1L1562.5 478.4L1563.0 479.4L1563.5 480.9L1564.0 482.4L1564.5 483.3L1565.0 483.2L1565.5 482.1L1566.0 480.1L1566.5 478.0L1567.0 476.4L1567.5 476.0L1568.0 477.0L1568.5 479.3L1569.0 482.0L1569.5 484.1L1570.0 484.9L1570.5 483.9L1571.0 481.5L1571.5 478.5L1572.0 476.1L1572.5 475.1L1573.0 475.9L1573.5 478.1L1574.0 480.9L1574.5 483.3L1575.0 484.4L1575.5 483.9L1576.0 482.0L1576.5 479.5L1577.0 477.3L1577.5 476.1L1578.0 476.4L1578.5 478.0L1579.0 480.3L1579.5 482.3L1580.0 483.5L1580.5 483.3L1581.0 481.9L1581.5 479.8L1582.0 478.0L1582.5 477.0L1583.0 477.2L1583.5 478.6L1584.0 480.4L1584.5 482.0L1585.0 482.6L1585.5 481.9L1586.0 480.4L1586.5 478.9L1587.0 478.0L1587.5 478.2L1588.0 479.3L1588.5 480.7L1589.0 481.5L1589.5 481.4L1590.0 480.5L1590.5 479.4L1591.0 478.9L1591.5 479.1L1592.0 479.8L1592.5 480.5L1593.0 480.7L1593.5 480.6L1594.0 479.9L1594.5 479.1L1595.0 478.9L1595.5 479.8L1596.0 481.1L1596.5 481.8L1597.0 481.4L1597.5 480.2L1598.0 479.4L1598.5 479.9L1599.0 481.5L1599.5 482.9L1600.0 482.9L1600.5 481.5L1601.0 480.3L1601.5 480.6L1602.0 482.3L1602.5 484.0L1603.0 483.9L1603.5 482.3L1604.0 481.0L1604.5 481.8L1605.0 483.6L1605.5 484.7L1606.0 484.3L1606.5 483.1L1607.0 482.4L1607.5 483.0L1608.0 484.3L1608.5 485.2L1609.0 485.2L1609.5 484.4L1610.0 483.7L1610.5 483.7L1611.0 484.5L1611.5 485.5L1612.0 486.2L1612.5 486.1L1613.0 485.4L1613.5 484.8L1614.0 484.7L1614.5 485.3L1615.0 486.2L1615.5 487.0L1616.0 487.3L1616.5 487.1L1617.0 486.4L1617.5 485.8L1618.0 485.7L1618.5 486.1L1619.0 487.0L1619.5 488.0L1620.0 488.7L1620.5 488.8L1621.0 488.5L1621.5 487.8L1622.0 487.1L1622.5 486.7L1623.0 486.7L1623.5 487.1L1624.0 487.9L1624.5 488.8L1625.0 489.5L1625.5 489.9L1626.0 489.8L1626.5 489.3L1627.0 488.6L1627.5 487.9L1628.0 487.3L1628.5 487.0L1629.0 487.2L1629.5 487.7L1630.0 488.4L1630.5 489.1L1631.0 489.7L1631.5 490.0L1632.0 490.0L1632.5 489.6L1633.0 489.1L1633.5 488.5L1634.0 488.0L1634.5 487.8L1635.0 488.0L1635.5 488.6L1636.0 489.3L1636.5 490.0L1637.0 490.5L1637.5 490.9L1638.0 491.1L1638.5 491.0L1639.0 490.8L1639.5 490.5L1640.0 490.4L1640.5 490.5L1641.0 490.8L1641.5 491.4L1642.0 492.0L1642.5 493.7L1643.0 495.2L1643.5 496.5L1644.0 497.6L1644.5 498.7L1645.0 500.0L1645.5 492.5L1646.0 485.0L1646.5 477.5L1647.0 470.0L1647.5 464.0L1648.0 457.9L1648.5 451.9L1649.0 445.8L1649.4 441.0L1649.5 441.3L1650.0 442.5L1650.5 443.0L1651.0 442.8L1651.5 442.6L1652.0 443.1L1652.5 445.0L1653.0 448.1L1653.5 450.7L1654.0 452.2L1654.5 452.1L1655.0 450.7L1655.5 448.6L1656.0 446.9L1656.5 446.5L1657.0 447.4L1657.5 449.4L1658.0 451.6L1658.5 453.0L1659.0 453.1L1659.5 452.1L1660.0 450.7L1660.5 449.6L1661.0 449.7L1661.5 450.8L1662.0 452.4L1662.5 453.7L1663.0 454.1L1663.5 453.7L1664.0 452.8L1664.5 452.2L1665.0 452.3L1665.5 453.1L1666.0 454.2L1666.5 455.0L1667.0 455.2L1667.5 454.8L1668.0 454.3L1668.5 454.2L1669.0 454.5L1669.5 455.2L1670.0 455.8L1670.5 456.1L1671.0 455.9L1671.5 455.5L1672.0 455.2L1672.5 455.4L1673.0 456.1L1673.5 457.0L1674.0 457.4L1674.5 457.3L1675.0 456.8L1675.5 456.2L1676.0 456.1L1676.5 456.7L1677.0 457.8L1677.5 458.7L1678.0 458.9L1678.5 458.5L1679.0 457.7L1679.5 457.1L1680.0 457.1L1680.5 457.9L1681.0 459.0L1681.5 460.0L1682.0 460.1L1682.5 459.6L1683.0 458.7L1683.5 457.9L1684.0 457.8L1684.5 458.4L1685.0 459.4L1685.5 460.4L1686.0 460.8L1686.5 460.6L1687.0 460.0L1687.5 459.2L1688.0 458.8L1688.5 458.9L1689.0 459.5L1689.5 460.4L1690.0 461.1L1690.5 461.5L1691.0 461.4L1691.5 460.9L1692.0 460.3L1692.5 459.9L1693.0 459.9L1693.5 460.3L1693.7 460.5L1694.0 460.9L1694.5 461.6L1695.0 462.1L1695.5 462.2L1696.0 461.9L1696.5 461.5L1697.0 461.2L1697.5 461.1L1698.0 461.3L1698.5 461.8L1699.0 462.3L1699.5 462.7L1700.0 462.8L1700.5 462.8L1701.0 462.6L1701.5 462.4L1702.0 462.4L1702.5 462.5L1703.0 462.8L1703.5 463.1L1704.0 463.4L1704.5 463.6L1705.0 463.6L1705.5 463.5L1706.0 463.4L1706.5 463.3L1707.0 463.4L1707.5 463.5L1708.0 463.7L1708.5 463.8L1709.0 463.8L1709.5 463.6L1710.0 463.2L1710.5 462.7L1711.0 462.4L1711.5 462.3L1712.0 462.4L1712.5 462.8L1713.0 463.0L1713.5 463.0L1714.0 462.7L1714.5 462.1L1715.0 461.3L1715.5 459.7L1716.0 458.7L1716.5 458.3L1717.0 458.3L1717.5 458.0L1718.0 456.8L1718.5 456.8L1719.0 456.1L1719.5 455.6L1720.0 456.4L1720.5 459.2L1721.0 463.2L1721.5 466.9L1722.0 468.6L1722.5 466.3L1723.0 462.6L1723.5 459.6L1724.0 459.5L1724.5 462.5L1725.0 467.2L1725.5 470.4L1726.0 470.4L1726.5 467.3L1727.0 463.3L1727.5 460.9L1728.0 461.7L1728.5 465.1L1729.0 469.1L1729.5 471.1L1730.0 470.0L1730.5 466.9L1731.0 463.9L1731.5 463.1L1732.0 465.0L1732.5 468.4L1733.0 470.9L1733.5 471.2L1734.0 469.1L1734.5 466.5L1735.0 465.3L1735.5 466.3L1736.0 468.8L1736.5 471.0L1737.0 471.6L1737.5 470.6L1738.0 468.8L1738.5 467.6L1739.0 467.9L1739.5 469.3L1740.0 471.0L1740.5 472.1L1741.0 472.2L1741.5 471.4L1742.0 470.4L1742.5 469.8L1743.0 470.0L1743.5 470.8L1744.0 471.9L1744.5 472.7L1745.0 473.1L1745.5 473.0L1746.0 472.6L1746.5 472.3L1747.0 472.1L1747.5 472.2L1748.0 472.5L1748.5 473.0L1749.0 473.6L1749.5 474.1L1750.0 474.3L1750.5 474.1L1751.0 473.7L1751.5 473.1L1752.0 472.6L1752.5 472.4L1753.0 472.5L1753.5 472.9L1754.0 473.5L1754.5 474.3L1755.0 474.9L1755.5 475.3L1756.0 475.4L1756.5 475.1L1757.0 474.6L1757.5 474.0L1758.0 473.3L1758.5 472.9L1759.0 472.6L1759.5 472.7L1760.0 473.1L1760.5 473.8L1761.0 474.6L1761.5 475.3L1762.0 475.9L1762.5 476.2L1763.0 476.1L1763.5 475.7L1764.0 475.0L1764.5 474.2L1765.0 473.5L1765.5 473.0L1766.0 472.8L1766.5 473.0L1767.0 473.5L1767.5 474.3L1768.0 475.1L1768.5 475.8L1769.0 476.2L1769.5 476.1L1770.0 475.7L1770.5 474.9L1771.0 474.2L1771.5 473.5L1772.0 473.1L1772.5 473.1L1773.0 473.4L1773.5 474.0L1774.0 474.7L1774.5 475.3L1775.0 475.7L1775.5 475.7L1776.0 475.4L1776.5 474.9L1777.0 474.3L1777.5 473.8L1778.0 473.5L1778.5 473.5L1779.0 473.8L1779.5 474.3L1780.0 474.8L1780.5 475.2L1781.0 475.3L1781.5 475.3L1782.0 475.0L1782.5 474.5L1783.0 474.1L1783.5 473.8L1784.0 473.7L1784.5 473.9L1785.0 474.3L1785.5 474.8L1786.0 475.1L1786.5 475.2L1787.0 475.1L1787.5 474.7L1787.8 474.5L1788.0 474.4L1788.5 474.3L1789.0 474.3L1789.5 474.7L1790.0 475.2L1790.5 475.9L1791.0 476.4L1791.5 476.7L1792.0 476.8L1792.5 476.5L1793.0 476.2L1793.5 476.0L1794.0 476.2L1794.5 476.8L1795.0 477.7L1795.5 478.6L1796.0 479.1L1796.5 479.1L1797.0 478.5L1797.5 477.7L1798.0 477.3L1798.5 477.6L1799.0 478.6L1799.5 480.0L1800.0 481.2L1800.5 481.5L1801.0 480.9L1801.5 479.5L1802.0 478.4L1802.5 478.2L1803.0 479.0L1803.5 480.4L1804.0 481.7L1804.5 482.2L1805.0 481.7L1805.5 480.6L1806.0 479.3L1806.5 478.6L1807.0 478.7L1807.5 479.6L1808.0 480.8L1808.5 481.9L1809.0 482.4L1809.5 482.1L1810.0 481.3L1810.5 480.2L1811.0 479.3L1811.5 479.0L1812.0 479.3L1812.5 480.2L1813.0 481.2L1813.5 482.1L1814.0 482.6L1814.5 482.6L1814.7 482.4L1815.0 482.1L1815.5 481.3L1816.0 480.5L1816.5 480.0L1817.0 479.9L1817.5 480.2L1818.0 480.9L1818.5 481.8L1819.0 482.7L1819.5 483.3L1820.0 483.7L1820.5 483.7L1821.0 483.4L1821.5 482.9L1822.0 482.4L1822.5 481.9L1823.0 481.6L1823.5 481.6L1824.0 481.8L1824.5 482.3L1825.0 482.8L1825.5 483.5L1826.0 484.1L1826.5 484.6L1827.0 485.0L1827.5 485.1L1828.0 484.9L1828.5 484.7L1829.0 484.3L1829.5 483.9L1830.0 483.6L1830.5 483.4L1831.0 483.4L1831.5 483.7L1832.0 484.1L1832.5 484.6L1833.0 485.2L1833.5 485.7L1834.0 486.1L1834.5 486.4L1835.0 486.4L1835.5 486.2L1836.0 485.9L1836.5 485.5L1837.0 485.2L1837.5 484.9L1838.0 484.9L1838.5 485.0L1839.0 485.3L1839.5 485.8L1840.0 486.3L1840.5 486.8L1841.0 487.3L1841.5 487.6L1841.6 487.6L1842.0 487.6L1842.5 487.5L1843.0 487.3L1843.5 486.9L1844.0 486.6L1844.5 486.3L1845.0 486.2L1845.5 486.3L1846.0 486.5L1846.5 486.9L1847.0 487.3L1847.5 487.9L1848.0 488.3L1848.5 488.7L1849.0 488.8L1849.5 488.8L1850.0 488.6L1850.5 488.2L1851.0 487.7L1851.5 487.3L1852.0 487.1L1852.5 487.0L1853.0 487.2L1853.5 487.6L1854.0 488.2L1854.5 488.9L1855.0 489.5L1855.5 490.0L1856.0 490.3L1856.5 490.3L1857.0 490.0L1857.5 489.5L1858.0 488.9L1858.5 488.4L1859.0 488.0L1859.5 487.9L1860.0 488.1L1860.5 488.5L1861.0 489.1L1861.5 489.8L1862.0 490.5L1862.5 491.0L1863.0 491.3L1863.5 491.3L1864.0 491.1L1864.5 490.7L1865.0 490.2L1865.5 489.8L1866.0 489.4L1866.5 489.2L1867.0 489.3L1867.5 489.6L1868.0 490.1L1868.5 490.7L1869.0 491.3L1869.5 491.8L1870.0 492.2L1870.5 492.3L1871.0 492.2L1871.5 491.7L1872.0 491.1L1872.5 490.4L1873.0 489.9L1873.5 489.6L1874.0 489.7L1874.5 490.1L1875.0 490.9L1875.5 491.8L1876.0 492.7L1876.5 493.3L1877.0 493.4L1877.5 493.1L1878.0 492.3L1878.5 491.3L1879.0 490.4L1879.5 489.9L1880.0 489.8L1880.5 490.4L1881.0 491.3L1881.5 492.4L1882.0 493.4L1882.5 493.9L1883.0 493.9L1883.5 493.3L1884.0 492.3L1884.5 491.2L1885.0 490.4L1885.5 490.2L1886.0 490.6L1886.5 491.5L1887.0 492.6L1887.5 493.6L1888.0 494.1L1888.5 493.9L1889.0 493.2L1889.5 492.1L1890.0 491.1L1890.5 490.5L1891.0 490.6L1891.5 491.5L1892.0 492.7L1892.5 493.8L1893.0 494.3L1893.5 494.0L1894.0 493.0L1894.5 491.7L1895.0 490.7L1895.5 491.5L1896.0 493.0L1896.5 494.5L1897.0 495.4L1897.5 495.7L1898.0 496.0L1898.5 497.3L1899.0 498.7L1899.5 500.0L1900.0 495.0L1900.5 490.0L1901.0 485.0L1901.5 480.0L1902.0 474.6L1902.5 469.2L1903.0 463.8L1903.5 458.4L1904.0 453.0L1904.5 455.3L1905.0 457.7L1905.5 458.9L1906.0 458.8L1906.5 459.4L1907.0 461.5L1907.5 462.8L1908.0 463.7L1908.5 463.5L1909.0 462.5L1909.5 461.6L1910.0 461.8L1910.5 462.8L1911.0 463.6L1911.5 463.6L1912.0 462.9L1912.5 462.2L1913.0 462.3L1913.5 463.1L1914.0 463.8L1914.5 463.8L1915.0 463.2L1915.5 462.6L1916.0 462.7L1916.5 463.4L1917.0 464.0L1917.5 464.0L1918.0 463.5L1918.5 463.0L1919.0 463.1L1919.5 463.6L1920.0 464.2L1920.5 464.4L1921.0 464.0L1921.5 463.7L1922.0 463.8L1922.5 464.4L1923.0 465.0L1923.5 465.3L1924.0 465.0L1924.5 464.5L1925.0 464.5L1925.5 465.1L1926.0 465.9L1926.5 466.3L1927.0 466.0L1927.5 465.4L1928.0 465.3L1928.5 465.8L1929.0 466.8L1929.5 467.3L1930.0 467.1L1930.5 466.4L1931.0 466.0L1931.5 466.4L1932.0 467.5L1932.5 468.3L1933.0 468.3L1933.5 467.5L1933.7 467.2L1934.0 466.8L1934.5 467.0L1935.0 467.9L1935.5 468.9L1936.0 469.0L1936.5 468.4L1937.0 467.7L1937.5 467.6L1938.0 468.3L1938.5 469.1L1939.0 469.5L1939.5 469.3L1940.0 468.7L1940.5 468.4L1941.0 468.7L1941.5 469.4L1942.0 469.9L1942.5 470.0L1943.0 469.6L1943.5 469.3L1944.0 469.3L1944.5 469.8L1945.0 470.3L1945.5 470.5L1946.0 470.4L1946.5 470.1L1947.0 470.0L1947.5 470.2L1948.0 470.8L1948.5 471.3L1949.0 471.4L1949.5 471.2L1950.0 471.0L1950.5 471.0L1951.0 471.4L1951.5 472.0L1952.0 472.4L1952.5 472.4L1953.0 472.1L1953.5 471.9L1954.0 472.1L1954.5 472.6L1955.0 473.2L1955.5 473.4L1956.0 473.3L1956.5 473.0L1957.0 472.9L1957.5 473.2L1958.0 473.8L1958.5 474.3L1959.0 474.5L1959.5 474.3L1960.0 474.0L1960.5 473.9L1960.6 474.0L1961.0 474.2L1961.5 474.7L1962.0 475.1L1962.5 475.2L1963.0 474.9L1963.5 474.5L1964.0 474.3L1964.5 474.4L1965.0 474.9L1965.5 475.4L1966.0 475.6L1966.5 475.5L1967.0 475.0L1967.5 474.7L1968.0 474.6L1968.5 475.0L1969.0 475.5L1969.5 475.8L1970.0 475.9L1970.5 475.7L1971.0 475.4L1971.5 475.1L1972.0 475.2L1972.5 475.4L1973.0 475.8L1973.5 476.1L1974.0 476.2L1974.5 476.1L1975.0 475.8L1975.5 475.6L1976.0 475.6L1976.5 475.8L1977.0 476.1L1977.5 476.3L1978.0 476.4L1978.5 476.4L1979.0 476.3L1979.5 476.1L1980.0 476.0L1980.5 476.1L1981.0 476.3L1981.5 476.6L1982.0 476.9L1982.5 476.9L1983.0 476.7L1983.5 476.5L1984.0 476.3L1984.5 476.3L1985.0 476.7L1985.5 477.1L1986.0 477.4L1986.5 477.3L1987.0 477.0L1987.4 476.7L1987.5 476.6L1988.0 476.5L1988.5 476.8L1989.0 477.3L1989.5 477.8L1990.0 477.9L1990.5 477.5L1991.0 476.9L1991.5 476.7L1992.0 477.1L1992.5 477.8L1993.0 478.4L1993.5 478.4L1994.0 477.8L1994.5 477.0L1995.0 476.9L1995.5 477.6L1996.0 478.6L1996.5 479.0L1997.0 478.6L1997.5 477.6L1998.0 477.0L1998.5 477.5L1999.0 478.7L1999.5 479.5L2000.0 479.3L2000.5 478.1L2001.0 477.3L2001.5 477.6L2002.0 478.8L2002.5 479.9L2003.0 480.0L2003.5 479.2L2004.0 478.2L2004.5 477.9L2005.0 478.6L2005.5 479.9L2006.0 480.7L2006.5 480.6L2007.0 479.7L2007.5 478.8L2008.0 478.6L2008.5 479.2L2009.0 480.3L2009.5 481.2L2010.0 481.4L2010.5 480.9L2011.0 480.0L2011.5 479.4L2012.0 479.4L2012.5 480.2L2013.0 481.2L2013.5 482.0L2014.0 482.2L2014.5 481.7L2015.0 480.9L2015.5 480.3L2016.0 480.0L2016.5 480.3L2017.0 481.1L2017.5 481.9L2018.0 482.5L2018.5 482.6L2019.0 482.3L2019.5 481.7L2020.0 481.1L2020.5 480.7L2021.0 480.7L2021.5 481.0L2022.0 481.6L2022.5 482.3L2023.0 482.9L2023.5 483.2L2024.0 483.1L2024.5 482.7L2025.0 482.1L2025.5 481.6L2026.0 481.2L2026.5 481.1L2027.0 481.5L2027.5 482.1L2027.7 482.4L2028.0 482.8L2028.5 483.5L2029.0 483.9L2029.5 484.0L2030.0 483.7L2030.5 483.1L2031.0 482.5L2031.5 481.9L2032.0 481.6L2032.5 481.6L2033.0 482.0L2033.5 482.7L2034.0 483.4L2034.5 484.2L2035.0 484.6L2035.5 484.8L2036.0 484.6L2036.5 484.1L2037.0 483.5L2037.5 482.8L2038.0 482.4L2038.5 482.1L2039.0 482.2L2039.5 482.7L2040.0 483.3L2040.5 484.1L2041.0 484.8L2041.5 485.3L2042.0 485.6L2042.5 485.6L2043.0 485.4L2043.5 484.9L2044.0 484.3L2044.5 483.8L2045.0 483.4L2045.5 483.3L2046.0 483.5L2046.5 483.9L2047.0 484.5L2047.5 485.2L2048.0 485.9L2048.5 486.4L2049.0 486.7L2049.5 486.7L2050.0 486.5L2050.5 486.2L2051.0 485.8L2051.5 485.4L2052.0 485.2L2052.5 485.1L2053.0 485.3L2053.5 485.6L2054.0 486.1L2054.5 486.6L2054.6 486.7L2055.0 487.0L2055.5 487.3L2056.0 487.5L2056.5 487.6L2057.0 487.4L2057.5 487.1L2058.0 486.7L2058.5 486.3L2059.0 486.0L2059.5 485.9L2060.0 486.0L2060.5 486.4L2061.0 487.0L2061.5 487.7L2062.0 488.2L2062.5 488.6L2063.0 488.7L2063.5 488.5L2064.0 488.0L2064.5 487.4L2065.0 486.8L2065.5 486.3L2066.0 486.1L2066.5 486.3L2067.0 486.9L2067.5 487.7L2068.0 488.5L2068.5 489.2L2069.0 489.6" stroke="#ff0000" stroke-dasharray="3.4 2.9"/>
</g>
<g class="tick">
<text transform="translate(223.1 526.00) scale(0.985 1)" text-anchor="end">0</text>
<text transform="translate(223.1 388.23) scale(0.985 1)" text-anchor="end">0.02</text>
<text transform="translate(223.1 250.46) scale(0.985 1)" text-anchor="end">0.04</text>
<text transform="translate(223.1 112.69) scale(0.985 1)" text-anchor="end">0.06</text>
<text transform="translate(239.20 581.2) scale(0.985 1)" text-anchor="middle">0</text>
<text transform="translate(605.00 581.2) scale(0.985 1)" text-anchor="middle">3</text>
<text transform="translate(970.80 581.2) scale(0.985 1)" text-anchor="middle">6</text>
<text transform="translate(1336.60 581.2) scale(0.985 1)" text-anchor="middle">9</text>
<text transform="translate(1702.40 581.2) scale(0.985 1)" text-anchor="middle">12</text>
<text transform="translate(2068.20 581.2) scale(0.985 1)" text-anchor="middle">15</text>
</g>
<text class="lab" y="650.2"><tspan x="1009.5" textLength="141.5" lengthAdjust="spacing">Time</tspan> <tspan x="1175" textLength="123" lengthAdjust="spacing">(sec)</tspan></text>
<text class="lab" transform="translate(72.8 362) rotate(-90)"><tspan x="0" font-style="italic">e</tspan> <tspan x="53.5" textLength="148" lengthAdjust="spacing">(Deg)</tspan></text>
<g>
<rect x="1838.2" y="38.6" width="210.8" height="146.2" fill="#ffffff" stroke="#3c3c3c" stroke-width="1.2"/>
<line x1="1844.1" y1="58.8" x2="1907" y2="58.8" stroke="#00ff00" stroke-width="4.1"/>
<line x1="1844.1" y1="94" x2="1907" y2="94" stroke="#0000ff" stroke-width="4.1" stroke-dasharray="12.6 12.4"/>
<line x1="1844.1" y1="129.4" x2="1907" y2="129.4" stroke="#000000" stroke-width="4.1" stroke-dasharray="12.5 3.3 5.9 3.3"/>
<line x1="1844.1" y1="164.8" x2="1907" y2="164.8" stroke="#ff0000" stroke-width="4.1" stroke-dasharray="3.4 2.9"/>
<g class="leg">
<text x="1911.1" y="70.1">MNTSM</text>
<text x="1911.1" y="105.4">ASMC</text>
<text x="1911.1" y="140.7">ATDC</text>
<text x="1911.1" y="176.0">ATDC-SM</text>
</g>
</g>
</svg>
</body>
</html>
